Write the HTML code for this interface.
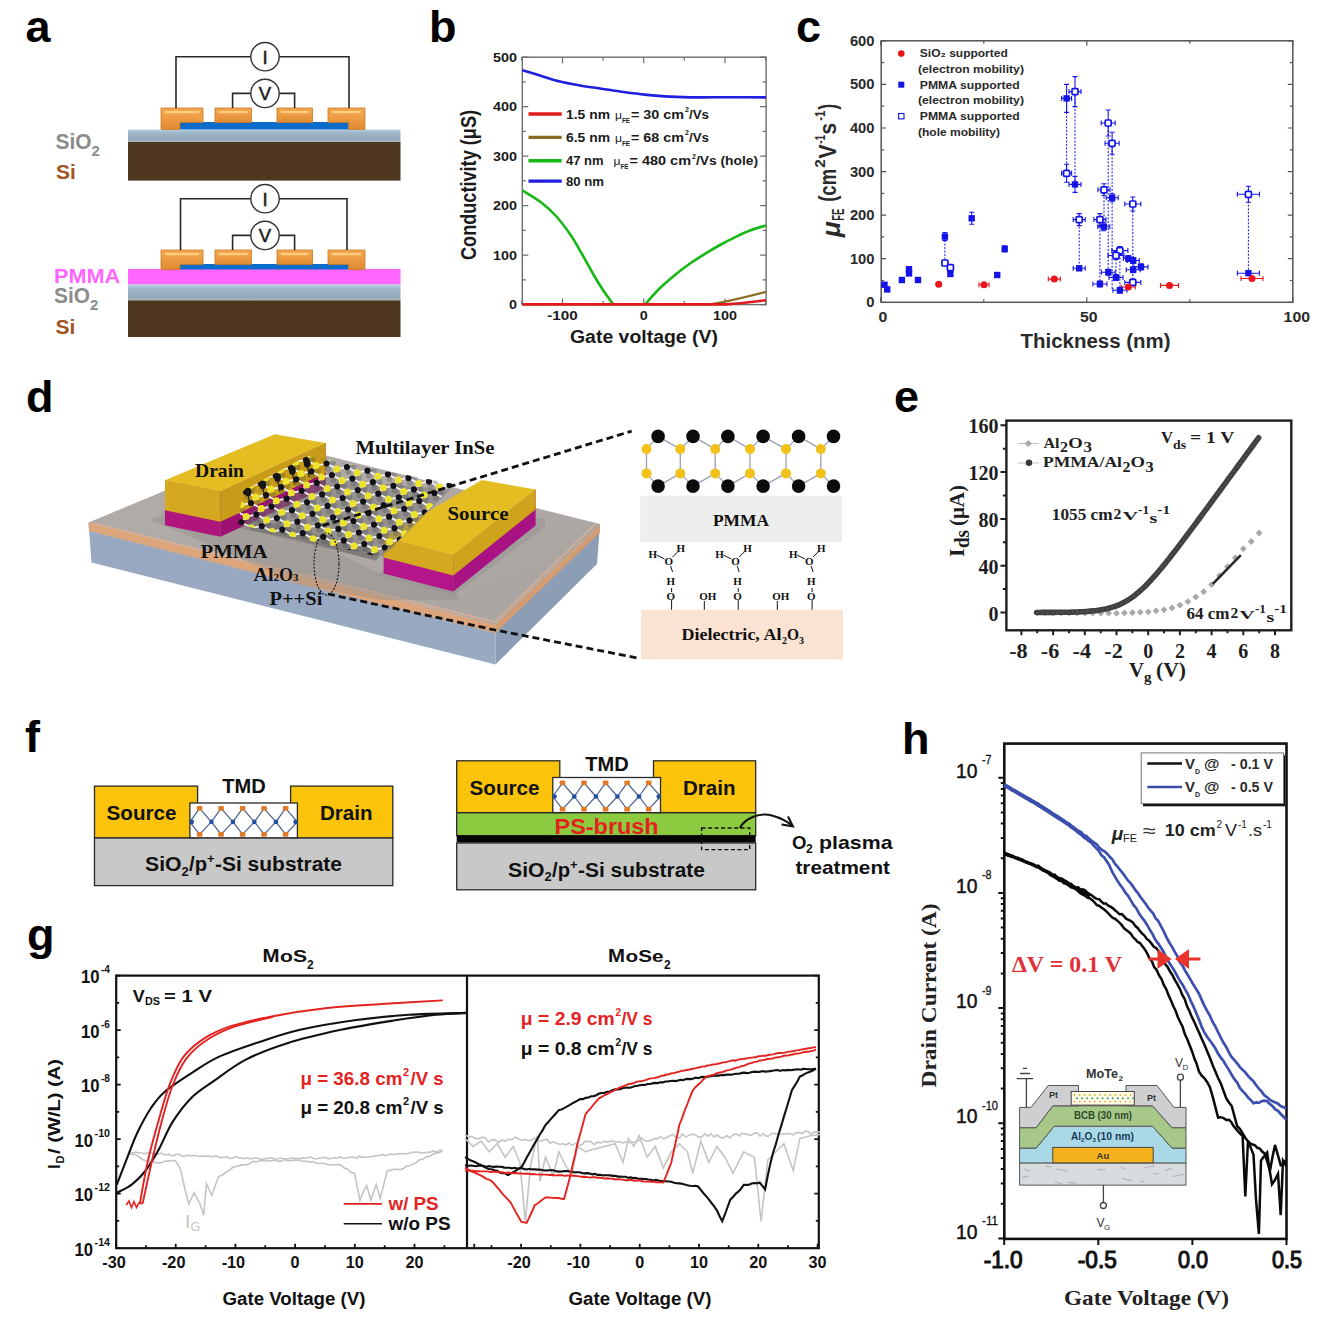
<!DOCTYPE html>
<html><head><meta charset="utf-8"><title>figure</title>
<style>html,body{margin:0;padding:0;background:#fff;overflow:hidden}svg{display:block}</style>
</head><body>
<svg width="1325" height="1321" viewBox="0 0 1325 1321">
<rect width="1325" height="1321" fill="#fff"/>
<text x="25.5" y="42.0" font-family='"Liberation Sans", sans-serif' font-size="45" font-weight="bold" fill="#000">a</text>
<text x="429.0" y="41.5" font-family='"Liberation Sans", sans-serif' font-size="45" font-weight="bold" fill="#000">b</text>
<text x="796.0" y="42.0" font-family='"Liberation Sans", sans-serif' font-size="45" font-weight="bold" fill="#000">c</text>
<text x="26.0" y="412.0" font-family='"Liberation Sans", sans-serif' font-size="45" font-weight="bold" fill="#000">d</text>
<text x="894.0" y="412.0" font-family='"Liberation Sans", sans-serif' font-size="45" font-weight="bold" fill="#000">e</text>
<text x="25.0" y="752.0" font-family='"Liberation Sans", sans-serif' font-size="45" font-weight="bold" fill="#000">f</text>
<text x="27.0" y="950.0" font-family='"Liberation Sans", sans-serif' font-size="45" font-weight="bold" fill="#000">g</text>
<text x="902.0" y="754.0" font-family='"Liberation Sans", sans-serif' font-size="45" font-weight="bold" fill="#000">h</text>
<defs><linearGradient id="elec" x1="0" y1="0" x2="0" y2="1"><stop offset="0" stop-color="#f2a850"/><stop offset="0.35" stop-color="#f0a048"/><stop offset="1" stop-color="#e08a30"/></linearGradient><linearGradient id="sio2" x1="0" y1="0" x2="0" y2="1"><stop offset="0" stop-color="#b4d4ee"/><stop offset="0.25" stop-color="#9fb6c8"/><stop offset="0.8" stop-color="#93a9ba"/><stop offset="1" stop-color="#aab6b8"/></linearGradient></defs>
<rect x="128" y="129.5" width="272.5" height="12.5" fill="url(#sio2)"/>
<rect x="128" y="142" width="272.5" height="38.6" fill="#4f361f"/>
<rect x="180" y="122.0" width="168.7" height="7.5" fill="#0b6ccc"/>
<path d="M161.0,108.0 L203.0,108.0 L203.0,122.5 L180.0,122.5 L180.0,129.5 L161.0,129.5 Z" fill="url(#elec)" stroke="#c97825" stroke-width="0.8"/>
<path d="M328.0,108.0 L365.0,108.0 L365.0,129.5 L348.7,129.5 L348.7,122.5 L328.0,122.5 Z" fill="url(#elec)" stroke="#c97825" stroke-width="0.8"/>
<rect x="215" y="108" width="36.5" height="14.5" fill="url(#elec)" stroke="#c97825" stroke-width="0.8"/>
<rect x="277" y="108" width="35.5" height="14.5" fill="url(#elec)" stroke="#c97825" stroke-width="0.8"/>
<rect x="165" y="111.0" width="34" height="2.2" fill="#ffd890" opacity="0.8"/>
<rect x="219" y="111.0" width="28.5" height="2.2" fill="#ffd890" opacity="0.8"/>
<rect x="281" y="111.0" width="27.5" height="2.2" fill="#ffd890" opacity="0.8"/>
<rect x="332" y="111.0" width="29" height="2.2" fill="#ffd890" opacity="0.8"/>
<path d="M176,108 V56.7 H349 V108" fill="none" stroke="#2a2a2a" stroke-width="1.6"/>
<path d="M232.6,108 V93.4 H294.6 V108" fill="none" stroke="#2a2a2a" stroke-width="1.6"/>
<circle cx="265" cy="56.7" r="14.2" fill="#fff" stroke="#333" stroke-width="1.4"/>
<text x="265.0" y="63.5" font-family='"Liberation Sans", sans-serif' font-size="18.5" font-weight="normal" fill="#1a1a1a" text-anchor="middle" stroke="#1a1a1a" stroke-width="0.5">I</text>
<circle cx="265" cy="93.4" r="14.2" fill="#fff" stroke="#333" stroke-width="1.4"/>
<text x="265.0" y="100.2" font-family='"Liberation Sans", sans-serif' font-size="18.5" font-weight="normal" fill="#1a1a1a" text-anchor="middle" stroke="#1a1a1a" stroke-width="0.5">V</text>
<rect x="128" y="268.9" width="272.5" height="15.8" fill="#ff66ff"/>
<rect x="128" y="284.7" width="272.5" height="15.7" fill="url(#sio2)"/>
<rect x="128" y="284.2" width="272.5" height="1.6" fill="#c9c3ea"/>
<rect x="128" y="300.4" width="272.5" height="36.6" fill="#4f361f"/>
<rect x="180" y="264.0" width="168.7" height="5.5" fill="#0b6ccc"/>
<path d="M161.0,250.0 L203.0,250.0 L203.0,264.5 L180.0,264.5 L180.0,269.5 L161.0,269.5 Z" fill="url(#elec)" stroke="#c97825" stroke-width="0.8"/>
<path d="M328.0,250.0 L365.0,250.0 L365.0,269.5 L348.7,269.5 L348.7,264.5 L328.0,264.5 Z" fill="url(#elec)" stroke="#c97825" stroke-width="0.8"/>
<rect x="215" y="250" width="36.5" height="14.5" fill="url(#elec)" stroke="#c97825" stroke-width="0.8"/>
<rect x="277" y="250" width="35.5" height="14.5" fill="url(#elec)" stroke="#c97825" stroke-width="0.8"/>
<rect x="165" y="253.0" width="34" height="2.2" fill="#ffd890" opacity="0.8"/>
<rect x="219" y="253.0" width="28.5" height="2.2" fill="#ffd890" opacity="0.8"/>
<rect x="281" y="253.0" width="27.5" height="2.2" fill="#ffd890" opacity="0.8"/>
<rect x="332" y="253.0" width="29" height="2.2" fill="#ffd890" opacity="0.8"/>
<path d="M180.5,250 V198.7 H347 V250" fill="none" stroke="#2a2a2a" stroke-width="1.6"/>
<path d="M232.6,250 V235.4 H294.6 V250" fill="none" stroke="#2a2a2a" stroke-width="1.6"/>
<circle cx="265" cy="198.7" r="14.2" fill="#fff" stroke="#333" stroke-width="1.4"/>
<text x="265.0" y="205.5" font-family='"Liberation Sans", sans-serif' font-size="18.5" font-weight="normal" fill="#1a1a1a" text-anchor="middle" stroke="#1a1a1a" stroke-width="0.5">I</text>
<circle cx="265" cy="235.4" r="14.2" fill="#fff" stroke="#333" stroke-width="1.4"/>
<text x="265.0" y="242.2" font-family='"Liberation Sans", sans-serif' font-size="18.5" font-weight="normal" fill="#1a1a1a" text-anchor="middle" stroke="#1a1a1a" stroke-width="0.5">V</text>
<text x="55.5" y="149.0" font-family='"Liberation Sans", sans-serif' font-size="21.5" font-weight="bold" fill="#8c8c8c" textLength="36.0" lengthAdjust="spacingAndGlyphs">SiO</text>
<text x="91.5" y="155.5" font-family='"Liberation Sans", sans-serif' font-size="15" font-weight="bold" fill="#8c8c8c">2</text>
<text x="56.0" y="178.5" font-family='"Liberation Sans", sans-serif' font-size="21" font-weight="bold" fill="#a4541e">Si</text>
<text x="54.0" y="283.0" font-family='"Liberation Sans", sans-serif' font-size="21" font-weight="bold" fill="#ff66ff" textLength="66.0" lengthAdjust="spacingAndGlyphs">PMMA</text>
<text x="54.0" y="302.5" font-family='"Liberation Sans", sans-serif' font-size="21.5" font-weight="bold" fill="#8c8c8c" textLength="36.0" lengthAdjust="spacingAndGlyphs">SiO</text>
<text x="90.0" y="309.5" font-family='"Liberation Sans", sans-serif' font-size="15" font-weight="bold" fill="#8c8c8c">2</text>
<text x="55.5" y="333.5" font-family='"Liberation Sans", sans-serif' font-size="21" font-weight="bold" fill="#a4541e">Si</text>
<rect x="522.3" y="57.2" width="243.8" height="247.4" fill="none" stroke="#6e6e6e" stroke-width="1.4"/>
<path d="M522.3,304.6 h6 M766.1,304.6 h-6 M522.3,279.9 h3.5 M766.1,279.9 h-3.5 M522.3,255.1 h6 M766.1,255.1 h-6 M522.3,230.4 h3.5 M766.1,230.4 h-3.5 M522.3,205.6 h6 M766.1,205.6 h-6 M522.3,180.9 h3.5 M766.1,180.9 h-3.5 M522.3,156.2 h6 M766.1,156.2 h-6 M522.3,131.4 h3.5 M766.1,131.4 h-3.5 M522.3,106.7 h6 M766.1,106.7 h-6 M522.3,81.9 h3.5 M766.1,81.9 h-3.5 M522.3,57.2 h6 M766.1,57.2 h-6 M521.8,304.6 v-3.5 M521.8,57.2 v3.5 M562.5,304.6 v-6 M562.5,57.2 v6 M603.1,304.6 v-3.5 M603.1,57.2 v3.5 M643.7,304.6 v-6 M643.7,57.2 v6 M684.3,304.6 v-3.5 M684.3,57.2 v3.5 M725.0,304.6 v-6 M725.0,57.2 v6 M765.6,304.6 v-3.5 M765.6,57.2 v3.5" stroke="#6e6e6e" stroke-width="1.2" fill="none"/>
<text x="517.0" y="309.2" font-family='"Liberation Sans", sans-serif' font-size="12.5" font-weight="bold" fill="#1a1a1a" text-anchor="end" textLength="8.0" lengthAdjust="spacingAndGlyphs">0</text>
<text x="517.0" y="259.7" font-family='"Liberation Sans", sans-serif' font-size="12.5" font-weight="bold" fill="#1a1a1a" text-anchor="end" textLength="24.0" lengthAdjust="spacingAndGlyphs">100</text>
<text x="517.0" y="210.2" font-family='"Liberation Sans", sans-serif' font-size="12.5" font-weight="bold" fill="#1a1a1a" text-anchor="end" textLength="24.0" lengthAdjust="spacingAndGlyphs">200</text>
<text x="517.0" y="160.8" font-family='"Liberation Sans", sans-serif' font-size="12.5" font-weight="bold" fill="#1a1a1a" text-anchor="end" textLength="24.0" lengthAdjust="spacingAndGlyphs">300</text>
<text x="517.0" y="111.3" font-family='"Liberation Sans", sans-serif' font-size="12.5" font-weight="bold" fill="#1a1a1a" text-anchor="end" textLength="24.0" lengthAdjust="spacingAndGlyphs">400</text>
<text x="517.0" y="61.8" font-family='"Liberation Sans", sans-serif' font-size="12.5" font-weight="bold" fill="#1a1a1a" text-anchor="end" textLength="24.0" lengthAdjust="spacingAndGlyphs">500</text>
<text x="562.5" y="320.0" font-family='"Liberation Sans", sans-serif' font-size="12.5" font-weight="bold" fill="#1a1a1a" text-anchor="middle" textLength="30.5" lengthAdjust="spacingAndGlyphs">-100</text>
<text x="643.7" y="320.0" font-family='"Liberation Sans", sans-serif' font-size="12.5" font-weight="bold" fill="#1a1a1a" text-anchor="middle" textLength="8.0" lengthAdjust="spacingAndGlyphs">0</text>
<text x="725.0" y="320.0" font-family='"Liberation Sans", sans-serif' font-size="12.5" font-weight="bold" fill="#1a1a1a" text-anchor="middle" textLength="24.0" lengthAdjust="spacingAndGlyphs">100</text>
<text x="644.0" y="342.5" font-family='"Liberation Sans", sans-serif' font-size="18" font-weight="bold" fill="#1a1a1a" text-anchor="middle" textLength="148.0" lengthAdjust="spacingAndGlyphs">Gate voltage (V)</text>
<text x="476.0" y="185.0" font-family='"Liberation Sans", sans-serif' font-size="22.5" font-weight="bold" fill="#1a1a1a" text-anchor="middle" textLength="150.0" lengthAdjust="spacingAndGlyphs" transform="rotate(-90 476.0 185.0)">Conductivity (μS)</text>
<path d="M522.5,70.2 C525.4,71.1 533.8,73.6 540.0,75.5 C546.2,77.4 553.3,79.8 560.0,81.5 C566.7,83.2 573.3,84.3 580.0,85.5 C586.7,86.7 593.3,87.5 600.0,88.5 C606.7,89.5 612.5,90.5 620.0,91.5 C627.5,92.5 636.7,93.8 645.0,94.6 C653.3,95.4 660.8,96.1 670.0,96.6 C679.2,97.1 690.0,97.3 700.0,97.4 C710.0,97.5 719.0,97.2 730.0,97.2 C741.0,97.2 760.0,97.4 766.0,97.4" fill="none" stroke="#1f1fe0" stroke-width="2.6"/>
<path d="M522.5,190.5 C525.5,192.4 535.0,197.8 540.6,202.0 C546.2,206.2 551.0,210.4 556.0,216.0 C561.0,221.6 566.5,229.0 570.8,235.3 C575.1,241.6 578.2,247.5 582.0,254.0 C585.8,260.5 589.9,268.5 593.4,274.5 C596.9,280.5 599.7,285.1 603.0,290.0 C606.3,294.9 611.3,301.7 613.0,304.0" fill="none" stroke="#16b816" stroke-width="2.6"/>
<path d="M645.3,304.0 C647.8,301.3 655.0,292.9 660.0,288.0 C665.0,283.1 670.5,278.6 675.5,274.5 C680.5,270.4 685.0,267.0 690.0,263.5 C695.0,260.0 700.7,256.5 705.7,253.4 C710.7,250.3 715.0,247.8 720.0,245.0 C725.0,242.2 730.8,239.2 735.8,236.8 C740.8,234.4 745.0,232.4 750.0,230.5 C755.0,228.6 763.3,226.3 766.0,225.5" fill="none" stroke="#16b816" stroke-width="2.6"/>
<path d="M522.5,304.2 H712 Q735,300 766,291.9" fill="none" stroke="#8a6a20" stroke-width="2.2"/>
<path d="M522.5,304.4 H726 Q745,303 766,300.2" fill="none" stroke="#e01b1b" stroke-width="2.6"/>
<line x1="528.5" y1="114" x2="561.7" y2="114" stroke="#e01b1b" stroke-width="3.4"/>
<line x1="528.5" y1="137.4" x2="561.7" y2="137.4" stroke="#8a6a20" stroke-width="3.4"/>
<line x1="528.5" y1="160.8" x2="561.7" y2="160.8" stroke="#16b816" stroke-width="3.4"/>
<line x1="528.5" y1="181.1" x2="561.7" y2="181.1" stroke="#1f1fe0" stroke-width="3.4"/>
<text x="566.0" y="118.8" font-family='"Liberation Sans", sans-serif' font-size="12" font-weight="bold" fill="#1a1a1a" textLength="44.0" lengthAdjust="spacingAndGlyphs">1.5 nm</text>
<text x="615.0" y="118.8" font-family='"Liberation Sans", sans-serif' font-size="11" font-weight="normal" fill="#1a1a1a" textLength="7.0" lengthAdjust="spacingAndGlyphs">μ</text>
<text x="622.0" y="122.5" font-family='"Liberation Sans", sans-serif' font-size="6.5" font-weight="bold" fill="#1a1a1a" textLength="8.0" lengthAdjust="spacingAndGlyphs">FE</text>
<text x="631.0" y="118.8" font-family='"Liberation Sans", sans-serif' font-size="12" font-weight="bold" fill="#1a1a1a" textLength="53.0" lengthAdjust="spacingAndGlyphs">= 30 cm</text>
<text x="685.0" y="112.0" font-family='"Liberation Sans", sans-serif' font-size="7" font-weight="bold" fill="#1a1a1a">2</text>
<text x="689.0" y="118.8" font-family='"Liberation Sans", sans-serif' font-size="12" font-weight="bold" fill="#1a1a1a" textLength="20.0" lengthAdjust="spacingAndGlyphs">/Vs</text>
<text x="566.0" y="141.8" font-family='"Liberation Sans", sans-serif' font-size="12" font-weight="bold" fill="#1a1a1a" textLength="44.0" lengthAdjust="spacingAndGlyphs">6.5 nm</text>
<text x="615.0" y="141.8" font-family='"Liberation Sans", sans-serif' font-size="11" font-weight="normal" fill="#1a1a1a" textLength="7.0" lengthAdjust="spacingAndGlyphs">μ</text>
<text x="622.0" y="145.5" font-family='"Liberation Sans", sans-serif' font-size="6.5" font-weight="bold" fill="#1a1a1a" textLength="8.0" lengthAdjust="spacingAndGlyphs">FE</text>
<text x="631.0" y="141.8" font-family='"Liberation Sans", sans-serif' font-size="12" font-weight="bold" fill="#1a1a1a" textLength="53.0" lengthAdjust="spacingAndGlyphs">= 68 cm</text>
<text x="685.0" y="135.0" font-family='"Liberation Sans", sans-serif' font-size="7" font-weight="bold" fill="#1a1a1a">2</text>
<text x="689.0" y="141.8" font-family='"Liberation Sans", sans-serif' font-size="12" font-weight="bold" fill="#1a1a1a" textLength="20.0" lengthAdjust="spacingAndGlyphs">/Vs</text>
<text x="566.0" y="165.2" font-family='"Liberation Sans", sans-serif' font-size="12" font-weight="bold" fill="#1a1a1a" textLength="37.5" lengthAdjust="spacingAndGlyphs">47 nm</text>
<text x="613.5" y="165.2" font-family='"Liberation Sans", sans-serif' font-size="11" font-weight="normal" fill="#1a1a1a" textLength="7.0" lengthAdjust="spacingAndGlyphs">μ</text>
<text x="620.5" y="169.0" font-family='"Liberation Sans", sans-serif' font-size="6.5" font-weight="bold" fill="#1a1a1a" textLength="8.0" lengthAdjust="spacingAndGlyphs">FE</text>
<text x="629.5" y="165.2" font-family='"Liberation Sans", sans-serif' font-size="12" font-weight="bold" fill="#1a1a1a" textLength="61.5" lengthAdjust="spacingAndGlyphs">= 480 cm</text>
<text x="692.0" y="158.5" font-family='"Liberation Sans", sans-serif' font-size="7" font-weight="bold" fill="#1a1a1a">2</text>
<text x="696.0" y="165.2" font-family='"Liberation Sans", sans-serif' font-size="12" font-weight="bold" fill="#1a1a1a" textLength="62.0" lengthAdjust="spacingAndGlyphs">/Vs (hole)</text>
<text x="566.0" y="185.5" font-family='"Liberation Sans", sans-serif' font-size="12" font-weight="bold" fill="#1a1a1a" textLength="38.0" lengthAdjust="spacingAndGlyphs">80 nm</text>
<rect x="881.2" y="40.8" width="411.6" height="261.5" fill="none" stroke="#555" stroke-width="1.5"/>
<path d="M881.2,302.3 h5 M1292.8,302.3 h-5 M881.2,280.5 h3 M1292.8,280.5 h-3 M881.2,258.7 h5 M1292.8,258.7 h-5 M881.2,236.9 h3 M1292.8,236.9 h-3 M881.2,215.1 h5 M1292.8,215.1 h-5 M881.2,193.4 h3 M1292.8,193.4 h-3 M881.2,171.6 h5 M1292.8,171.6 h-5 M881.2,149.8 h3 M1292.8,149.8 h-3 M881.2,128.0 h5 M1292.8,128.0 h-5 M881.2,106.2 h3 M1292.8,106.2 h-3 M881.2,84.4 h5 M1292.8,84.4 h-5 M881.2,62.6 h3 M1292.8,62.6 h-3 M881.2,40.8 h5 M1292.8,40.8 h-5 M880.8,302.3 v-5 M880.8,40.8 v5 M983.8,302.3 v-3 M983.8,40.8 v3 M1086.8,302.3 v-5 M1086.8,40.8 v5 M1189.8,302.3 v-3 M1189.8,40.8 v3 M1292.8,302.3 v-5 M1292.8,40.8 v5" stroke="#555" stroke-width="1.2" fill="none"/>
<text x="874.5" y="307.3" font-family='"Liberation Sans", sans-serif' font-size="14" font-weight="bold" fill="#2a2a2a" text-anchor="end" textLength="8.2" lengthAdjust="spacingAndGlyphs">0</text>
<text x="874.5" y="263.7" font-family='"Liberation Sans", sans-serif' font-size="14" font-weight="bold" fill="#2a2a2a" text-anchor="end" textLength="24.6" lengthAdjust="spacingAndGlyphs">100</text>
<text x="874.5" y="220.1" font-family='"Liberation Sans", sans-serif' font-size="14" font-weight="bold" fill="#2a2a2a" text-anchor="end" textLength="24.6" lengthAdjust="spacingAndGlyphs">200</text>
<text x="874.5" y="176.6" font-family='"Liberation Sans", sans-serif' font-size="14" font-weight="bold" fill="#2a2a2a" text-anchor="end" textLength="24.6" lengthAdjust="spacingAndGlyphs">300</text>
<text x="874.5" y="133.0" font-family='"Liberation Sans", sans-serif' font-size="14" font-weight="bold" fill="#2a2a2a" text-anchor="end" textLength="24.6" lengthAdjust="spacingAndGlyphs">400</text>
<text x="874.5" y="89.4" font-family='"Liberation Sans", sans-serif' font-size="14" font-weight="bold" fill="#2a2a2a" text-anchor="end" textLength="24.6" lengthAdjust="spacingAndGlyphs">500</text>
<text x="874.5" y="45.8" font-family='"Liberation Sans", sans-serif' font-size="14" font-weight="bold" fill="#2a2a2a" text-anchor="end" textLength="24.6" lengthAdjust="spacingAndGlyphs">600</text>
<text x="882.8" y="321.5" font-family='"Liberation Sans", sans-serif' font-size="14" font-weight="bold" fill="#2a2a2a" text-anchor="middle" textLength="8.8" lengthAdjust="spacingAndGlyphs">0</text>
<text x="1088.8" y="321.5" font-family='"Liberation Sans", sans-serif' font-size="14" font-weight="bold" fill="#2a2a2a" text-anchor="middle" textLength="17.6" lengthAdjust="spacingAndGlyphs">50</text>
<text x="1296.8" y="321.5" font-family='"Liberation Sans", sans-serif' font-size="14" font-weight="bold" fill="#2a2a2a" text-anchor="middle" textLength="26.4" lengthAdjust="spacingAndGlyphs">100</text>
<text x="1095.5" y="348.0" font-family='"Liberation Sans", sans-serif' font-size="20" font-weight="bold" fill="#2a2a2a" text-anchor="middle" textLength="150.0" lengthAdjust="spacingAndGlyphs">Thickness (nm)</text>
<g transform="translate(835.5 237.3) scale(1.15 1) rotate(-90)"><text x="0" y="3.5" font-family='"Liberation Sans", sans-serif' font-size="23" font-weight="bold" font-style="italic" fill="#2a2a2a" textLength="16" lengthAdjust="spacingAndGlyphs">μ</text><text x="16.5" y="7.5" font-family='"Liberation Sans", sans-serif' font-size="15" font-weight="bold" font-style="normal" fill="#2a2a2a" textLength="12" lengthAdjust="spacingAndGlyphs">FE</text><text x="35.5" y="0" font-family='"Liberation Sans", sans-serif' font-size="20" font-weight="bold" font-style="normal" fill="#2a2a2a" textLength="33" lengthAdjust="spacingAndGlyphs">(cm</text><text x="69.5" y="-9" font-family='"Liberation Sans", sans-serif' font-size="13" font-weight="bold" font-style="normal" fill="#2a2a2a" textLength="8.5" lengthAdjust="spacingAndGlyphs">2</text><text x="78.5" y="0" font-family='"Liberation Sans", sans-serif' font-size="20" font-weight="bold" font-style="normal" fill="#2a2a2a" textLength="14.5" lengthAdjust="spacingAndGlyphs">V</text><text x="93.5" y="-9" font-family='"Liberation Sans", sans-serif' font-size="12.5" font-weight="bold" font-style="normal" fill="#2a2a2a" textLength="9" lengthAdjust="spacingAndGlyphs">-1</text><text x="102.5" y="0" font-family='"Liberation Sans", sans-serif' font-size="20" font-weight="bold" font-style="normal" fill="#2a2a2a" textLength="12" lengthAdjust="spacingAndGlyphs">s</text><text x="116.5" y="-9" font-family='"Liberation Sans", sans-serif' font-size="12.5" font-weight="bold" font-style="normal" fill="#2a2a2a" textLength="10" lengthAdjust="spacingAndGlyphs">-1</text><text x="127.5" y="0" font-family='"Liberation Sans", sans-serif' font-size="20" font-weight="bold" font-style="normal" fill="#2a2a2a" textLength="6" lengthAdjust="spacingAndGlyphs">)</text></g>
<circle cx="901.3" cy="53.6" r="3.3" fill="#e8151b"/>
<rect x="898.3" y="81.7" width="6" height="6" fill="#1414e6"/>
<rect x="898.6" y="113.5" width="5.4" height="5.4" fill="none" stroke="#1414e6" stroke-width="1.1"/>
<text x="919.8" y="57.4" font-family='"Liberation Sans", sans-serif' font-size="11.5" font-weight="bold" fill="#2a2a2a" textLength="88.0" lengthAdjust="spacingAndGlyphs">SiO₂ supported</text>
<text x="918.0" y="72.9" font-family='"Liberation Sans", sans-serif' font-size="11.5" font-weight="bold" fill="#2a2a2a" textLength="106.0" lengthAdjust="spacingAndGlyphs">(electron mobility)</text>
<text x="919.8" y="88.9" font-family='"Liberation Sans", sans-serif' font-size="11.5" font-weight="bold" fill="#2a2a2a" textLength="100.0" lengthAdjust="spacingAndGlyphs">PMMA supported</text>
<text x="918.0" y="104.4" font-family='"Liberation Sans", sans-serif' font-size="11.5" font-weight="bold" fill="#2a2a2a" textLength="106.0" lengthAdjust="spacingAndGlyphs">(electron mobility)</text>
<text x="919.8" y="120.2" font-family='"Liberation Sans", sans-serif' font-size="11.5" font-weight="bold" fill="#2a2a2a" textLength="100.0" lengthAdjust="spacingAndGlyphs">PMMA supported</text>
<text x="918.0" y="135.5" font-family='"Liberation Sans", sans-serif' font-size="11.5" font-weight="bold" fill="#2a2a2a" textLength="82.0" lengthAdjust="spacingAndGlyphs">(hole mobility)</text>
<path d="M944.9,236.6 V263 M1066.6,98.4 V173.3 M1075,91.6 V184.4 M1108.2,123 V272.2 M1112.1,143.3 V290.3 M1079.2,219.6 V268.3 M1099.9,219.6 V284 M1104,189.8 V226.7 M1132.8,204 V282.4 M1116,255.5 V277.5 M1119.9,250.6 V290.3 M1248.4,194.3 V273.2" stroke="#1414e6" stroke-width="1" stroke-dasharray="2 1.5" fill="none"/>
<path d="M944.9,232.6 V240.6 M942.4,232.6 h5 M942.4,240.6 h5 M971.7,212.3 V224.3 M969.2,212.3 h5 M969.2,224.3 h5 M1004.7,245.9 V251.9 M1002.2,245.9 h5 M1002.2,251.9 h5 M1061.6,98.4 H1071.6 M1061.6,95.9 v5 M1071.6,95.9 v5 M1066.6,84.4 V112.4 M1064.1,84.4 h5 M1064.1,112.4 h5 M1069,184.4 H1081 M1069,181.9 v5 M1081,181.9 v5 M1075,176.4 V192.4 M1072.5,176.4 h5 M1072.5,192.4 h5 M1106.2,197.7 H1118.2 M1106.2,195.2 v5 M1118.2,195.2 v5 M1112.2,193.7 V201.7 M1109.7,193.7 h5 M1109.7,201.7 h5 M1073.2,268.3 H1085.2 M1073.2,265.8 v5 M1085.2,265.8 v5 M1097.8,226.7 H1109.8 M1097.8,224.2 v5 M1109.8,224.2 v5 M1103.8,222.7 V230.7 M1101.3,222.7 h5 M1101.3,230.7 h5 M1123.3,258.5 H1133.3 M1123.3,256.0 v5 M1133.3,256.0 v5 M1128.3,255.5 V261.5 M1125.8,255.5 h5 M1125.8,261.5 h5 M1127.2,260.5 H1139.2 M1127.2,258.0 v5 M1139.2,258.0 v5 M1133.2,257.5 V263.5 M1130.7,257.5 h5 M1130.7,263.5 h5 M1134,266.9 H1148 M1134,264.4 v5 M1148,264.4 v5 M1141,263.9 V269.9 M1138.5,263.9 h5 M1138.5,269.9 h5 M1126.2,269.7 H1140.2 M1126.2,267.2 v5 M1140.2,267.2 v5 M1133.2,266.7 V272.7 M1130.7,266.7 h5 M1130.7,272.7 h5 M1101.3,272.2 H1115.3 M1101.3,269.7 v5 M1115.3,269.7 v5 M1108.3,269.2 V275.2 M1105.8,269.2 h5 M1105.8,275.2 h5 M1109,277.5 H1123 M1109,275.0 v5 M1123,275.0 v5 M1116,274.5 V280.5 M1113.5,274.5 h5 M1113.5,280.5 h5 M1092.9,284 H1106.9 M1092.9,281.5 v5 M1106.9,281.5 v5 M1099.9,281 V287 M1097.4,281 h5 M1097.4,287 h5 M1112.9,290.3 H1126.9 M1112.9,287.8 v5 M1126.9,287.8 v5 M1119.9,287.3 V293.3 M1117.4,287.3 h5 M1117.4,293.3 h5 M1237.4,273.2 H1259.4 M1237.4,270.7 v5 M1259.4,270.7 v5 M1069,91.6 H1081 M1069,89.1 v5 M1081,89.1 v5 M1075,76.6 V106.6 M1072.5,76.6 h5 M1072.5,106.6 h5 M1061.6,173.3 H1071.6 M1061.6,170.8 v5 M1071.6,170.8 v5 M1066.6,164.3 V182.3 M1064.1,164.3 h5 M1064.1,182.3 h5 M1101.2,123 H1115.2 M1101.2,120.5 v5 M1115.2,120.5 v5 M1108.2,110 V136 M1105.7,110 h5 M1105.7,136 h5 M1105.1,143.3 H1119.1 M1105.1,140.8 v5 M1119.1,140.8 v5 M1112.1,132.3 V154.3 M1109.6,132.3 h5 M1109.6,154.3 h5 M1098,189.8 H1110 M1098,187.3 v5 M1110,187.3 v5 M1104,183.8 V195.8 M1101.5,183.8 h5 M1101.5,195.8 h5 M1124.8,204 H1140.8 M1124.8,201.5 v5 M1140.8,201.5 v5 M1132.8,197 V211 M1130.3,197 h5 M1130.3,211 h5 M1073.2,219.6 H1085.2 M1073.2,217.1 v5 M1085.2,217.1 v5 M1079.2,213.6 V225.6 M1076.7,213.6 h5 M1076.7,225.6 h5 M1093.9,219.6 H1105.9 M1093.9,217.1 v5 M1105.9,217.1 v5 M1099.9,213.6 V225.6 M1097.4,213.6 h5 M1097.4,225.6 h5 M1111.9,250.6 H1127.9 M1111.9,248.1 v5 M1127.9,248.1 v5 M1119.9,246.6 V254.6 M1117.4,246.6 h5 M1117.4,254.6 h5 M1108,255.5 H1124 M1108,253.0 v5 M1124,253.0 v5 M1116,251.5 V259.5 M1113.5,251.5 h5 M1113.5,259.5 h5 M1124.8,282.4 H1140.8 M1124.8,279.9 v5 M1140.8,279.9 v5 M1132.8,279.4 V285.4 M1130.3,279.4 h5 M1130.3,285.4 h5 M1237.4,194.3 H1259.4 M1237.4,191.8 v5 M1259.4,191.8 v5 M1248.4,186.3 V202.3 M1245.9,186.3 h5 M1245.9,202.3 h5 " stroke="#1414e6" stroke-width="1.1" fill="none"/>
<path d="M979,284.7 H989 M979,282.2 v5 M989,282.2 v5 M1048.3,279.1 H1060.3 M1048.3,276.6 v5 M1060.3,276.6 v5 M1121.3,287 H1135.3 M1121.3,284.5 v5 M1135.3,284.5 v5 M1160.5,285.4 H1178.5 M1160.5,282.9 v5 M1178.5,282.9 v5 M1241,278.5 H1263 M1241,276.0 v5 M1263,276.0 v5 " stroke="#e8151b" stroke-width="1.1" fill="none"/>
<rect x="881.3" y="281.5" width="6.4" height="6.4" fill="#1414e6"/>
<rect x="884.0" y="286.2" width="6.4" height="6.4" fill="#1414e6"/>
<rect x="898.7" y="276.8" width="6.4" height="6.4" fill="#1414e6"/>
<rect x="905.8" y="266.0" width="6.4" height="6.4" fill="#1414e6"/>
<rect x="905.8" y="270.2" width="6.4" height="6.4" fill="#1414e6"/>
<rect x="914.8" y="276.8" width="6.4" height="6.4" fill="#1414e6"/>
<rect x="941.7" y="233.4" width="6.4" height="6.4" fill="#1414e6"/>
<rect x="947.2" y="270.8" width="6.4" height="6.4" fill="#1414e6"/>
<rect x="968.5" y="215.1" width="6.4" height="6.4" fill="#1414e6"/>
<rect x="994.0" y="271.8" width="6.4" height="6.4" fill="#1414e6"/>
<rect x="1001.5" y="245.7" width="6.4" height="6.4" fill="#1414e6"/>
<rect x="1063.4" y="95.2" width="6.4" height="6.4" fill="#1414e6"/>
<rect x="1071.8" y="181.2" width="6.4" height="6.4" fill="#1414e6"/>
<rect x="1109.0" y="194.5" width="6.4" height="6.4" fill="#1414e6"/>
<rect x="1076.0" y="265.1" width="6.4" height="6.4" fill="#1414e6"/>
<rect x="1100.6" y="223.5" width="6.4" height="6.4" fill="#1414e6"/>
<rect x="1125.1" y="255.3" width="6.4" height="6.4" fill="#1414e6"/>
<rect x="1130.0" y="257.3" width="6.4" height="6.4" fill="#1414e6"/>
<rect x="1137.8" y="263.7" width="6.4" height="6.4" fill="#1414e6"/>
<rect x="1130.0" y="266.5" width="6.4" height="6.4" fill="#1414e6"/>
<rect x="1105.1" y="269.0" width="6.4" height="6.4" fill="#1414e6"/>
<rect x="1112.8" y="274.3" width="6.4" height="6.4" fill="#1414e6"/>
<rect x="1096.7" y="280.8" width="6.4" height="6.4" fill="#1414e6"/>
<rect x="1116.7" y="287.1" width="6.4" height="6.4" fill="#1414e6"/>
<rect x="1245.2" y="270.0" width="6.4" height="6.4" fill="#1414e6"/>
<rect x="941.9" y="260.0" width="6" height="6" rx="1" fill="#fff" stroke="#1414e6" stroke-width="1.7"/>
<rect x="947.4" y="264.7" width="6" height="6" rx="1" fill="#fff" stroke="#1414e6" stroke-width="1.7"/>
<rect x="1072.0" y="88.6" width="6" height="6" rx="1" fill="#fff" stroke="#1414e6" stroke-width="1.7"/>
<rect x="1063.6" y="170.3" width="6" height="6" rx="1" fill="#fff" stroke="#1414e6" stroke-width="1.7"/>
<rect x="1105.2" y="120.0" width="6" height="6" rx="1" fill="#fff" stroke="#1414e6" stroke-width="1.7"/>
<rect x="1109.1" y="140.3" width="6" height="6" rx="1" fill="#fff" stroke="#1414e6" stroke-width="1.7"/>
<rect x="1101.0" y="186.8" width="6" height="6" rx="1" fill="#fff" stroke="#1414e6" stroke-width="1.7"/>
<rect x="1129.8" y="201.0" width="6" height="6" rx="1" fill="#fff" stroke="#1414e6" stroke-width="1.7"/>
<rect x="1076.2" y="216.6" width="6" height="6" rx="1" fill="#fff" stroke="#1414e6" stroke-width="1.7"/>
<rect x="1096.9" y="216.6" width="6" height="6" rx="1" fill="#fff" stroke="#1414e6" stroke-width="1.7"/>
<rect x="1116.9" y="247.6" width="6" height="6" rx="1" fill="#fff" stroke="#1414e6" stroke-width="1.7"/>
<rect x="1113.0" y="252.5" width="6" height="6" rx="1" fill="#fff" stroke="#1414e6" stroke-width="1.7"/>
<rect x="1129.8" y="279.4" width="6" height="6" rx="1" fill="#fff" stroke="#1414e6" stroke-width="1.7"/>
<rect x="1245.4" y="191.3" width="6" height="6" rx="1" fill="#fff" stroke="#1414e6" stroke-width="1.7"/>
<circle cx="938.7" cy="284.2" r="3.5" fill="#e8151b"/>
<circle cx="984" cy="284.7" r="3.5" fill="#e8151b"/>
<circle cx="1054.3" cy="279.1" r="3.5" fill="#e8151b"/>
<circle cx="1128.3" cy="287" r="3.5" fill="#e8151b"/>
<circle cx="1169.5" cy="285.4" r="3.5" fill="#e8151b"/>
<circle cx="1252" cy="278.5" r="3.5" fill="#e8151b"/>
<defs><linearGradient id="dtop" x1="0" y1="0" x2="1" y2="1"><stop offset="0" stop-color="#b3ada9"/><stop offset="1" stop-color="#aba5a2"/></linearGradient></defs>
<path d="M88.5,522.5 L495.5,624.5 L495.5,664.5 L91.5,562.5 Z" fill="#98a9c1"/>
<path d="M495.5,624.5 L600.0,524.0 L597.0,564.0 L495.5,664.5 Z" fill="#8c9db6"/>
<path d="M88.5,522.5 L495.5,624.5 L495.5,633.0 L89.0,531.0 Z" fill="#dca57c"/>
<path d="M495.5,624.5 L600.0,524.0 L600.0,532.5 L495.5,633.0 Z" fill="#d49c72"/>
<path d="M88.5,522.5 L495.5,624.5 L600.0,524.0 L278.0,443.5 Z" fill="url(#dtop)"/>
<path d="M93.5,523.5 L495.5,622.0 L595.0,524.0" fill="none" stroke="#e2b394" stroke-width="1.6" opacity="0.8"/>
<path d="M165.0,513.0 L240.0,525.0 L320.0,545.0 L383.0,575.0 L455.0,590.0 L460.0,600.0 L380.0,600.0 L300.0,585.0 L210.0,545.0 L150.0,520.0 Z" fill="#8f8a88" opacity="0.35"/>
<path d="M160.0,512.0 L222.0,524.0 L332.0,478.0 L332.0,470.0 L270.0,462.0 Z" fill="#9a9696" opacity="0.6"/>
<path d="M165.0,480.2 L220.3,491.7 L220.3,536.7 L165.0,525.2 Z" fill="#b0157e"/>
<path d="M220.3,491.7 L325.7,443.0 L325.7,488.0 L220.3,536.7 Z" fill="#9e1070"/>
<path d="M165.0,480.2 L220.3,491.7 L220.3,521.7 L165.0,510.2 Z" fill="#d4a820"/>
<path d="M220.3,491.7 L325.7,443.0 L325.7,473.0 L220.3,521.7 Z" fill="#c89c18"/>
<path d="M165.0,480.2 L274.7,434.3 L325.7,443.0 L220.3,491.7 Z" fill="#e3bd22"/>
<path d="M376.0,575.0 L453.0,596.0 L545.0,527.0 L545.0,518.0 L470.0,520.0 Z" fill="#9a9696" opacity="0.6"/>
<path d="M383.6,537.4 L453.2,555.4 L453.2,591.4 L383.6,573.4 Z" fill="#b5158a"/>
<path d="M453.2,555.4 L535.6,489.4 L535.6,525.4 L453.2,591.4 Z" fill="#a81282"/>
<path d="M383.6,537.4 L453.2,555.4 L453.2,575.4 L383.6,557.4 Z" fill="#d4a820"/>
<path d="M453.2,555.4 L535.6,489.4 L535.6,509.4 L453.2,575.4 Z" fill="#cfa31c"/>
<path d="M383.6,537.4 L481.8,480.1 L535.6,489.4 L453.2,555.4 Z" fill="#e3bd22"/>
<defs><clipPath id="latclip"><path d="M238.0,524.0 L243.0,491.0 L307.0,456.0 L454.0,484.0 L392.0,547.0 L375.0,556.0 Z"/></clipPath></defs>
<path d="M240.0,528.0 L255.0,510.0 L325.0,478.0 L450.0,490.0 L390.0,550.0 L376.0,560.0 Z" fill="#7a7878" opacity="0.5"/>
<path d="M250.0,530.0 L300.0,540.0 L376.0,561.0 L380.0,552.0 L300.0,530.0 L250.0,518.0 Z" fill="#555" opacity="0.35"/>
<g clip-path="url(#latclip)">
<circle cx="199.6" cy="435.4" r="3" fill="#4a4a50" opacity="0.3"/><circle cx="209.9" cy="441.0" r="3" fill="#4a4a50" opacity="0.3"/><circle cx="220.1" cy="439.0" r="3" fill="#4a4a50" opacity="0.3"/><circle cx="230.4" cy="444.6" r="3" fill="#4a4a50" opacity="0.3"/><circle cx="240.6" cy="442.6" r="3" fill="#4a4a50" opacity="0.3"/><circle cx="250.9" cy="448.2" r="3" fill="#4a4a50" opacity="0.3"/><circle cx="261.1" cy="446.2" r="3" fill="#4a4a50" opacity="0.3"/><circle cx="271.4" cy="451.8" r="3" fill="#4a4a50" opacity="0.3"/><circle cx="281.6" cy="449.8" r="3" fill="#4a4a50" opacity="0.3"/><circle cx="291.9" cy="455.4" r="3" fill="#4a4a50" opacity="0.3"/><circle cx="302.1" cy="453.4" r="3" fill="#4a4a50" opacity="0.3"/><circle cx="312.4" cy="459.0" r="3" fill="#4a4a50" opacity="0.3"/><circle cx="322.6" cy="457.0" r="3" fill="#4a4a50" opacity="0.3"/><circle cx="332.9" cy="462.6" r="3" fill="#4a4a50" opacity="0.3"/><circle cx="343.1" cy="460.6" r="3" fill="#4a4a50" opacity="0.3"/><circle cx="353.4" cy="466.2" r="3" fill="#4a4a50" opacity="0.3"/><circle cx="363.6" cy="464.2" r="3" fill="#4a4a50" opacity="0.3"/><circle cx="373.9" cy="469.8" r="3" fill="#4a4a50" opacity="0.3"/><circle cx="384.1" cy="467.8" r="3" fill="#4a4a50" opacity="0.3"/><circle cx="394.4" cy="473.4" r="3" fill="#4a4a50" opacity="0.3"/><circle cx="404.6" cy="471.4" r="3" fill="#4a4a50" opacity="0.3"/><circle cx="414.9" cy="477.0" r="3" fill="#4a4a50" opacity="0.3"/><circle cx="425.1" cy="475.0" r="3" fill="#4a4a50" opacity="0.3"/><circle cx="435.4" cy="480.6" r="3" fill="#4a4a50" opacity="0.3"/><circle cx="445.6" cy="478.6" r="3" fill="#4a4a50" opacity="0.3"/><circle cx="455.9" cy="484.2" r="3" fill="#4a4a50" opacity="0.3"/><circle cx="466.1" cy="482.2" r="3" fill="#4a4a50" opacity="0.3"/><circle cx="476.4" cy="487.8" r="3" fill="#4a4a50" opacity="0.3"/><circle cx="486.6" cy="485.8" r="3" fill="#4a4a50" opacity="0.3"/><circle cx="496.9" cy="491.4" r="3" fill="#4a4a50" opacity="0.3"/><circle cx="205.0" cy="446.9" r="3" fill="#4a4a50" opacity="0.3"/><circle cx="215.3" cy="452.5" r="3" fill="#4a4a50" opacity="0.3"/><circle cx="225.5" cy="450.5" r="3" fill="#4a4a50" opacity="0.3"/><circle cx="235.8" cy="456.1" r="3" fill="#4a4a50" opacity="0.3"/><circle cx="246.0" cy="454.1" r="3" fill="#4a4a50" opacity="0.3"/><circle cx="256.3" cy="459.7" r="3" fill="#4a4a50" opacity="0.3"/><circle cx="266.5" cy="457.7" r="3" fill="#4a4a50" opacity="0.3"/><circle cx="276.8" cy="463.3" r="3" fill="#4a4a50" opacity="0.3"/><circle cx="287.0" cy="461.3" r="3" fill="#4a4a50" opacity="0.3"/><circle cx="297.3" cy="466.9" r="3" fill="#4a4a50" opacity="0.3"/><circle cx="307.5" cy="464.9" r="3" fill="#4a4a50" opacity="0.3"/><circle cx="317.8" cy="470.5" r="3" fill="#4a4a50" opacity="0.3"/><circle cx="328.0" cy="468.5" r="3" fill="#4a4a50" opacity="0.3"/><circle cx="338.3" cy="474.1" r="3" fill="#4a4a50" opacity="0.3"/><circle cx="348.5" cy="472.1" r="3" fill="#4a4a50" opacity="0.3"/><circle cx="358.8" cy="477.7" r="3" fill="#4a4a50" opacity="0.3"/><circle cx="369.0" cy="475.7" r="3" fill="#4a4a50" opacity="0.3"/><circle cx="379.3" cy="481.3" r="3" fill="#4a4a50" opacity="0.3"/><circle cx="389.5" cy="479.3" r="3" fill="#4a4a50" opacity="0.3"/><circle cx="399.8" cy="484.9" r="3" fill="#4a4a50" opacity="0.3"/><circle cx="410.0" cy="482.9" r="3" fill="#4a4a50" opacity="0.3"/><circle cx="420.3" cy="488.5" r="3" fill="#4a4a50" opacity="0.3"/><circle cx="430.5" cy="486.5" r="3" fill="#4a4a50" opacity="0.3"/><circle cx="440.8" cy="492.1" r="3" fill="#4a4a50" opacity="0.3"/><circle cx="451.0" cy="490.1" r="3" fill="#4a4a50" opacity="0.3"/><circle cx="461.3" cy="495.7" r="3" fill="#4a4a50" opacity="0.3"/><circle cx="471.5" cy="493.7" r="3" fill="#4a4a50" opacity="0.3"/><circle cx="481.8" cy="499.3" r="3" fill="#4a4a50" opacity="0.3"/><circle cx="492.0" cy="497.3" r="3" fill="#4a4a50" opacity="0.3"/><circle cx="502.3" cy="502.9" r="3" fill="#4a4a50" opacity="0.3"/><circle cx="210.4" cy="458.4" r="3" fill="#4a4a50" opacity="0.3"/><circle cx="220.7" cy="464.0" r="3" fill="#4a4a50" opacity="0.3"/><circle cx="230.9" cy="462.0" r="3" fill="#4a4a50" opacity="0.3"/><circle cx="241.2" cy="467.6" r="3" fill="#4a4a50" opacity="0.3"/><circle cx="251.4" cy="465.6" r="3" fill="#4a4a50" opacity="0.3"/><circle cx="261.7" cy="471.2" r="3" fill="#4a4a50" opacity="0.3"/><circle cx="271.9" cy="469.2" r="3" fill="#4a4a50" opacity="0.3"/><circle cx="282.2" cy="474.8" r="3" fill="#4a4a50" opacity="0.3"/><circle cx="292.4" cy="472.8" r="3" fill="#4a4a50" opacity="0.3"/><circle cx="302.7" cy="478.4" r="3" fill="#4a4a50" opacity="0.3"/><circle cx="312.9" cy="476.4" r="3" fill="#4a4a50" opacity="0.3"/><circle cx="323.2" cy="482.0" r="3" fill="#4a4a50" opacity="0.3"/><circle cx="333.4" cy="480.0" r="3" fill="#4a4a50" opacity="0.3"/><circle cx="343.7" cy="485.6" r="3" fill="#4a4a50" opacity="0.3"/><circle cx="353.9" cy="483.6" r="3" fill="#4a4a50" opacity="0.3"/><circle cx="364.2" cy="489.2" r="3" fill="#4a4a50" opacity="0.3"/><circle cx="374.4" cy="487.2" r="3" fill="#4a4a50" opacity="0.3"/><circle cx="384.7" cy="492.8" r="3" fill="#4a4a50" opacity="0.3"/><circle cx="394.9" cy="490.8" r="3" fill="#4a4a50" opacity="0.3"/><circle cx="405.2" cy="496.4" r="3" fill="#4a4a50" opacity="0.3"/><circle cx="415.4" cy="494.4" r="3" fill="#4a4a50" opacity="0.3"/><circle cx="425.7" cy="500.0" r="3" fill="#4a4a50" opacity="0.3"/><circle cx="435.9" cy="498.0" r="3" fill="#4a4a50" opacity="0.3"/><circle cx="446.2" cy="503.6" r="3" fill="#4a4a50" opacity="0.3"/><circle cx="456.4" cy="501.6" r="3" fill="#4a4a50" opacity="0.3"/><circle cx="466.7" cy="507.2" r="3" fill="#4a4a50" opacity="0.3"/><circle cx="476.9" cy="505.2" r="3" fill="#4a4a50" opacity="0.3"/><circle cx="487.2" cy="510.8" r="3" fill="#4a4a50" opacity="0.3"/><circle cx="497.4" cy="508.8" r="3" fill="#4a4a50" opacity="0.3"/><circle cx="507.7" cy="514.4" r="3" fill="#4a4a50" opacity="0.3"/><circle cx="215.8" cy="469.9" r="3" fill="#4a4a50" opacity="0.3"/><circle cx="226.1" cy="475.5" r="3" fill="#4a4a50" opacity="0.3"/><circle cx="236.3" cy="473.5" r="3" fill="#4a4a50" opacity="0.3"/><circle cx="246.6" cy="479.1" r="3" fill="#4a4a50" opacity="0.3"/><circle cx="256.8" cy="477.1" r="3" fill="#4a4a50" opacity="0.3"/><circle cx="267.1" cy="482.7" r="3" fill="#4a4a50" opacity="0.3"/><circle cx="277.3" cy="480.7" r="3" fill="#4a4a50" opacity="0.3"/><circle cx="287.6" cy="486.3" r="3" fill="#4a4a50" opacity="0.3"/><circle cx="297.8" cy="484.3" r="3" fill="#4a4a50" opacity="0.3"/><circle cx="308.1" cy="489.9" r="3" fill="#4a4a50" opacity="0.3"/><circle cx="318.3" cy="487.9" r="3" fill="#4a4a50" opacity="0.3"/><circle cx="328.6" cy="493.5" r="3" fill="#4a4a50" opacity="0.3"/><circle cx="338.8" cy="491.5" r="3" fill="#4a4a50" opacity="0.3"/><circle cx="349.1" cy="497.1" r="3" fill="#4a4a50" opacity="0.3"/><circle cx="359.3" cy="495.1" r="3" fill="#4a4a50" opacity="0.3"/><circle cx="369.6" cy="500.7" r="3" fill="#4a4a50" opacity="0.3"/><circle cx="379.8" cy="498.7" r="3" fill="#4a4a50" opacity="0.3"/><circle cx="390.1" cy="504.3" r="3" fill="#4a4a50" opacity="0.3"/><circle cx="400.3" cy="502.3" r="3" fill="#4a4a50" opacity="0.3"/><circle cx="410.6" cy="507.9" r="3" fill="#4a4a50" opacity="0.3"/><circle cx="420.8" cy="505.9" r="3" fill="#4a4a50" opacity="0.3"/><circle cx="431.1" cy="511.5" r="3" fill="#4a4a50" opacity="0.3"/><circle cx="441.3" cy="509.5" r="3" fill="#4a4a50" opacity="0.3"/><circle cx="451.6" cy="515.1" r="3" fill="#4a4a50" opacity="0.3"/><circle cx="461.8" cy="513.1" r="3" fill="#4a4a50" opacity="0.3"/><circle cx="472.1" cy="518.7" r="3" fill="#4a4a50" opacity="0.3"/><circle cx="482.3" cy="516.7" r="3" fill="#4a4a50" opacity="0.3"/><circle cx="492.6" cy="522.3" r="3" fill="#4a4a50" opacity="0.3"/><circle cx="502.8" cy="520.3" r="3" fill="#4a4a50" opacity="0.3"/><circle cx="513.1" cy="525.9" r="3" fill="#4a4a50" opacity="0.3"/><circle cx="221.2" cy="481.4" r="3" fill="#4a4a50" opacity="0.3"/><circle cx="231.5" cy="487.0" r="3" fill="#4a4a50" opacity="0.3"/><circle cx="241.7" cy="485.0" r="3" fill="#4a4a50" opacity="0.3"/><circle cx="252.0" cy="490.6" r="3" fill="#4a4a50" opacity="0.3"/><circle cx="262.2" cy="488.6" r="3" fill="#4a4a50" opacity="0.3"/><circle cx="272.5" cy="494.2" r="3" fill="#4a4a50" opacity="0.3"/><circle cx="282.7" cy="492.2" r="3" fill="#4a4a50" opacity="0.3"/><circle cx="293.0" cy="497.8" r="3" fill="#4a4a50" opacity="0.3"/><circle cx="303.2" cy="495.8" r="3" fill="#4a4a50" opacity="0.3"/><circle cx="313.5" cy="501.4" r="3" fill="#4a4a50" opacity="0.3"/><circle cx="323.7" cy="499.4" r="3" fill="#4a4a50" opacity="0.3"/><circle cx="334.0" cy="505.0" r="3" fill="#4a4a50" opacity="0.3"/><circle cx="344.2" cy="503.0" r="3" fill="#4a4a50" opacity="0.3"/><circle cx="354.5" cy="508.6" r="3" fill="#4a4a50" opacity="0.3"/><circle cx="364.7" cy="506.6" r="3" fill="#4a4a50" opacity="0.3"/><circle cx="375.0" cy="512.2" r="3" fill="#4a4a50" opacity="0.3"/><circle cx="385.2" cy="510.2" r="3" fill="#4a4a50" opacity="0.3"/><circle cx="395.5" cy="515.8" r="3" fill="#4a4a50" opacity="0.3"/><circle cx="405.7" cy="513.8" r="3" fill="#4a4a50" opacity="0.3"/><circle cx="416.0" cy="519.4" r="3" fill="#4a4a50" opacity="0.3"/><circle cx="426.2" cy="517.4" r="3" fill="#4a4a50" opacity="0.3"/><circle cx="436.5" cy="523.0" r="3" fill="#4a4a50" opacity="0.3"/><circle cx="446.7" cy="521.0" r="3" fill="#4a4a50" opacity="0.3"/><circle cx="457.0" cy="526.6" r="3" fill="#4a4a50" opacity="0.3"/><circle cx="467.2" cy="524.6" r="3" fill="#4a4a50" opacity="0.3"/><circle cx="477.5" cy="530.2" r="3" fill="#4a4a50" opacity="0.3"/><circle cx="487.7" cy="528.2" r="3" fill="#4a4a50" opacity="0.3"/><circle cx="498.0" cy="533.8" r="3" fill="#4a4a50" opacity="0.3"/><circle cx="508.2" cy="531.8" r="3" fill="#4a4a50" opacity="0.3"/><circle cx="518.5" cy="537.4" r="3" fill="#4a4a50" opacity="0.3"/><circle cx="226.6" cy="492.9" r="3" fill="#4a4a50" opacity="0.3"/><circle cx="236.9" cy="498.5" r="3" fill="#4a4a50" opacity="0.3"/><circle cx="247.1" cy="496.5" r="3" fill="#4a4a50" opacity="0.3"/><circle cx="257.4" cy="502.1" r="3" fill="#4a4a50" opacity="0.3"/><circle cx="267.6" cy="500.1" r="3" fill="#4a4a50" opacity="0.3"/><circle cx="277.9" cy="505.7" r="3" fill="#4a4a50" opacity="0.3"/><circle cx="288.1" cy="503.7" r="3" fill="#4a4a50" opacity="0.3"/><circle cx="298.4" cy="509.3" r="3" fill="#4a4a50" opacity="0.3"/><circle cx="308.6" cy="507.3" r="3" fill="#4a4a50" opacity="0.3"/><circle cx="318.9" cy="512.9" r="3" fill="#4a4a50" opacity="0.3"/><circle cx="329.1" cy="510.9" r="3" fill="#4a4a50" opacity="0.3"/><circle cx="339.4" cy="516.5" r="3" fill="#4a4a50" opacity="0.3"/><circle cx="349.6" cy="514.5" r="3" fill="#4a4a50" opacity="0.3"/><circle cx="359.9" cy="520.1" r="3" fill="#4a4a50" opacity="0.3"/><circle cx="370.1" cy="518.1" r="3" fill="#4a4a50" opacity="0.3"/><circle cx="380.4" cy="523.7" r="3" fill="#4a4a50" opacity="0.3"/><circle cx="390.6" cy="521.7" r="3" fill="#4a4a50" opacity="0.3"/><circle cx="400.9" cy="527.3" r="3" fill="#4a4a50" opacity="0.3"/><circle cx="411.1" cy="525.3" r="3" fill="#4a4a50" opacity="0.3"/><circle cx="421.4" cy="530.9" r="3" fill="#4a4a50" opacity="0.3"/><circle cx="431.6" cy="528.9" r="3" fill="#4a4a50" opacity="0.3"/><circle cx="441.9" cy="534.5" r="3" fill="#4a4a50" opacity="0.3"/><circle cx="452.1" cy="532.5" r="3" fill="#4a4a50" opacity="0.3"/><circle cx="462.4" cy="538.1" r="3" fill="#4a4a50" opacity="0.3"/><circle cx="472.6" cy="536.1" r="3" fill="#4a4a50" opacity="0.3"/><circle cx="482.9" cy="541.7" r="3" fill="#4a4a50" opacity="0.3"/><circle cx="493.1" cy="539.7" r="3" fill="#4a4a50" opacity="0.3"/><circle cx="503.4" cy="545.3" r="3" fill="#4a4a50" opacity="0.3"/><circle cx="513.6" cy="543.3" r="3" fill="#4a4a50" opacity="0.3"/><circle cx="523.9" cy="548.9" r="3" fill="#4a4a50" opacity="0.3"/><circle cx="232.0" cy="504.4" r="3" fill="#4a4a50" opacity="0.3"/><circle cx="242.3" cy="510.0" r="3" fill="#4a4a50" opacity="0.3"/><circle cx="252.5" cy="508.0" r="3" fill="#4a4a50" opacity="0.3"/><circle cx="262.8" cy="513.6" r="3" fill="#4a4a50" opacity="0.3"/><circle cx="273.0" cy="511.6" r="3" fill="#4a4a50" opacity="0.3"/><circle cx="283.3" cy="517.2" r="3" fill="#4a4a50" opacity="0.3"/><circle cx="293.5" cy="515.2" r="3" fill="#4a4a50" opacity="0.3"/><circle cx="303.8" cy="520.8" r="3" fill="#4a4a50" opacity="0.3"/><circle cx="314.0" cy="518.8" r="3" fill="#4a4a50" opacity="0.3"/><circle cx="324.3" cy="524.4" r="3" fill="#4a4a50" opacity="0.3"/><circle cx="334.5" cy="522.4" r="3" fill="#4a4a50" opacity="0.3"/><circle cx="344.8" cy="528.0" r="3" fill="#4a4a50" opacity="0.3"/><circle cx="355.0" cy="526.0" r="3" fill="#4a4a50" opacity="0.3"/><circle cx="365.3" cy="531.6" r="3" fill="#4a4a50" opacity="0.3"/><circle cx="375.5" cy="529.6" r="3" fill="#4a4a50" opacity="0.3"/><circle cx="385.8" cy="535.2" r="3" fill="#4a4a50" opacity="0.3"/><circle cx="396.0" cy="533.2" r="3" fill="#4a4a50" opacity="0.3"/><circle cx="406.3" cy="538.8" r="3" fill="#4a4a50" opacity="0.3"/><circle cx="416.5" cy="536.8" r="3" fill="#4a4a50" opacity="0.3"/><circle cx="426.8" cy="542.4" r="3" fill="#4a4a50" opacity="0.3"/><circle cx="437.0" cy="540.4" r="3" fill="#4a4a50" opacity="0.3"/><circle cx="447.3" cy="546.0" r="3" fill="#4a4a50" opacity="0.3"/><circle cx="457.5" cy="544.0" r="3" fill="#4a4a50" opacity="0.3"/><circle cx="467.8" cy="549.6" r="3" fill="#4a4a50" opacity="0.3"/><circle cx="478.0" cy="547.6" r="3" fill="#4a4a50" opacity="0.3"/><circle cx="488.3" cy="553.2" r="3" fill="#4a4a50" opacity="0.3"/><circle cx="498.5" cy="551.2" r="3" fill="#4a4a50" opacity="0.3"/><circle cx="508.8" cy="556.8" r="3" fill="#4a4a50" opacity="0.3"/><circle cx="519.0" cy="554.8" r="3" fill="#4a4a50" opacity="0.3"/><circle cx="529.3" cy="560.4" r="3" fill="#4a4a50" opacity="0.3"/><circle cx="237.4" cy="515.9" r="3" fill="#4a4a50" opacity="0.3"/><circle cx="247.7" cy="521.5" r="3" fill="#4a4a50" opacity="0.3"/><circle cx="257.9" cy="519.5" r="3" fill="#4a4a50" opacity="0.3"/><circle cx="268.2" cy="525.1" r="3" fill="#4a4a50" opacity="0.3"/><circle cx="278.4" cy="523.1" r="3" fill="#4a4a50" opacity="0.3"/><circle cx="288.7" cy="528.7" r="3" fill="#4a4a50" opacity="0.3"/><circle cx="298.9" cy="526.7" r="3" fill="#4a4a50" opacity="0.3"/><circle cx="309.2" cy="532.3" r="3" fill="#4a4a50" opacity="0.3"/><circle cx="319.4" cy="530.3" r="3" fill="#4a4a50" opacity="0.3"/><circle cx="329.7" cy="535.9" r="3" fill="#4a4a50" opacity="0.3"/><circle cx="339.9" cy="533.9" r="3" fill="#4a4a50" opacity="0.3"/><circle cx="350.2" cy="539.5" r="3" fill="#4a4a50" opacity="0.3"/><circle cx="360.4" cy="537.5" r="3" fill="#4a4a50" opacity="0.3"/><circle cx="370.7" cy="543.1" r="3" fill="#4a4a50" opacity="0.3"/><circle cx="380.9" cy="541.1" r="3" fill="#4a4a50" opacity="0.3"/><circle cx="391.2" cy="546.7" r="3" fill="#4a4a50" opacity="0.3"/><circle cx="401.4" cy="544.7" r="3" fill="#4a4a50" opacity="0.3"/><circle cx="411.7" cy="550.3" r="3" fill="#4a4a50" opacity="0.3"/><circle cx="421.9" cy="548.3" r="3" fill="#4a4a50" opacity="0.3"/><circle cx="432.2" cy="553.9" r="3" fill="#4a4a50" opacity="0.3"/><circle cx="442.4" cy="551.9" r="3" fill="#4a4a50" opacity="0.3"/><circle cx="452.7" cy="557.5" r="3" fill="#4a4a50" opacity="0.3"/><circle cx="462.9" cy="555.5" r="3" fill="#4a4a50" opacity="0.3"/><circle cx="473.2" cy="561.1" r="3" fill="#4a4a50" opacity="0.3"/><circle cx="483.4" cy="559.1" r="3" fill="#4a4a50" opacity="0.3"/><circle cx="493.7" cy="564.7" r="3" fill="#4a4a50" opacity="0.3"/><circle cx="503.9" cy="562.7" r="3" fill="#4a4a50" opacity="0.3"/><circle cx="514.2" cy="568.3" r="3" fill="#4a4a50" opacity="0.3"/><circle cx="524.4" cy="566.3" r="3" fill="#4a4a50" opacity="0.3"/><circle cx="534.7" cy="571.9" r="3" fill="#4a4a50" opacity="0.3"/><circle cx="242.8" cy="527.4" r="3" fill="#4a4a50" opacity="0.3"/><circle cx="253.1" cy="533.0" r="3" fill="#4a4a50" opacity="0.3"/><circle cx="263.3" cy="531.0" r="3" fill="#4a4a50" opacity="0.3"/><circle cx="273.6" cy="536.6" r="3" fill="#4a4a50" opacity="0.3"/><circle cx="283.8" cy="534.6" r="3" fill="#4a4a50" opacity="0.3"/><circle cx="294.1" cy="540.2" r="3" fill="#4a4a50" opacity="0.3"/><circle cx="304.3" cy="538.2" r="3" fill="#4a4a50" opacity="0.3"/><circle cx="314.6" cy="543.8" r="3" fill="#4a4a50" opacity="0.3"/><circle cx="324.8" cy="541.8" r="3" fill="#4a4a50" opacity="0.3"/><circle cx="335.1" cy="547.4" r="3" fill="#4a4a50" opacity="0.3"/><circle cx="345.3" cy="545.4" r="3" fill="#4a4a50" opacity="0.3"/><circle cx="355.6" cy="551.0" r="3" fill="#4a4a50" opacity="0.3"/><circle cx="365.8" cy="549.0" r="3" fill="#4a4a50" opacity="0.3"/><circle cx="376.1" cy="554.6" r="3" fill="#4a4a50" opacity="0.3"/><circle cx="386.3" cy="552.6" r="3" fill="#4a4a50" opacity="0.3"/><circle cx="396.6" cy="558.2" r="3" fill="#4a4a50" opacity="0.3"/><circle cx="406.8" cy="556.2" r="3" fill="#4a4a50" opacity="0.3"/><circle cx="417.1" cy="561.8" r="3" fill="#4a4a50" opacity="0.3"/><circle cx="427.3" cy="559.8" r="3" fill="#4a4a50" opacity="0.3"/><circle cx="437.6" cy="565.4" r="3" fill="#4a4a50" opacity="0.3"/><circle cx="447.8" cy="563.4" r="3" fill="#4a4a50" opacity="0.3"/><circle cx="458.1" cy="569.0" r="3" fill="#4a4a50" opacity="0.3"/><circle cx="468.3" cy="567.0" r="3" fill="#4a4a50" opacity="0.3"/><circle cx="478.6" cy="572.6" r="3" fill="#4a4a50" opacity="0.3"/><circle cx="488.8" cy="570.6" r="3" fill="#4a4a50" opacity="0.3"/><circle cx="499.1" cy="576.2" r="3" fill="#4a4a50" opacity="0.3"/><circle cx="509.3" cy="574.2" r="3" fill="#4a4a50" opacity="0.3"/><circle cx="519.6" cy="579.8" r="3" fill="#4a4a50" opacity="0.3"/><circle cx="529.8" cy="577.8" r="3" fill="#4a4a50" opacity="0.3"/><circle cx="540.1" cy="583.4" r="3" fill="#4a4a50" opacity="0.3"/><circle cx="248.2" cy="538.9" r="3" fill="#4a4a50" opacity="0.3"/><circle cx="258.5" cy="544.5" r="3" fill="#4a4a50" opacity="0.3"/><circle cx="268.7" cy="542.5" r="3" fill="#4a4a50" opacity="0.3"/><circle cx="279.0" cy="548.1" r="3" fill="#4a4a50" opacity="0.3"/><circle cx="289.2" cy="546.1" r="3" fill="#4a4a50" opacity="0.3"/><circle cx="299.5" cy="551.7" r="3" fill="#4a4a50" opacity="0.3"/><circle cx="309.7" cy="549.7" r="3" fill="#4a4a50" opacity="0.3"/><circle cx="320.0" cy="555.3" r="3" fill="#4a4a50" opacity="0.3"/><circle cx="330.2" cy="553.3" r="3" fill="#4a4a50" opacity="0.3"/><circle cx="340.5" cy="558.9" r="3" fill="#4a4a50" opacity="0.3"/><circle cx="350.7" cy="556.9" r="3" fill="#4a4a50" opacity="0.3"/><circle cx="361.0" cy="562.5" r="3" fill="#4a4a50" opacity="0.3"/><circle cx="371.2" cy="560.5" r="3" fill="#4a4a50" opacity="0.3"/><circle cx="381.5" cy="566.1" r="3" fill="#4a4a50" opacity="0.3"/><circle cx="391.7" cy="564.1" r="3" fill="#4a4a50" opacity="0.3"/><circle cx="402.0" cy="569.7" r="3" fill="#4a4a50" opacity="0.3"/><circle cx="412.2" cy="567.7" r="3" fill="#4a4a50" opacity="0.3"/><circle cx="422.5" cy="573.3" r="3" fill="#4a4a50" opacity="0.3"/><circle cx="432.7" cy="571.3" r="3" fill="#4a4a50" opacity="0.3"/><circle cx="443.0" cy="576.9" r="3" fill="#4a4a50" opacity="0.3"/><circle cx="453.2" cy="574.9" r="3" fill="#4a4a50" opacity="0.3"/><circle cx="463.5" cy="580.5" r="3" fill="#4a4a50" opacity="0.3"/><circle cx="473.7" cy="578.5" r="3" fill="#4a4a50" opacity="0.3"/><circle cx="484.0" cy="584.1" r="3" fill="#4a4a50" opacity="0.3"/><circle cx="494.2" cy="582.1" r="3" fill="#4a4a50" opacity="0.3"/><circle cx="504.5" cy="587.7" r="3" fill="#4a4a50" opacity="0.3"/><circle cx="514.7" cy="585.7" r="3" fill="#4a4a50" opacity="0.3"/><circle cx="525.0" cy="591.3" r="3" fill="#4a4a50" opacity="0.3"/><circle cx="535.2" cy="589.3" r="3" fill="#4a4a50" opacity="0.3"/><circle cx="545.5" cy="594.9" r="3" fill="#4a4a50" opacity="0.3"/><circle cx="253.6" cy="550.4" r="3" fill="#4a4a50" opacity="0.3"/><circle cx="263.9" cy="556.0" r="3" fill="#4a4a50" opacity="0.3"/><circle cx="274.1" cy="554.0" r="3" fill="#4a4a50" opacity="0.3"/><circle cx="284.4" cy="559.6" r="3" fill="#4a4a50" opacity="0.3"/><circle cx="294.6" cy="557.6" r="3" fill="#4a4a50" opacity="0.3"/><circle cx="304.9" cy="563.2" r="3" fill="#4a4a50" opacity="0.3"/><circle cx="315.1" cy="561.2" r="3" fill="#4a4a50" opacity="0.3"/><circle cx="325.4" cy="566.8" r="3" fill="#4a4a50" opacity="0.3"/><circle cx="335.6" cy="564.8" r="3" fill="#4a4a50" opacity="0.3"/><circle cx="345.9" cy="570.4" r="3" fill="#4a4a50" opacity="0.3"/><circle cx="356.1" cy="568.4" r="3" fill="#4a4a50" opacity="0.3"/><circle cx="366.4" cy="574.0" r="3" fill="#4a4a50" opacity="0.3"/><circle cx="376.6" cy="572.0" r="3" fill="#4a4a50" opacity="0.3"/><circle cx="386.9" cy="577.6" r="3" fill="#4a4a50" opacity="0.3"/><circle cx="397.1" cy="575.6" r="3" fill="#4a4a50" opacity="0.3"/><circle cx="407.4" cy="581.2" r="3" fill="#4a4a50" opacity="0.3"/><circle cx="417.6" cy="579.2" r="3" fill="#4a4a50" opacity="0.3"/><circle cx="427.9" cy="584.8" r="3" fill="#4a4a50" opacity="0.3"/><circle cx="438.1" cy="582.8" r="3" fill="#4a4a50" opacity="0.3"/><circle cx="448.4" cy="588.4" r="3" fill="#4a4a50" opacity="0.3"/><circle cx="458.6" cy="586.4" r="3" fill="#4a4a50" opacity="0.3"/><circle cx="468.9" cy="592.0" r="3" fill="#4a4a50" opacity="0.3"/><circle cx="479.1" cy="590.0" r="3" fill="#4a4a50" opacity="0.3"/><circle cx="489.4" cy="595.6" r="3" fill="#4a4a50" opacity="0.3"/><circle cx="499.6" cy="593.6" r="3" fill="#4a4a50" opacity="0.3"/><circle cx="509.9" cy="599.2" r="3" fill="#4a4a50" opacity="0.3"/><circle cx="520.1" cy="597.2" r="3" fill="#4a4a50" opacity="0.3"/><circle cx="530.4" cy="602.8" r="3" fill="#4a4a50" opacity="0.3"/><circle cx="540.6" cy="600.8" r="3" fill="#4a4a50" opacity="0.3"/><circle cx="550.9" cy="606.4" r="3" fill="#4a4a50" opacity="0.3"/>
<path d="M198.1,430.4 L208.4,436.0 L218.6,434.0 M208.4,436.0 L203.5,441.9 M218.6,434.0 L228.9,439.6 L239.1,437.6 M228.9,439.6 L224.0,445.5 M239.1,437.6 L249.4,443.2 L259.6,441.2 M249.4,443.2 L244.5,449.1 M259.6,441.2 L269.9,446.8 L280.1,444.8 M269.9,446.8 L265.0,452.7 M280.1,444.8 L290.4,450.4 L300.6,448.4 M290.4,450.4 L285.5,456.3 M300.6,448.4 L310.9,454.0 L321.1,452.0 M310.9,454.0 L306.0,459.9 M321.1,452.0 L331.4,457.6 L341.6,455.6 M331.4,457.6 L326.5,463.5 M341.6,455.6 L351.9,461.2 L362.1,459.2 M351.9,461.2 L347.0,467.1 M362.1,459.2 L372.4,464.8 L382.6,462.8 M372.4,464.8 L367.5,470.7 M382.6,462.8 L392.9,468.4 L403.1,466.4 M392.9,468.4 L388.0,474.3 M403.1,466.4 L413.4,472.0 L423.6,470.0 M413.4,472.0 L408.5,477.9 M423.6,470.0 L433.9,475.6 L444.1,473.6 M433.9,475.6 L429.0,481.5 M444.1,473.6 L454.4,479.2 L464.6,477.2 M454.4,479.2 L449.5,485.1 M464.6,477.2 L474.9,482.8 L485.1,480.8 M474.9,482.8 L470.0,488.7 M485.1,480.8 L495.4,486.4 L505.6,484.4 M495.4,486.4 L490.5,492.3 M203.5,441.9 L213.8,447.5 L224.0,445.5 M213.8,447.5 L208.9,453.4 M224.0,445.5 L234.3,451.1 L244.5,449.1 M234.3,451.1 L229.4,457.0 M244.5,449.1 L254.8,454.7 L265.0,452.7 M254.8,454.7 L249.9,460.6 M265.0,452.7 L275.3,458.3 L285.5,456.3 M275.3,458.3 L270.4,464.2 M285.5,456.3 L295.8,461.9 L306.0,459.9 M295.8,461.9 L290.9,467.8 M306.0,459.9 L316.3,465.5 L326.5,463.5 M316.3,465.5 L311.4,471.4 M326.5,463.5 L336.8,469.1 L347.0,467.1 M336.8,469.1 L331.9,475.0 M347.0,467.1 L357.3,472.7 L367.5,470.7 M357.3,472.7 L352.4,478.6 M367.5,470.7 L377.8,476.3 L388.0,474.3 M377.8,476.3 L372.9,482.2 M388.0,474.3 L398.3,479.9 L408.5,477.9 M398.3,479.9 L393.4,485.8 M408.5,477.9 L418.8,483.5 L429.0,481.5 M418.8,483.5 L413.9,489.4 M429.0,481.5 L439.3,487.1 L449.5,485.1 M439.3,487.1 L434.4,493.0 M449.5,485.1 L459.8,490.7 L470.0,488.7 M459.8,490.7 L454.9,496.6 M470.0,488.7 L480.3,494.3 L490.5,492.3 M480.3,494.3 L475.4,500.2 M490.5,492.3 L500.8,497.9 L511.0,495.9 M500.8,497.9 L495.9,503.8 M208.9,453.4 L219.2,459.0 L229.4,457.0 M219.2,459.0 L214.3,464.9 M229.4,457.0 L239.7,462.6 L249.9,460.6 M239.7,462.6 L234.8,468.5 M249.9,460.6 L260.2,466.2 L270.4,464.2 M260.2,466.2 L255.3,472.1 M270.4,464.2 L280.7,469.8 L290.9,467.8 M280.7,469.8 L275.8,475.7 M290.9,467.8 L301.2,473.4 L311.4,471.4 M301.2,473.4 L296.3,479.3 M311.4,471.4 L321.7,477.0 L331.9,475.0 M321.7,477.0 L316.8,482.9 M331.9,475.0 L342.2,480.6 L352.4,478.6 M342.2,480.6 L337.3,486.5 M352.4,478.6 L362.7,484.2 L372.9,482.2 M362.7,484.2 L357.8,490.1 M372.9,482.2 L383.2,487.8 L393.4,485.8 M383.2,487.8 L378.3,493.7 M393.4,485.8 L403.7,491.4 L413.9,489.4 M403.7,491.4 L398.8,497.3 M413.9,489.4 L424.2,495.0 L434.4,493.0 M424.2,495.0 L419.3,500.9 M434.4,493.0 L444.7,498.6 L454.9,496.6 M444.7,498.6 L439.8,504.5 M454.9,496.6 L465.2,502.2 L475.4,500.2 M465.2,502.2 L460.3,508.1 M475.4,500.2 L485.7,505.8 L495.9,503.8 M485.7,505.8 L480.8,511.7 M495.9,503.8 L506.2,509.4 L516.4,507.4 M506.2,509.4 L501.3,515.3 M214.3,464.9 L224.6,470.5 L234.8,468.5 M224.6,470.5 L219.7,476.4 M234.8,468.5 L245.1,474.1 L255.3,472.1 M245.1,474.1 L240.2,480.0 M255.3,472.1 L265.6,477.7 L275.8,475.7 M265.6,477.7 L260.7,483.6 M275.8,475.7 L286.1,481.3 L296.3,479.3 M286.1,481.3 L281.2,487.2 M296.3,479.3 L306.6,484.9 L316.8,482.9 M306.6,484.9 L301.7,490.8 M316.8,482.9 L327.1,488.5 L337.3,486.5 M327.1,488.5 L322.2,494.4 M337.3,486.5 L347.6,492.1 L357.8,490.1 M347.6,492.1 L342.7,498.0 M357.8,490.1 L368.1,495.7 L378.3,493.7 M368.1,495.7 L363.2,501.6 M378.3,493.7 L388.6,499.3 L398.8,497.3 M388.6,499.3 L383.7,505.2 M398.8,497.3 L409.1,502.9 L419.3,500.9 M409.1,502.9 L404.2,508.8 M419.3,500.9 L429.6,506.5 L439.8,504.5 M429.6,506.5 L424.7,512.4 M439.8,504.5 L450.1,510.1 L460.3,508.1 M450.1,510.1 L445.2,516.0 M460.3,508.1 L470.6,513.7 L480.8,511.7 M470.6,513.7 L465.7,519.6 M480.8,511.7 L491.1,517.3 L501.3,515.3 M491.1,517.3 L486.2,523.2 M501.3,515.3 L511.6,520.9 L521.8,518.9 M511.6,520.9 L506.7,526.8 M219.7,476.4 L230.0,482.0 L240.2,480.0 M230.0,482.0 L225.1,487.9 M240.2,480.0 L250.5,485.6 L260.7,483.6 M250.5,485.6 L245.6,491.5 M260.7,483.6 L271.0,489.2 L281.2,487.2 M271.0,489.2 L266.1,495.1 M281.2,487.2 L291.5,492.8 L301.7,490.8 M291.5,492.8 L286.6,498.7 M301.7,490.8 L312.0,496.4 L322.2,494.4 M312.0,496.4 L307.1,502.3 M322.2,494.4 L332.5,500.0 L342.7,498.0 M332.5,500.0 L327.6,505.9 M342.7,498.0 L353.0,503.6 L363.2,501.6 M353.0,503.6 L348.1,509.5 M363.2,501.6 L373.5,507.2 L383.7,505.2 M373.5,507.2 L368.6,513.1 M383.7,505.2 L394.0,510.8 L404.2,508.8 M394.0,510.8 L389.1,516.7 M404.2,508.8 L414.5,514.4 L424.7,512.4 M414.5,514.4 L409.6,520.3 M424.7,512.4 L435.0,518.0 L445.2,516.0 M435.0,518.0 L430.1,523.9 M445.2,516.0 L455.5,521.6 L465.7,519.6 M455.5,521.6 L450.6,527.5 M465.7,519.6 L476.0,525.2 L486.2,523.2 M476.0,525.2 L471.1,531.1 M486.2,523.2 L496.5,528.8 L506.7,526.8 M496.5,528.8 L491.6,534.7 M506.7,526.8 L517.0,532.4 L527.2,530.4 M517.0,532.4 L512.1,538.3 M225.1,487.9 L235.4,493.5 L245.6,491.5 M235.4,493.5 L230.5,499.4 M245.6,491.5 L255.9,497.1 L266.1,495.1 M255.9,497.1 L251.0,503.0 M266.1,495.1 L276.4,500.7 L286.6,498.7 M276.4,500.7 L271.5,506.6 M286.6,498.7 L296.9,504.3 L307.1,502.3 M296.9,504.3 L292.0,510.2 M307.1,502.3 L317.4,507.9 L327.6,505.9 M317.4,507.9 L312.5,513.8 M327.6,505.9 L337.9,511.5 L348.1,509.5 M337.9,511.5 L333.0,517.4 M348.1,509.5 L358.4,515.1 L368.6,513.1 M358.4,515.1 L353.5,521.0 M368.6,513.1 L378.9,518.7 L389.1,516.7 M378.9,518.7 L374.0,524.6 M389.1,516.7 L399.4,522.3 L409.6,520.3 M399.4,522.3 L394.5,528.2 M409.6,520.3 L419.9,525.9 L430.1,523.9 M419.9,525.9 L415.0,531.8 M430.1,523.9 L440.4,529.5 L450.6,527.5 M440.4,529.5 L435.5,535.4 M450.6,527.5 L460.9,533.1 L471.1,531.1 M460.9,533.1 L456.0,539.0 M471.1,531.1 L481.4,536.7 L491.6,534.7 M481.4,536.7 L476.5,542.6 M491.6,534.7 L501.9,540.3 L512.1,538.3 M501.9,540.3 L497.0,546.2 M512.1,538.3 L522.4,543.9 L532.6,541.9 M522.4,543.9 L517.5,549.8 M230.5,499.4 L240.8,505.0 L251.0,503.0 M240.8,505.0 L235.9,510.9 M251.0,503.0 L261.3,508.6 L271.5,506.6 M261.3,508.6 L256.4,514.5 M271.5,506.6 L281.8,512.2 L292.0,510.2 M281.8,512.2 L276.9,518.1 M292.0,510.2 L302.3,515.8 L312.5,513.8 M302.3,515.8 L297.4,521.7 M312.5,513.8 L322.8,519.4 L333.0,517.4 M322.8,519.4 L317.9,525.3 M333.0,517.4 L343.3,523.0 L353.5,521.0 M343.3,523.0 L338.4,528.9 M353.5,521.0 L363.8,526.6 L374.0,524.6 M363.8,526.6 L358.9,532.5 M374.0,524.6 L384.3,530.2 L394.5,528.2 M384.3,530.2 L379.4,536.1 M394.5,528.2 L404.8,533.8 L415.0,531.8 M404.8,533.8 L399.9,539.7 M415.0,531.8 L425.3,537.4 L435.5,535.4 M425.3,537.4 L420.4,543.3 M435.5,535.4 L445.8,541.0 L456.0,539.0 M445.8,541.0 L440.9,546.9 M456.0,539.0 L466.3,544.6 L476.5,542.6 M466.3,544.6 L461.4,550.5 M476.5,542.6 L486.8,548.2 L497.0,546.2 M486.8,548.2 L481.9,554.1 M497.0,546.2 L507.3,551.8 L517.5,549.8 M507.3,551.8 L502.4,557.7 M517.5,549.8 L527.8,555.4 L538.0,553.4 M527.8,555.4 L522.9,561.3 M235.9,510.9 L246.2,516.5 L256.4,514.5 M246.2,516.5 L241.3,522.4 M256.4,514.5 L266.7,520.1 L276.9,518.1 M266.7,520.1 L261.8,526.0 M276.9,518.1 L287.2,523.7 L297.4,521.7 M287.2,523.7 L282.3,529.6 M297.4,521.7 L307.7,527.3 L317.9,525.3 M307.7,527.3 L302.8,533.2 M317.9,525.3 L328.2,530.9 L338.4,528.9 M328.2,530.9 L323.3,536.8 M338.4,528.9 L348.7,534.5 L358.9,532.5 M348.7,534.5 L343.8,540.4 M358.9,532.5 L369.2,538.1 L379.4,536.1 M369.2,538.1 L364.3,544.0 M379.4,536.1 L389.7,541.7 L399.9,539.7 M389.7,541.7 L384.8,547.6 M399.9,539.7 L410.2,545.3 L420.4,543.3 M410.2,545.3 L405.3,551.2 M420.4,543.3 L430.7,548.9 L440.9,546.9 M430.7,548.9 L425.8,554.8 M440.9,546.9 L451.2,552.5 L461.4,550.5 M451.2,552.5 L446.3,558.4 M461.4,550.5 L471.7,556.1 L481.9,554.1 M471.7,556.1 L466.8,562.0 M481.9,554.1 L492.2,559.7 L502.4,557.7 M492.2,559.7 L487.3,565.6 M502.4,557.7 L512.7,563.3 L522.9,561.3 M512.7,563.3 L507.8,569.2 M522.9,561.3 L533.2,566.9 L543.4,564.9 M533.2,566.9 L528.3,572.8 M241.3,522.4 L251.6,528.0 L261.8,526.0 M251.6,528.0 L246.7,533.9 M261.8,526.0 L272.1,531.6 L282.3,529.6 M272.1,531.6 L267.2,537.5 M282.3,529.6 L292.6,535.2 L302.8,533.2 M292.6,535.2 L287.7,541.1 M302.8,533.2 L313.1,538.8 L323.3,536.8 M313.1,538.8 L308.2,544.7 M323.3,536.8 L333.6,542.4 L343.8,540.4 M333.6,542.4 L328.7,548.3 M343.8,540.4 L354.1,546.0 L364.3,544.0 M354.1,546.0 L349.2,551.9 M364.3,544.0 L374.6,549.6 L384.8,547.6 M374.6,549.6 L369.7,555.5 M384.8,547.6 L395.1,553.2 L405.3,551.2 M395.1,553.2 L390.2,559.1 M405.3,551.2 L415.6,556.8 L425.8,554.8 M415.6,556.8 L410.7,562.7 M425.8,554.8 L436.1,560.4 L446.3,558.4 M436.1,560.4 L431.2,566.3 M446.3,558.4 L456.6,564.0 L466.8,562.0 M456.6,564.0 L451.7,569.9 M466.8,562.0 L477.1,567.6 L487.3,565.6 M477.1,567.6 L472.2,573.5 M487.3,565.6 L497.6,571.2 L507.8,569.2 M497.6,571.2 L492.7,577.1 M507.8,569.2 L518.1,574.8 L528.3,572.8 M518.1,574.8 L513.2,580.7 M528.3,572.8 L538.6,578.4 L548.8,576.4 M538.6,578.4 L533.7,584.3 M246.7,533.9 L257.0,539.5 L267.2,537.5 M257.0,539.5 L252.1,545.4 M267.2,537.5 L277.5,543.1 L287.7,541.1 M277.5,543.1 L272.6,549.0 M287.7,541.1 L298.0,546.7 L308.2,544.7 M298.0,546.7 L293.1,552.6 M308.2,544.7 L318.5,550.3 L328.7,548.3 M318.5,550.3 L313.6,556.2 M328.7,548.3 L339.0,553.9 L349.2,551.9 M339.0,553.9 L334.1,559.8 M349.2,551.9 L359.5,557.5 L369.7,555.5 M359.5,557.5 L354.6,563.4 M369.7,555.5 L380.0,561.1 L390.2,559.1 M380.0,561.1 L375.1,567.0 M390.2,559.1 L400.5,564.7 L410.7,562.7 M400.5,564.7 L395.6,570.6 M410.7,562.7 L421.0,568.3 L431.2,566.3 M421.0,568.3 L416.1,574.2 M431.2,566.3 L441.5,571.9 L451.7,569.9 M441.5,571.9 L436.6,577.8 M451.7,569.9 L462.0,575.5 L472.2,573.5 M462.0,575.5 L457.1,581.4 M472.2,573.5 L482.5,579.1 L492.7,577.1 M482.5,579.1 L477.6,585.0 M492.7,577.1 L503.0,582.7 L513.2,580.7 M503.0,582.7 L498.1,588.6 M513.2,580.7 L523.5,586.3 L533.7,584.3 M523.5,586.3 L518.6,592.2 M533.7,584.3 L544.0,589.9 L554.2,587.9 M544.0,589.9 L539.1,595.8 M252.1,545.4 L262.4,551.0 L272.6,549.0 M262.4,551.0 L257.5,556.9 M272.6,549.0 L282.9,554.6 L293.1,552.6 M282.9,554.6 L278.0,560.5 M293.1,552.6 L303.4,558.2 L313.6,556.2 M303.4,558.2 L298.5,564.1 M313.6,556.2 L323.9,561.8 L334.1,559.8 M323.9,561.8 L319.0,567.7 M334.1,559.8 L344.4,565.4 L354.6,563.4 M344.4,565.4 L339.5,571.3 M354.6,563.4 L364.9,569.0 L375.1,567.0 M364.9,569.0 L360.0,574.9 M375.1,567.0 L385.4,572.6 L395.6,570.6 M385.4,572.6 L380.5,578.5 M395.6,570.6 L405.9,576.2 L416.1,574.2 M405.9,576.2 L401.0,582.1 M416.1,574.2 L426.4,579.8 L436.6,577.8 M426.4,579.8 L421.5,585.7 M436.6,577.8 L446.9,583.4 L457.1,581.4 M446.9,583.4 L442.0,589.3 M457.1,581.4 L467.4,587.0 L477.6,585.0 M467.4,587.0 L462.5,592.9 M477.6,585.0 L487.9,590.6 L498.1,588.6 M487.9,590.6 L483.0,596.5 M498.1,588.6 L508.4,594.2 L518.6,592.2 M508.4,594.2 L503.5,600.1 M518.6,592.2 L528.9,597.8 L539.1,595.8 M528.9,597.8 L524.0,603.7 M539.1,595.8 L549.4,601.4 L559.6,599.4 M549.4,601.4 L544.5,607.3 " stroke="#f4f4fa" stroke-width="1.7" fill="none"/>
<circle cx="198.1" cy="430.4" r="3.1" fill="#121218"/>
<circle cx="218.6" cy="434.0" r="3.1" fill="#121218"/>
<circle cx="208.4" cy="436.0" r="3.5" fill="#ece42a"/>
<circle cx="239.1" cy="437.6" r="3.1" fill="#121218"/>
<circle cx="228.9" cy="439.6" r="3.5" fill="#ece42a"/>
<circle cx="259.6" cy="441.2" r="3.1" fill="#121218"/>
<circle cx="203.5" cy="441.9" r="3.1" fill="#121218"/>
<circle cx="249.4" cy="443.2" r="3.5" fill="#ece42a"/>
<circle cx="280.1" cy="444.8" r="3.1" fill="#121218"/>
<circle cx="224.0" cy="445.5" r="3.1" fill="#121218"/>
<circle cx="269.9" cy="446.8" r="3.5" fill="#ece42a"/>
<circle cx="213.8" cy="447.5" r="3.5" fill="#ece42a"/>
<circle cx="300.6" cy="448.4" r="3.1" fill="#121218"/>
<circle cx="244.5" cy="449.1" r="3.1" fill="#121218"/>
<circle cx="290.4" cy="450.4" r="3.5" fill="#ece42a"/>
<circle cx="234.3" cy="451.1" r="3.5" fill="#ece42a"/>
<circle cx="321.1" cy="452.0" r="3.1" fill="#121218"/>
<circle cx="265.0" cy="452.7" r="3.1" fill="#121218"/>
<circle cx="208.9" cy="453.4" r="3.1" fill="#121218"/>
<circle cx="310.9" cy="454.0" r="3.5" fill="#ece42a"/>
<circle cx="254.8" cy="454.7" r="3.5" fill="#ece42a"/>
<circle cx="341.6" cy="455.6" r="3.1" fill="#121218"/>
<circle cx="285.5" cy="456.3" r="3.1" fill="#121218"/>
<circle cx="229.4" cy="457.0" r="3.1" fill="#121218"/>
<circle cx="331.4" cy="457.6" r="3.5" fill="#ece42a"/>
<circle cx="275.3" cy="458.3" r="3.5" fill="#ece42a"/>
<circle cx="219.2" cy="459.0" r="3.5" fill="#ece42a"/>
<circle cx="362.1" cy="459.2" r="3.1" fill="#121218"/>
<circle cx="306.0" cy="459.9" r="3.1" fill="#121218"/>
<circle cx="249.9" cy="460.6" r="3.1" fill="#121218"/>
<circle cx="351.9" cy="461.2" r="3.5" fill="#ece42a"/>
<circle cx="295.8" cy="461.9" r="3.5" fill="#ece42a"/>
<circle cx="239.7" cy="462.6" r="3.5" fill="#ece42a"/>
<circle cx="382.6" cy="462.8" r="3.1" fill="#121218"/>
<circle cx="326.5" cy="463.5" r="3.1" fill="#121218"/>
<circle cx="270.4" cy="464.2" r="3.1" fill="#121218"/>
<circle cx="372.4" cy="464.8" r="3.5" fill="#ece42a"/>
<circle cx="214.3" cy="464.9" r="3.1" fill="#121218"/>
<circle cx="316.3" cy="465.5" r="3.5" fill="#ece42a"/>
<circle cx="260.2" cy="466.2" r="3.5" fill="#ece42a"/>
<circle cx="403.1" cy="466.4" r="3.1" fill="#121218"/>
<circle cx="347.0" cy="467.1" r="3.1" fill="#121218"/>
<circle cx="290.9" cy="467.8" r="3.1" fill="#121218"/>
<circle cx="392.9" cy="468.4" r="3.5" fill="#ece42a"/>
<circle cx="234.8" cy="468.5" r="3.1" fill="#121218"/>
<circle cx="336.8" cy="469.1" r="3.5" fill="#ece42a"/>
<circle cx="280.7" cy="469.8" r="3.5" fill="#ece42a"/>
<circle cx="423.6" cy="470.0" r="3.1" fill="#121218"/>
<circle cx="224.6" cy="470.5" r="3.5" fill="#ece42a"/>
<circle cx="367.5" cy="470.7" r="3.1" fill="#121218"/>
<circle cx="311.4" cy="471.4" r="3.1" fill="#121218"/>
<circle cx="413.4" cy="472.0" r="3.5" fill="#ece42a"/>
<circle cx="255.3" cy="472.1" r="3.1" fill="#121218"/>
<circle cx="357.3" cy="472.7" r="3.5" fill="#ece42a"/>
<circle cx="301.2" cy="473.4" r="3.5" fill="#ece42a"/>
<circle cx="444.1" cy="473.6" r="3.1" fill="#121218"/>
<circle cx="245.1" cy="474.1" r="3.5" fill="#ece42a"/>
<circle cx="388.0" cy="474.3" r="3.1" fill="#121218"/>
<circle cx="331.9" cy="475.0" r="3.1" fill="#121218"/>
<circle cx="433.9" cy="475.6" r="3.5" fill="#ece42a"/>
<circle cx="275.8" cy="475.7" r="3.1" fill="#121218"/>
<circle cx="377.8" cy="476.3" r="3.5" fill="#ece42a"/>
<circle cx="219.7" cy="476.4" r="3.1" fill="#121218"/>
<circle cx="321.7" cy="477.0" r="3.5" fill="#ece42a"/>
<circle cx="464.6" cy="477.2" r="3.1" fill="#121218"/>
<circle cx="265.6" cy="477.7" r="3.5" fill="#ece42a"/>
<circle cx="408.5" cy="477.9" r="3.1" fill="#121218"/>
<circle cx="352.4" cy="478.6" r="3.1" fill="#121218"/>
<circle cx="454.4" cy="479.2" r="3.5" fill="#ece42a"/>
<circle cx="296.3" cy="479.3" r="3.1" fill="#121218"/>
<circle cx="398.3" cy="479.9" r="3.5" fill="#ece42a"/>
<circle cx="240.2" cy="480.0" r="3.1" fill="#121218"/>
<circle cx="342.2" cy="480.6" r="3.5" fill="#ece42a"/>
<circle cx="485.1" cy="480.8" r="3.1" fill="#121218"/>
<circle cx="286.1" cy="481.3" r="3.5" fill="#ece42a"/>
<circle cx="429.0" cy="481.5" r="3.1" fill="#121218"/>
<circle cx="230.0" cy="482.0" r="3.5" fill="#ece42a"/>
<circle cx="372.9" cy="482.2" r="3.1" fill="#121218"/>
<circle cx="474.9" cy="482.8" r="3.5" fill="#ece42a"/>
<circle cx="316.8" cy="482.9" r="3.1" fill="#121218"/>
<circle cx="418.8" cy="483.5" r="3.5" fill="#ece42a"/>
<circle cx="260.7" cy="483.6" r="3.1" fill="#121218"/>
<circle cx="362.7" cy="484.2" r="3.5" fill="#ece42a"/>
<circle cx="306.6" cy="484.9" r="3.5" fill="#ece42a"/>
<circle cx="449.5" cy="485.1" r="3.1" fill="#121218"/>
<circle cx="250.5" cy="485.6" r="3.5" fill="#ece42a"/>
<circle cx="393.4" cy="485.8" r="3.1" fill="#121218"/>
<circle cx="495.4" cy="486.4" r="3.5" fill="#ece42a"/>
<circle cx="337.3" cy="486.5" r="3.1" fill="#121218"/>
<circle cx="439.3" cy="487.1" r="3.5" fill="#ece42a"/>
<circle cx="281.2" cy="487.2" r="3.1" fill="#121218"/>
<circle cx="383.2" cy="487.8" r="3.5" fill="#ece42a"/>
<circle cx="225.1" cy="487.9" r="3.1" fill="#121218"/>
<circle cx="327.1" cy="488.5" r="3.5" fill="#ece42a"/>
<circle cx="470.0" cy="488.7" r="3.1" fill="#121218"/>
<circle cx="271.0" cy="489.2" r="3.5" fill="#ece42a"/>
<circle cx="413.9" cy="489.4" r="3.1" fill="#121218"/>
<circle cx="357.8" cy="490.1" r="3.1" fill="#121218"/>
<circle cx="459.8" cy="490.7" r="3.5" fill="#ece42a"/>
<circle cx="301.7" cy="490.8" r="3.1" fill="#121218"/>
<circle cx="403.7" cy="491.4" r="3.5" fill="#ece42a"/>
<circle cx="245.6" cy="491.5" r="3.1" fill="#121218"/>
<circle cx="347.6" cy="492.1" r="3.5" fill="#ece42a"/>
<circle cx="490.5" cy="492.3" r="3.1" fill="#121218"/>
<circle cx="291.5" cy="492.8" r="3.5" fill="#ece42a"/>
<circle cx="434.4" cy="493.0" r="3.1" fill="#121218"/>
<circle cx="235.4" cy="493.5" r="3.5" fill="#ece42a"/>
<circle cx="378.3" cy="493.7" r="3.1" fill="#121218"/>
<circle cx="480.3" cy="494.3" r="3.5" fill="#ece42a"/>
<circle cx="322.2" cy="494.4" r="3.1" fill="#121218"/>
<circle cx="424.2" cy="495.0" r="3.5" fill="#ece42a"/>
<circle cx="266.1" cy="495.1" r="3.1" fill="#121218"/>
<circle cx="368.1" cy="495.7" r="3.5" fill="#ece42a"/>
<circle cx="312.0" cy="496.4" r="3.5" fill="#ece42a"/>
<circle cx="454.9" cy="496.6" r="3.1" fill="#121218"/>
<circle cx="255.9" cy="497.1" r="3.5" fill="#ece42a"/>
<circle cx="398.8" cy="497.3" r="3.1" fill="#121218"/>
<circle cx="500.8" cy="497.9" r="3.5" fill="#ece42a"/>
<circle cx="342.7" cy="498.0" r="3.1" fill="#121218"/>
<circle cx="444.7" cy="498.6" r="3.5" fill="#ece42a"/>
<circle cx="286.6" cy="498.7" r="3.1" fill="#121218"/>
<circle cx="388.6" cy="499.3" r="3.5" fill="#ece42a"/>
<circle cx="230.5" cy="499.4" r="3.1" fill="#121218"/>
<circle cx="332.5" cy="500.0" r="3.5" fill="#ece42a"/>
<circle cx="475.4" cy="500.2" r="3.1" fill="#121218"/>
<circle cx="276.4" cy="500.7" r="3.5" fill="#ece42a"/>
<circle cx="419.3" cy="500.9" r="3.1" fill="#121218"/>
<circle cx="363.2" cy="501.6" r="3.1" fill="#121218"/>
<circle cx="465.2" cy="502.2" r="3.5" fill="#ece42a"/>
<circle cx="307.1" cy="502.3" r="3.1" fill="#121218"/>
<circle cx="409.1" cy="502.9" r="3.5" fill="#ece42a"/>
<circle cx="251.0" cy="503.0" r="3.1" fill="#121218"/>
<circle cx="353.0" cy="503.6" r="3.5" fill="#ece42a"/>
<circle cx="495.9" cy="503.8" r="3.1" fill="#121218"/>
<circle cx="296.9" cy="504.3" r="3.5" fill="#ece42a"/>
<circle cx="439.8" cy="504.5" r="3.1" fill="#121218"/>
<circle cx="240.8" cy="505.0" r="3.5" fill="#ece42a"/>
<circle cx="383.7" cy="505.2" r="3.1" fill="#121218"/>
<circle cx="485.7" cy="505.8" r="3.5" fill="#ece42a"/>
<circle cx="327.6" cy="505.9" r="3.1" fill="#121218"/>
<circle cx="429.6" cy="506.5" r="3.5" fill="#ece42a"/>
<circle cx="271.5" cy="506.6" r="3.1" fill="#121218"/>
<circle cx="373.5" cy="507.2" r="3.5" fill="#ece42a"/>
<circle cx="317.4" cy="507.9" r="3.5" fill="#ece42a"/>
<circle cx="460.3" cy="508.1" r="3.1" fill="#121218"/>
<circle cx="261.3" cy="508.6" r="3.5" fill="#ece42a"/>
<circle cx="404.2" cy="508.8" r="3.1" fill="#121218"/>
<circle cx="506.2" cy="509.4" r="3.5" fill="#ece42a"/>
<circle cx="348.1" cy="509.5" r="3.1" fill="#121218"/>
<circle cx="450.1" cy="510.1" r="3.5" fill="#ece42a"/>
<circle cx="292.0" cy="510.2" r="3.1" fill="#121218"/>
<circle cx="394.0" cy="510.8" r="3.5" fill="#ece42a"/>
<circle cx="235.9" cy="510.9" r="3.1" fill="#121218"/>
<circle cx="337.9" cy="511.5" r="3.5" fill="#ece42a"/>
<circle cx="480.8" cy="511.7" r="3.1" fill="#121218"/>
<circle cx="281.8" cy="512.2" r="3.5" fill="#ece42a"/>
<circle cx="424.7" cy="512.4" r="3.1" fill="#121218"/>
<circle cx="368.6" cy="513.1" r="3.1" fill="#121218"/>
<circle cx="470.6" cy="513.7" r="3.5" fill="#ece42a"/>
<circle cx="312.5" cy="513.8" r="3.1" fill="#121218"/>
<circle cx="414.5" cy="514.4" r="3.5" fill="#ece42a"/>
<circle cx="256.4" cy="514.5" r="3.1" fill="#121218"/>
<circle cx="358.4" cy="515.1" r="3.5" fill="#ece42a"/>
<circle cx="501.3" cy="515.3" r="3.1" fill="#121218"/>
<circle cx="302.3" cy="515.8" r="3.5" fill="#ece42a"/>
<circle cx="445.2" cy="516.0" r="3.1" fill="#121218"/>
<circle cx="246.2" cy="516.5" r="3.5" fill="#ece42a"/>
<circle cx="389.1" cy="516.7" r="3.1" fill="#121218"/>
<circle cx="491.1" cy="517.3" r="3.5" fill="#ece42a"/>
<circle cx="333.0" cy="517.4" r="3.1" fill="#121218"/>
<circle cx="435.0" cy="518.0" r="3.5" fill="#ece42a"/>
<circle cx="276.9" cy="518.1" r="3.1" fill="#121218"/>
<circle cx="378.9" cy="518.7" r="3.5" fill="#ece42a"/>
<circle cx="322.8" cy="519.4" r="3.5" fill="#ece42a"/>
<circle cx="465.7" cy="519.6" r="3.1" fill="#121218"/>
<circle cx="266.7" cy="520.1" r="3.5" fill="#ece42a"/>
<circle cx="409.6" cy="520.3" r="3.1" fill="#121218"/>
<circle cx="511.6" cy="520.9" r="3.5" fill="#ece42a"/>
<circle cx="353.5" cy="521.0" r="3.1" fill="#121218"/>
<circle cx="455.5" cy="521.6" r="3.5" fill="#ece42a"/>
<circle cx="297.4" cy="521.7" r="3.1" fill="#121218"/>
<circle cx="399.4" cy="522.3" r="3.5" fill="#ece42a"/>
<circle cx="241.3" cy="522.4" r="3.1" fill="#121218"/>
<circle cx="343.3" cy="523.0" r="3.5" fill="#ece42a"/>
<circle cx="486.2" cy="523.2" r="3.1" fill="#121218"/>
<circle cx="287.2" cy="523.7" r="3.5" fill="#ece42a"/>
<circle cx="430.1" cy="523.9" r="3.1" fill="#121218"/>
<circle cx="374.0" cy="524.6" r="3.1" fill="#121218"/>
<circle cx="476.0" cy="525.2" r="3.5" fill="#ece42a"/>
<circle cx="317.9" cy="525.3" r="3.1" fill="#121218"/>
<circle cx="419.9" cy="525.9" r="3.5" fill="#ece42a"/>
<circle cx="261.8" cy="526.0" r="3.1" fill="#121218"/>
<circle cx="363.8" cy="526.6" r="3.5" fill="#ece42a"/>
<circle cx="506.7" cy="526.8" r="3.1" fill="#121218"/>
<circle cx="307.7" cy="527.3" r="3.5" fill="#ece42a"/>
<circle cx="450.6" cy="527.5" r="3.1" fill="#121218"/>
<circle cx="251.6" cy="528.0" r="3.5" fill="#ece42a"/>
<circle cx="394.5" cy="528.2" r="3.1" fill="#121218"/>
<circle cx="496.5" cy="528.8" r="3.5" fill="#ece42a"/>
<circle cx="338.4" cy="528.9" r="3.1" fill="#121218"/>
<circle cx="440.4" cy="529.5" r="3.5" fill="#ece42a"/>
<circle cx="282.3" cy="529.6" r="3.1" fill="#121218"/>
<circle cx="384.3" cy="530.2" r="3.5" fill="#ece42a"/>
<circle cx="328.2" cy="530.9" r="3.5" fill="#ece42a"/>
<circle cx="471.1" cy="531.1" r="3.1" fill="#121218"/>
<circle cx="272.1" cy="531.6" r="3.5" fill="#ece42a"/>
<circle cx="415.0" cy="531.8" r="3.1" fill="#121218"/>
<circle cx="517.0" cy="532.4" r="3.5" fill="#ece42a"/>
<circle cx="358.9" cy="532.5" r="3.1" fill="#121218"/>
<circle cx="460.9" cy="533.1" r="3.5" fill="#ece42a"/>
<circle cx="302.8" cy="533.2" r="3.1" fill="#121218"/>
<circle cx="404.8" cy="533.8" r="3.5" fill="#ece42a"/>
<circle cx="246.7" cy="533.9" r="3.1" fill="#121218"/>
<circle cx="348.7" cy="534.5" r="3.5" fill="#ece42a"/>
<circle cx="491.6" cy="534.7" r="3.1" fill="#121218"/>
<circle cx="292.6" cy="535.2" r="3.5" fill="#ece42a"/>
<circle cx="435.5" cy="535.4" r="3.1" fill="#121218"/>
<circle cx="379.4" cy="536.1" r="3.1" fill="#121218"/>
<circle cx="481.4" cy="536.7" r="3.5" fill="#ece42a"/>
<circle cx="323.3" cy="536.8" r="3.1" fill="#121218"/>
<circle cx="425.3" cy="537.4" r="3.5" fill="#ece42a"/>
<circle cx="267.2" cy="537.5" r="3.1" fill="#121218"/>
<circle cx="369.2" cy="538.1" r="3.5" fill="#ece42a"/>
<circle cx="512.1" cy="538.3" r="3.1" fill="#121218"/>
<circle cx="313.1" cy="538.8" r="3.5" fill="#ece42a"/>
<circle cx="456.0" cy="539.0" r="3.1" fill="#121218"/>
<circle cx="257.0" cy="539.5" r="3.5" fill="#ece42a"/>
<circle cx="399.9" cy="539.7" r="3.1" fill="#121218"/>
<circle cx="501.9" cy="540.3" r="3.5" fill="#ece42a"/>
<circle cx="343.8" cy="540.4" r="3.1" fill="#121218"/>
<circle cx="445.8" cy="541.0" r="3.5" fill="#ece42a"/>
<circle cx="287.7" cy="541.1" r="3.1" fill="#121218"/>
<circle cx="389.7" cy="541.7" r="3.5" fill="#ece42a"/>
<circle cx="333.6" cy="542.4" r="3.5" fill="#ece42a"/>
<circle cx="476.5" cy="542.6" r="3.1" fill="#121218"/>
<circle cx="277.5" cy="543.1" r="3.5" fill="#ece42a"/>
<circle cx="420.4" cy="543.3" r="3.1" fill="#121218"/>
<circle cx="522.4" cy="543.9" r="3.5" fill="#ece42a"/>
<circle cx="364.3" cy="544.0" r="3.1" fill="#121218"/>
<circle cx="466.3" cy="544.6" r="3.5" fill="#ece42a"/>
<circle cx="308.2" cy="544.7" r="3.1" fill="#121218"/>
<circle cx="410.2" cy="545.3" r="3.5" fill="#ece42a"/>
<circle cx="252.1" cy="545.4" r="3.1" fill="#121218"/>
<circle cx="354.1" cy="546.0" r="3.5" fill="#ece42a"/>
<circle cx="497.0" cy="546.2" r="3.1" fill="#121218"/>
<circle cx="298.0" cy="546.7" r="3.5" fill="#ece42a"/>
<circle cx="440.9" cy="546.9" r="3.1" fill="#121218"/>
<circle cx="384.8" cy="547.6" r="3.1" fill="#121218"/>
<circle cx="486.8" cy="548.2" r="3.5" fill="#ece42a"/>
<circle cx="328.7" cy="548.3" r="3.1" fill="#121218"/>
<circle cx="430.7" cy="548.9" r="3.5" fill="#ece42a"/>
<circle cx="272.6" cy="549.0" r="3.1" fill="#121218"/>
<circle cx="374.6" cy="549.6" r="3.5" fill="#ece42a"/>
<circle cx="517.5" cy="549.8" r="3.1" fill="#121218"/>
<circle cx="318.5" cy="550.3" r="3.5" fill="#ece42a"/>
<circle cx="461.4" cy="550.5" r="3.1" fill="#121218"/>
<circle cx="262.4" cy="551.0" r="3.5" fill="#ece42a"/>
<circle cx="405.3" cy="551.2" r="3.1" fill="#121218"/>
<circle cx="507.3" cy="551.8" r="3.5" fill="#ece42a"/>
<circle cx="349.2" cy="551.9" r="3.1" fill="#121218"/>
<circle cx="451.2" cy="552.5" r="3.5" fill="#ece42a"/>
<circle cx="293.1" cy="552.6" r="3.1" fill="#121218"/>
<circle cx="395.1" cy="553.2" r="3.5" fill="#ece42a"/>
<circle cx="339.0" cy="553.9" r="3.5" fill="#ece42a"/>
<circle cx="481.9" cy="554.1" r="3.1" fill="#121218"/>
<circle cx="282.9" cy="554.6" r="3.5" fill="#ece42a"/>
<circle cx="425.8" cy="554.8" r="3.1" fill="#121218"/>
<circle cx="527.8" cy="555.4" r="3.5" fill="#ece42a"/>
<circle cx="369.7" cy="555.5" r="3.1" fill="#121218"/>
<circle cx="471.7" cy="556.1" r="3.5" fill="#ece42a"/>
<circle cx="313.6" cy="556.2" r="3.1" fill="#121218"/>
<circle cx="415.6" cy="556.8" r="3.5" fill="#ece42a"/>
<circle cx="359.5" cy="557.5" r="3.5" fill="#ece42a"/>
<circle cx="502.4" cy="557.7" r="3.1" fill="#121218"/>
<circle cx="303.4" cy="558.2" r="3.5" fill="#ece42a"/>
<circle cx="446.3" cy="558.4" r="3.1" fill="#121218"/>
<circle cx="390.2" cy="559.1" r="3.1" fill="#121218"/>
<circle cx="492.2" cy="559.7" r="3.5" fill="#ece42a"/>
<circle cx="334.1" cy="559.8" r="3.1" fill="#121218"/>
<circle cx="436.1" cy="560.4" r="3.5" fill="#ece42a"/>
<circle cx="380.0" cy="561.1" r="3.5" fill="#ece42a"/>
<circle cx="522.9" cy="561.3" r="3.1" fill="#121218"/>
<circle cx="323.9" cy="561.8" r="3.5" fill="#ece42a"/>
<circle cx="466.8" cy="562.0" r="3.1" fill="#121218"/>
<circle cx="410.7" cy="562.7" r="3.1" fill="#121218"/>
<circle cx="512.7" cy="563.3" r="3.5" fill="#ece42a"/>
<circle cx="354.6" cy="563.4" r="3.1" fill="#121218"/>
<circle cx="456.6" cy="564.0" r="3.5" fill="#ece42a"/>
<circle cx="400.5" cy="564.7" r="3.5" fill="#ece42a"/>
<circle cx="344.4" cy="565.4" r="3.5" fill="#ece42a"/>
<circle cx="487.3" cy="565.6" r="3.1" fill="#121218"/>
<circle cx="431.2" cy="566.3" r="3.1" fill="#121218"/>
<circle cx="533.2" cy="566.9" r="3.5" fill="#ece42a"/>
<circle cx="375.1" cy="567.0" r="3.1" fill="#121218"/>
<circle cx="477.1" cy="567.6" r="3.5" fill="#ece42a"/>
<circle cx="421.0" cy="568.3" r="3.5" fill="#ece42a"/>
<circle cx="364.9" cy="569.0" r="3.5" fill="#ece42a"/>
<circle cx="507.8" cy="569.2" r="3.1" fill="#121218"/>
<circle cx="451.7" cy="569.9" r="3.1" fill="#121218"/>
<circle cx="395.6" cy="570.6" r="3.1" fill="#121218"/>
<circle cx="497.6" cy="571.2" r="3.5" fill="#ece42a"/>
<circle cx="441.5" cy="571.9" r="3.5" fill="#ece42a"/>
<circle cx="385.4" cy="572.6" r="3.5" fill="#ece42a"/>
<circle cx="528.3" cy="572.8" r="3.1" fill="#121218"/>
<circle cx="472.2" cy="573.5" r="3.1" fill="#121218"/>
<circle cx="416.1" cy="574.2" r="3.1" fill="#121218"/>
<circle cx="518.1" cy="574.8" r="3.5" fill="#ece42a"/>
<circle cx="462.0" cy="575.5" r="3.5" fill="#ece42a"/>
<circle cx="405.9" cy="576.2" r="3.5" fill="#ece42a"/>
<circle cx="492.7" cy="577.1" r="3.1" fill="#121218"/>
<circle cx="436.6" cy="577.8" r="3.1" fill="#121218"/>
<circle cx="538.6" cy="578.4" r="3.5" fill="#ece42a"/>
<circle cx="482.5" cy="579.1" r="3.5" fill="#ece42a"/>
<circle cx="426.4" cy="579.8" r="3.5" fill="#ece42a"/>
<circle cx="513.2" cy="580.7" r="3.1" fill="#121218"/>
<circle cx="457.1" cy="581.4" r="3.1" fill="#121218"/>
<circle cx="503.0" cy="582.7" r="3.5" fill="#ece42a"/>
<circle cx="446.9" cy="583.4" r="3.5" fill="#ece42a"/>
<circle cx="533.7" cy="584.3" r="3.1" fill="#121218"/>
<circle cx="477.6" cy="585.0" r="3.1" fill="#121218"/>
<circle cx="523.5" cy="586.3" r="3.5" fill="#ece42a"/>
<circle cx="467.4" cy="587.0" r="3.5" fill="#ece42a"/>
<circle cx="498.1" cy="588.6" r="3.1" fill="#121218"/>
<circle cx="544.0" cy="589.9" r="3.5" fill="#ece42a"/>
<circle cx="487.9" cy="590.6" r="3.5" fill="#ece42a"/>
<circle cx="518.6" cy="592.2" r="3.1" fill="#121218"/>
<circle cx="508.4" cy="594.2" r="3.5" fill="#ece42a"/>
<circle cx="539.1" cy="595.8" r="3.1" fill="#121218"/>
<circle cx="528.9" cy="597.8" r="3.5" fill="#ece42a"/>
<circle cx="549.4" cy="601.4" r="3.5" fill="#ece42a"/>
</g>
<line x1="248.0" y1="494.0" x2="250.0" y2="506.0" stroke="#222" stroke-width="1.2"/>
<ellipse cx="248.0" cy="492.0" rx="3.4" ry="4.2" fill="#151515"/>
<line x1="262.8" y1="486.8" x2="264.8" y2="498.8" stroke="#222" stroke-width="1.2"/>
<ellipse cx="262.8" cy="484.8" rx="3.4" ry="4.2" fill="#151515"/>
<line x1="277.6" y1="479.6" x2="279.6" y2="491.6" stroke="#222" stroke-width="1.2"/>
<ellipse cx="277.6" cy="477.6" rx="3.4" ry="4.2" fill="#151515"/>
<line x1="292.4" y1="472.4" x2="294.4" y2="484.4" stroke="#222" stroke-width="1.2"/>
<ellipse cx="292.4" cy="470.4" rx="3.4" ry="4.2" fill="#151515"/>
<line x1="307.2" y1="465.2" x2="309.2" y2="477.2" stroke="#222" stroke-width="1.2"/>
<ellipse cx="307.2" cy="463.2" rx="3.4" ry="4.2" fill="#151515"/>
<path d="M322.5,525.7 L451.7,486 L631.7,431.1" stroke="#111" stroke-width="2.8" stroke-dasharray="7 4" fill="none"/>
<path d="M328,594 L495,630 L639,658.3" stroke="#111" stroke-width="2.8" stroke-dasharray="7 4" fill="none"/>
<ellipse cx="326.5" cy="564" rx="12.5" ry="31" fill="none" stroke="#111" stroke-width="1.1" stroke-dasharray="2 1.5"/>
<text x="195.0" y="477.0" font-family='"Liberation Serif", serif' font-size="19" font-weight="bold" fill="#111" textLength="49.0" lengthAdjust="spacingAndGlyphs">Drain</text>
<text x="447.4" y="520.0" font-family='"Liberation Serif", serif' font-size="19" font-weight="bold" fill="#111" textLength="61.0" lengthAdjust="spacingAndGlyphs">Source</text>
<text x="355.5" y="454.0" font-family='"Liberation Serif", serif' font-size="19" font-weight="bold" fill="#111" textLength="139.0" lengthAdjust="spacingAndGlyphs">Multilayer InSe</text>
<text x="200.5" y="557.5" font-family='"Liberation Serif", serif' font-size="19" font-weight="bold" fill="#111" textLength="67.0" lengthAdjust="spacingAndGlyphs">PMMA</text>
<text x="253.6" y="581.3" font-family='"Liberation Serif", serif' font-size="18" font-weight="bold" fill="#111" textLength="20.0" lengthAdjust="spacingAndGlyphs">Al</text>
<text x="273.5" y="581.3" font-family='"Liberation Serif", serif' font-size="11" font-weight="bold" fill="#111">2</text>
<text x="279.0" y="581.3" font-family='"Liberation Serif", serif' font-size="18" font-weight="bold" fill="#111" textLength="14.0" lengthAdjust="spacingAndGlyphs">O</text>
<text x="293.0" y="581.3" font-family='"Liberation Serif", serif' font-size="11" font-weight="bold" fill="#111">3</text>
<text x="269.4" y="605.0" font-family='"Liberation Serif", serif' font-size="18" font-weight="bold" fill="#111" textLength="53.0" lengthAdjust="spacingAndGlyphs">P++Si</text>
<rect x="640.2" y="495.6" width="201.8" height="46.5" fill="#edefee"/>
<rect x="641.2" y="609.7" width="201.8" height="49.7" fill="#fbe3d3"/>
<text x="741.0" y="525.8" font-family='"Liberation Serif", serif' font-size="16.5" font-weight="bold" fill="#111" text-anchor="middle" textLength="56.0" lengthAdjust="spacingAndGlyphs">PMMA</text>
<text x="681.4" y="640.4" font-family='"Liberation Serif", serif' font-size="16" font-weight="bold" fill="#111" textLength="100.0" lengthAdjust="spacingAndGlyphs">Dielectric, Al</text>
<text x="782.0" y="643.5" font-family='"Liberation Serif", serif' font-size="10" font-weight="bold" fill="#111">2</text>
<text x="787.0" y="640.4" font-family='"Liberation Serif", serif' font-size="16" font-weight="bold" fill="#111" textLength="12.0" lengthAdjust="spacingAndGlyphs">O</text>
<text x="799.0" y="643.5" font-family='"Liberation Serif", serif' font-size="10" font-weight="bold" fill="#111">3</text>
<path d="M646.5,449.1 V473.4 M646.5,449.1 L658.1,436.4 M646.5,473.4 L658.1,486.1 M658.1,436.4 L680.3,449.1 M658.1,486.1 L680.3,473.4 M680.3,449.1 V473.4 M680.3,449.1 L693,436.4 M680.3,473.4 L693,486.1 M693,436.4 L715.2,449.1 M693,486.1 L715.2,473.4 M715.2,449.1 V473.4 M715.2,449.1 L727.9,436.4 M715.2,473.4 L727.9,486.1 M727.9,436.4 L750,449.1 M727.9,486.1 L750,473.4 M750,449.1 V473.4 M750,449.1 L763.1,436.4 M750,473.4 L763.1,486.1 M763.1,436.4 L786,449.1 M763.1,486.1 L786,473.4 M786,449.1 V473.4 M786,449.1 L798.6,436.4 M786,473.4 L798.6,486.1 M798.6,436.4 L820.8,449.1 M798.6,486.1 L820.8,473.4 M820.8,449.1 V473.4 M820.8,449.1 L833.5,436.4 M820.8,473.4 L833.5,486.1 " stroke="#9aa0b0" stroke-width="1.3" fill="none"/>
<circle cx="658.1" cy="436.4" r="6.8" fill="#0b0b0b"/>
<circle cx="658.1" cy="486.1" r="6.8" fill="#0b0b0b"/>
<circle cx="646.5" cy="449.1" r="5" fill="#f2c21a"/>
<circle cx="646.5" cy="473.4" r="5" fill="#f2c21a"/>
<circle cx="693" cy="436.4" r="6.8" fill="#0b0b0b"/>
<circle cx="693" cy="486.1" r="6.8" fill="#0b0b0b"/>
<circle cx="680.3" cy="449.1" r="5" fill="#f2c21a"/>
<circle cx="680.3" cy="473.4" r="5" fill="#f2c21a"/>
<circle cx="727.9" cy="436.4" r="6.8" fill="#0b0b0b"/>
<circle cx="727.9" cy="486.1" r="6.8" fill="#0b0b0b"/>
<circle cx="715.2" cy="449.1" r="5" fill="#f2c21a"/>
<circle cx="715.2" cy="473.4" r="5" fill="#f2c21a"/>
<circle cx="763.1" cy="436.4" r="6.8" fill="#0b0b0b"/>
<circle cx="763.1" cy="486.1" r="6.8" fill="#0b0b0b"/>
<circle cx="750" cy="449.1" r="5" fill="#f2c21a"/>
<circle cx="750" cy="473.4" r="5" fill="#f2c21a"/>
<circle cx="798.6" cy="436.4" r="6.8" fill="#0b0b0b"/>
<circle cx="798.6" cy="486.1" r="6.8" fill="#0b0b0b"/>
<circle cx="786" cy="449.1" r="5" fill="#f2c21a"/>
<circle cx="786" cy="473.4" r="5" fill="#f2c21a"/>
<circle cx="833.5" cy="436.4" r="6.8" fill="#0b0b0b"/>
<circle cx="833.5" cy="486.1" r="6.8" fill="#0b0b0b"/>
<circle cx="820.8" cy="449.1" r="5" fill="#f2c21a"/>
<circle cx="820.8" cy="473.4" r="5" fill="#f2c21a"/>
<text x="648.6" y="557.5" font-family='"Liberation Serif", serif' font-size="11" font-weight="bold" fill="#111">H</text>
<text x="676.6" y="552.0" font-family='"Liberation Serif", serif' font-size="11" font-weight="bold" fill="#111">H</text>
<text x="664.6" y="565.0" font-family='"Liberation Serif", serif' font-size="11" font-weight="bold" fill="#111">O</text>
<path d="M656.6052409129333,555 L664.6052409129333,559 M672.6052409129333,557 L677.6052409129333,552 M670.6052409129333,566 L672.6052409129333,572" stroke="#111" stroke-width="1" fill="none"/>
<text x="666.6" y="585.0" font-family='"Liberation Serif", serif' font-size="11" font-weight="bold" fill="#111">H</text>
<text x="666.6" y="600.0" font-family='"Liberation Serif", serif' font-size="11" font-weight="bold" fill="#111">O</text>
<path d="M671.6052409129333,588 V592 M671.6052409129333,600 V609.7" stroke="#111" stroke-width="1" fill="none"/>
<text x="715.2" y="557.5" font-family='"Liberation Serif", serif' font-size="11" font-weight="bold" fill="#111">H</text>
<text x="743.2" y="552.0" font-family='"Liberation Serif", serif' font-size="11" font-weight="bold" fill="#111">H</text>
<text x="731.2" y="565.0" font-family='"Liberation Serif", serif' font-size="11" font-weight="bold" fill="#111">O</text>
<path d="M723.2052409129333,555 L731.2052409129333,559 M739.2052409129333,557 L744.2052409129333,552 M737.2052409129333,566 L739.2052409129333,572" stroke="#111" stroke-width="1" fill="none"/>
<text x="733.2" y="585.0" font-family='"Liberation Serif", serif' font-size="11" font-weight="bold" fill="#111">H</text>
<text x="733.2" y="600.0" font-family='"Liberation Serif", serif' font-size="11" font-weight="bold" fill="#111">O</text>
<path d="M738.2052409129333,588 V592 M738.2052409129333,600 V609.7" stroke="#111" stroke-width="1" fill="none"/>
<text x="789.1" y="557.5" font-family='"Liberation Serif", serif' font-size="11" font-weight="bold" fill="#111">H</text>
<text x="817.1" y="552.0" font-family='"Liberation Serif", serif' font-size="11" font-weight="bold" fill="#111">H</text>
<text x="805.1" y="565.0" font-family='"Liberation Serif", serif' font-size="11" font-weight="bold" fill="#111">O</text>
<path d="M797.1052409129333,555 L805.1052409129333,559 M813.1052409129333,557 L818.1052409129333,552 M811.1052409129333,566 L813.1052409129333,572" stroke="#111" stroke-width="1" fill="none"/>
<text x="807.1" y="585.0" font-family='"Liberation Serif", serif' font-size="11" font-weight="bold" fill="#111">H</text>
<text x="807.1" y="600.0" font-family='"Liberation Serif", serif' font-size="11" font-weight="bold" fill="#111">O</text>
<path d="M812.1052409129333,588 V592 M812.1052409129333,600 V609.7" stroke="#111" stroke-width="1" fill="none"/>
<text x="699.3" y="600.0" font-family='"Liberation Serif", serif' font-size="11" font-weight="bold" fill="#111">OH</text>
<path d="M704.323753169907,601 V609.7" stroke="#111" stroke-width="1" fill="none"/>
<text x="772.3" y="600.0" font-family='"Liberation Serif", serif' font-size="11" font-weight="bold" fill="#111">OH</text>
<path d="M777.323753169907,601 V609.7" stroke="#111" stroke-width="1" fill="none"/>
<rect x="1006.4" y="420.6" width="284.9" height="209.7" fill="none" stroke="#1e1e1e" stroke-width="2.4"/>
<path d="M1006.4,612.5 h-6 M1006.4,589.1 h-3.5 M1006.4,565.7 h-6 M1006.4,542.3 h-3.5 M1006.4,518.9 h-6 M1006.4,495.5 h-3.5 M1006.4,472.1 h-6 M1006.4,448.7 h-3.5 M1006.4,425.3 h-6 M1021.4,630.3 v5 M1037.2,630.3 v3 M1053.1,630.3 v5 M1069.0,630.3 v3 M1084.8,630.3 v5 M1100.7,630.3 v3 M1116.5,630.3 v5 M1132.4,630.3 v3 M1148.2,630.3 v5 M1164.0,630.3 v3 M1179.9,630.3 v5 M1195.8,630.3 v3 M1211.6,630.3 v5 M1227.5,630.3 v3 M1243.3,630.3 v5 M1259.2,630.3 v3 M1275.0,630.3 v5 " stroke="#1e1e1e" stroke-width="2" fill="none"/>
<text x="998.5" y="620.5" font-family='"Liberation Serif", serif' font-size="20" font-weight="bold" fill="#1e1e1e" text-anchor="end" textLength="10.0" lengthAdjust="spacingAndGlyphs">0</text>
<text x="998.5" y="573.7" font-family='"Liberation Serif", serif' font-size="20" font-weight="bold" fill="#1e1e1e" text-anchor="end" textLength="20.0" lengthAdjust="spacingAndGlyphs">40</text>
<text x="998.5" y="526.9" font-family='"Liberation Serif", serif' font-size="20" font-weight="bold" fill="#1e1e1e" text-anchor="end" textLength="20.0" lengthAdjust="spacingAndGlyphs">80</text>
<text x="998.5" y="480.1" font-family='"Liberation Serif", serif' font-size="20" font-weight="bold" fill="#1e1e1e" text-anchor="end" textLength="30.0" lengthAdjust="spacingAndGlyphs">120</text>
<text x="998.5" y="433.3" font-family='"Liberation Serif", serif' font-size="20" font-weight="bold" fill="#1e1e1e" text-anchor="end" textLength="30.0" lengthAdjust="spacingAndGlyphs">160</text>
<text x="1018.4" y="657.8" font-family='"Liberation Serif", serif' font-size="20" font-weight="bold" fill="#1e1e1e" text-anchor="middle" textLength="18.5" lengthAdjust="spacingAndGlyphs">-8</text>
<text x="1050.1" y="657.8" font-family='"Liberation Serif", serif' font-size="20" font-weight="bold" fill="#1e1e1e" text-anchor="middle" textLength="18.5" lengthAdjust="spacingAndGlyphs">-6</text>
<text x="1081.8" y="657.8" font-family='"Liberation Serif", serif' font-size="20" font-weight="bold" fill="#1e1e1e" text-anchor="middle" textLength="18.5" lengthAdjust="spacingAndGlyphs">-4</text>
<text x="1113.5" y="657.8" font-family='"Liberation Serif", serif' font-size="20" font-weight="bold" fill="#1e1e1e" text-anchor="middle" textLength="18.5" lengthAdjust="spacingAndGlyphs">-2</text>
<text x="1148.2" y="657.8" font-family='"Liberation Serif", serif' font-size="20" font-weight="bold" fill="#1e1e1e" text-anchor="middle" textLength="10.0" lengthAdjust="spacingAndGlyphs">0</text>
<text x="1179.9" y="657.8" font-family='"Liberation Serif", serif' font-size="20" font-weight="bold" fill="#1e1e1e" text-anchor="middle" textLength="10.0" lengthAdjust="spacingAndGlyphs">2</text>
<text x="1211.6" y="657.8" font-family='"Liberation Serif", serif' font-size="20" font-weight="bold" fill="#1e1e1e" text-anchor="middle" textLength="10.0" lengthAdjust="spacingAndGlyphs">4</text>
<text x="1243.3" y="657.8" font-family='"Liberation Serif", serif' font-size="20" font-weight="bold" fill="#1e1e1e" text-anchor="middle" textLength="10.0" lengthAdjust="spacingAndGlyphs">6</text>
<text x="1275.0" y="657.8" font-family='"Liberation Serif", serif' font-size="20" font-weight="bold" fill="#1e1e1e" text-anchor="middle" textLength="10.0" lengthAdjust="spacingAndGlyphs">8</text>
<text x="1129.0" y="676.6" font-family='"Liberation Serif", serif' font-size="21" font-weight="bold" fill="#1e1e1e" textLength="15.0" lengthAdjust="spacingAndGlyphs">V</text>
<text x="1144.0" y="682.0" font-family='"Liberation Serif", serif' font-size="15" font-weight="bold" fill="#1e1e1e">g</text>
<text x="1156.0" y="676.6" font-family='"Liberation Serif", serif' font-size="21" font-weight="bold" fill="#1e1e1e" textLength="30.0" lengthAdjust="spacingAndGlyphs">(V)</text>
<g transform="translate(964.2 557) rotate(-90)"><text x="0" y="0" font-family='"Liberation Serif", serif' font-size="22" font-weight="bold" fill="#1e1e1e">I</text><text x="9" y="5" font-family='"Liberation Serif", serif' font-size="20" font-weight="bold" fill="#1e1e1e" textLength="18" lengthAdjust="spacingAndGlyphs">ds</text><text x="31" y="0" font-family='"Liberation Serif", serif' font-size="21" font-weight="bold" fill="#1e1e1e" textLength="41" lengthAdjust="spacingAndGlyphs">(μA)</text></g>
<path d="M1037.2,609.4 L1040.7,612.8 L1037.2,616.2 L1033.8,612.8 Z M1045.2,609.5 L1048.6,612.9 L1045.2,616.3 L1041.8,612.9 Z M1053.1,609.5 L1056.5,612.9 L1053.1,616.3 L1049.7,612.9 Z M1061.0,609.6 L1064.4,613.0 L1061.0,616.4 L1057.6,613.0 Z M1069.0,609.6 L1072.4,613.0 L1069.0,616.4 L1065.5,613.0 Z M1076.9,609.6 L1080.3,613.0 L1076.9,616.4 L1073.5,613.0 Z M1084.8,609.7 L1088.2,613.1 L1084.8,616.5 L1081.4,613.1 Z M1092.7,609.7 L1096.1,613.1 L1092.7,616.5 L1089.3,613.1 Z M1100.7,609.8 L1104.1,613.2 L1100.7,616.6 L1097.2,613.2 Z M1108.6,609.8 L1112.0,613.2 L1108.6,616.6 L1105.2,613.2 Z M1116.5,609.9 L1119.9,613.3 L1116.5,616.7 L1113.1,613.3 Z M1124.4,609.5 L1127.8,612.9 L1124.4,616.3 L1121.0,612.9 Z M1132.4,609.2 L1135.8,612.6 L1132.4,616.0 L1129.0,612.6 Z M1140.3,608.8 L1143.7,612.2 L1140.3,615.6 L1136.9,612.2 Z M1148.2,608.4 L1151.6,611.8 L1148.2,615.2 L1144.8,611.8 Z M1156.1,607.4 L1159.5,610.8 L1156.1,614.2 L1152.7,610.8 Z M1164.0,606.4 L1167.5,609.8 L1164.0,613.2 L1160.6,609.8 Z M1172.0,604.5 L1175.4,607.9 L1172.0,611.3 L1168.6,607.9 Z M1179.9,601.7 L1183.3,605.1 L1179.9,608.5 L1176.5,605.1 Z M1187.8,598.2 L1191.2,601.6 L1187.8,605.0 L1184.4,601.6 Z M1195.8,593.5 L1199.2,596.9 L1195.8,600.3 L1192.3,596.9 Z M1203.7,588.3 L1207.1,591.7 L1203.7,595.1 L1200.3,591.7 Z M1211.6,581.2 L1215.0,584.6 L1211.6,588.0 L1208.2,584.6 Z M1219.5,572.3 L1222.9,575.7 L1219.5,579.1 L1216.1,575.7 Z M1227.5,563.3 L1230.9,566.7 L1227.5,570.1 L1224.0,566.7 Z M1235.4,554.4 L1238.8,557.8 L1235.4,561.2 L1232.0,557.8 Z M1243.3,545.4 L1246.7,548.8 L1243.3,552.2 L1239.9,548.8 Z M1251.2,538.1 L1254.6,541.5 L1251.2,544.9 L1247.8,541.5 Z M1259.2,529.6 L1262.6,533.0 L1259.2,536.4 L1255.8,533.0 Z " fill="#a8a8a8"/>
<path d="M1212.8,583.8 L1240.8,555.1" stroke="#2a2a2a" stroke-width="2.6"/>
<path d="M1036.6,612.5 L1039.6,612.5 L1042.6,612.4 L1045.6,612.4 L1048.6,612.4 L1051.6,612.4 L1054.6,612.4 L1057.6,612.3 L1060.6,612.3 L1063.6,612.3 L1066.6,612.2 L1069.6,612.2 L1072.6,612.1 L1075.6,612.0 L1078.6,611.9 L1081.6,611.7 L1084.6,611.6 L1087.6,611.4 L1090.6,611.1 L1093.6,610.8 L1096.6,610.5 L1099.6,610.1 L1102.6,609.6 L1105.6,609.0 L1108.6,608.3 L1111.6,607.4 L1114.6,606.5 L1117.6,605.4 L1120.6,604.1 L1123.6,602.6 L1126.6,600.9 L1129.6,599.0 L1132.6,597.0 L1135.6,594.7 L1138.6,592.2 L1141.6,589.5 L1144.6,586.7 L1147.6,583.7 L1150.6,580.5 L1153.6,577.2 L1156.6,573.8 L1159.6,570.2 L1162.6,566.6 L1165.6,562.9 L1168.6,559.2 L1171.6,555.3 L1174.6,551.5 L1177.6,547.6 L1180.6,543.6 L1183.6,539.6 L1186.6,535.7 L1189.6,531.6 L1192.6,527.6 L1195.6,523.6 L1198.6,519.5 L1201.6,515.5 L1204.6,511.4 L1207.6,507.3 L1210.6,503.3 L1213.6,499.2 L1216.6,495.1 L1219.6,491.0 L1222.6,486.9 L1225.6,482.8 L1228.6,478.7 L1231.6,474.6 L1234.6,470.6 L1237.6,466.5 L1240.6,462.4 L1243.6,458.3 L1246.6,454.2 L1249.6,450.1 L1252.6,446.0 L1255.6,441.9 L1258.6,437.8" fill="none" stroke="#404040" stroke-width="5.6" stroke-linecap="round" stroke-linejoin="round"/>
<path d="M1036.6,612.5 L1039.6,612.5 L1042.6,612.4 L1045.6,612.4 L1048.6,612.4 L1051.6,612.4 L1054.6,612.4 L1057.6,612.3 L1060.6,612.3 L1063.6,612.3 L1066.6,612.2 L1069.6,612.2 L1072.6,612.1 L1075.6,612.0 L1078.6,611.9 L1081.6,611.7 L1084.6,611.6 L1087.6,611.4 L1090.6,611.1 L1093.6,610.8 L1096.6,610.5 L1099.6,610.1 L1102.6,609.6 L1105.6,609.0 L1108.6,608.3 L1111.6,607.4 L1114.6,606.5 L1117.6,605.4 L1120.6,604.1 L1123.6,602.6 L1126.6,600.9 L1129.6,599.0 L1132.6,597.0 L1135.6,594.7 L1138.6,592.2 L1141.6,589.5 L1144.6,586.7 L1147.6,583.7 L1150.6,580.5 L1153.6,577.2 L1156.6,573.8 L1159.6,570.2 L1162.6,566.6 L1165.6,562.9 L1168.6,559.2 L1171.6,555.3 L1174.6,551.5 L1177.6,547.6 L1180.6,543.6 L1183.6,539.6 L1186.6,535.7 L1189.6,531.6 L1192.6,527.6 L1195.6,523.6 L1198.6,519.5 L1201.6,515.5 L1204.6,511.4 L1207.6,507.3 L1210.6,503.3 L1213.6,499.2 L1216.6,495.1 L1219.6,491.0 L1222.6,486.9 L1225.6,482.8 L1228.6,478.7 L1231.6,474.6 L1234.6,470.6 L1237.6,466.5 L1240.6,462.4 L1243.6,458.3 L1246.6,454.2 L1249.6,450.1 L1252.6,446.0 L1255.6,441.9 L1258.6,437.8" fill="none" stroke="#6a6a6a" stroke-width="1.2" stroke-dasharray="2 3" opacity="0.6"/>
<line x1="1017.7" y1="443.5" x2="1038.9" y2="443.5" stroke="#c0c0c0" stroke-width="1"/>
<path d="M1028.3,440 L1031.8,443.5 L1028.3,447 L1024.8,443.5 Z" fill="#a8a8a8"/>
<line x1="1017.7" y1="463" x2="1038.9" y2="463" stroke="#c0c0c0" stroke-width="1"/>
<circle cx="1029" cy="462.8" r="3.2" fill="#383838"/>
<text x="1043.4" y="447.5" font-family='"Liberation Serif", serif' font-size="15.5" font-weight="bold" fill="#1e1e1e" textLength="16.0" lengthAdjust="spacingAndGlyphs">Al</text>
<text x="1060.0" y="451.5" font-family='"Liberation Serif", serif' font-size="14" font-weight="bold" fill="#1e1e1e" textLength="8.0" lengthAdjust="spacingAndGlyphs">2</text>
<text x="1068.3" y="447.5" font-family='"Liberation Serif", serif' font-size="15.5" font-weight="bold" fill="#1e1e1e" textLength="14.5" lengthAdjust="spacingAndGlyphs">O</text>
<text x="1083.4" y="451.5" font-family='"Liberation Serif", serif' font-size="14" font-weight="bold" fill="#1e1e1e" textLength="8.5" lengthAdjust="spacingAndGlyphs">3</text>
<text x="1043.0" y="467.4" font-family='"Liberation Serif", serif' font-size="15.5" font-weight="bold" fill="#1e1e1e" textLength="79.0" lengthAdjust="spacingAndGlyphs">PMMA/Al</text>
<text x="1122.5" y="471.5" font-family='"Liberation Serif", serif' font-size="14" font-weight="bold" fill="#1e1e1e" textLength="8.0" lengthAdjust="spacingAndGlyphs">2</text>
<text x="1130.5" y="467.4" font-family='"Liberation Serif", serif' font-size="15.5" font-weight="bold" fill="#1e1e1e" textLength="14.5" lengthAdjust="spacingAndGlyphs">O</text>
<text x="1145.2" y="471.5" font-family='"Liberation Serif", serif' font-size="14" font-weight="bold" fill="#1e1e1e" textLength="8.5" lengthAdjust="spacingAndGlyphs">3</text>
<text x="1161.0" y="443.2" font-family='"Liberation Serif", serif' font-size="16" font-weight="bold" fill="#1e1e1e" textLength="12.0" lengthAdjust="spacingAndGlyphs">V</text>
<text x="1173.0" y="448.5" font-family='"Liberation Serif", serif' font-size="12" font-weight="bold" fill="#1e1e1e" textLength="13.0" lengthAdjust="spacingAndGlyphs">ds</text>
<text x="1190.0" y="443.2" font-family='"Liberation Serif", serif' font-size="16" font-weight="bold" fill="#1e1e1e" textLength="44.5" lengthAdjust="spacingAndGlyphs">= 1 V</text>
<text x="1051.8" y="520.4" font-family='"Liberation Serif", serif' font-size="16.5" font-weight="bold" fill="#1e1e1e" textLength="60.8" lengthAdjust="spacingAndGlyphs">1055 cm</text>
<text x="1113.6" y="518.9" font-family='"Liberation Serif", serif' font-size="15.5" font-weight="bold" fill="#1e1e1e" textLength="7.8" lengthAdjust="spacingAndGlyphs">2</text>
<text x="1122.4" y="520.4" font-family='"Liberation Serif", serif' font-size="13.5" font-weight="bold" fill="#1e1e1e" textLength="15.6" lengthAdjust="spacingAndGlyphs">V</text>
<text x="1138.0" y="514.4" font-family='"Liberation Serif", serif' font-size="12.5" font-weight="bold" fill="#1e1e1e" textLength="11.0" lengthAdjust="spacingAndGlyphs">-1</text>
<text x="1149.6" y="523.4" font-family='"Liberation Serif", serif' font-size="14" font-weight="bold" fill="#1e1e1e" textLength="7.7" lengthAdjust="spacingAndGlyphs">s</text>
<text x="1157.3" y="514.4" font-family='"Liberation Serif", serif' font-size="12.5" font-weight="bold" fill="#1e1e1e" textLength="12.8" lengthAdjust="spacingAndGlyphs">-1</text>
<text x="1186.5" y="619.0" font-family='"Liberation Serif", serif' font-size="16.5" font-weight="bold" fill="#1e1e1e" textLength="43.0" lengthAdjust="spacingAndGlyphs">64 cm</text>
<text x="1230.5" y="617.5" font-family='"Liberation Serif", serif' font-size="15.5" font-weight="bold" fill="#1e1e1e" textLength="7.8" lengthAdjust="spacingAndGlyphs">2</text>
<text x="1239.3" y="619.0" font-family='"Liberation Serif", serif' font-size="13.5" font-weight="bold" fill="#1e1e1e" textLength="15.6" lengthAdjust="spacingAndGlyphs">V</text>
<text x="1254.9" y="613.0" font-family='"Liberation Serif", serif' font-size="12.5" font-weight="bold" fill="#1e1e1e" textLength="11.0" lengthAdjust="spacingAndGlyphs">-1</text>
<text x="1266.5" y="622.0" font-family='"Liberation Serif", serif' font-size="14" font-weight="bold" fill="#1e1e1e" textLength="7.7" lengthAdjust="spacingAndGlyphs">s</text>
<text x="1274.2" y="613.0" font-family='"Liberation Serif", serif' font-size="12.5" font-weight="bold" fill="#1e1e1e" textLength="12.8" lengthAdjust="spacingAndGlyphs">-1</text>
<rect x="94.5" y="837.8" width="298.3" height="47.8" fill="#c8c8c8" stroke="#2a2a2a" stroke-width="1.3"/>
<rect x="94.5" y="786.1" width="103.1" height="51.7" fill="#fbc30a" stroke="#2a2a2a" stroke-width="1.3"/>
<rect x="290.6" y="786.1" width="102.2" height="51.7" fill="#fbc30a" stroke="#2a2a2a" stroke-width="1.3"/>
<rect x="189.9" y="803" width="107.5" height="34.8" fill="#fff" stroke="#2a2a2a" stroke-width="1.3"/>
<path d="M199.6,808.3 L189.9,821.9 M199.6,834.4 L189.9,821.9 M199.6,808.3 L211.4,821.9 M199.6,834.4 L211.4,821.9 M221.1,808.3 L211.4,821.9 M221.1,834.4 L211.4,821.9 M221.1,808.3 L232.9,821.9 M221.1,834.4 L232.9,821.9 M242.6,808.3 L232.9,821.9 M242.6,834.4 L232.9,821.9 M242.6,808.3 L254.4,821.9 M242.6,834.4 L254.4,821.9 M264.1,808.3 L254.4,821.9 M264.1,834.4 L254.4,821.9 M264.1,808.3 L275.9,821.9 M264.1,834.4 L275.9,821.9 M285.6,808.3 L275.9,821.9 M285.6,834.4 L275.9,821.9 M285.6,808.3 L297.4,821.9 M285.6,834.4 L297.4,821.9 " stroke="#4a6090" stroke-width="1.2" fill="none"/>
<rect x="196.8" y="805.9" width="5.6" height="4.8" rx="1.2" fill="#e07b2a"/>
<rect x="196.8" y="832.0" width="5.6" height="4.8" rx="1.2" fill="#e07b2a"/>
<rect x="218.3" y="805.9" width="5.6" height="4.8" rx="1.2" fill="#e07b2a"/>
<rect x="218.3" y="832.0" width="5.6" height="4.8" rx="1.2" fill="#e07b2a"/>
<rect x="239.8" y="805.9" width="5.6" height="4.8" rx="1.2" fill="#e07b2a"/>
<rect x="239.8" y="832.0" width="5.6" height="4.8" rx="1.2" fill="#e07b2a"/>
<rect x="261.3" y="805.9" width="5.6" height="4.8" rx="1.2" fill="#e07b2a"/>
<rect x="261.3" y="832.0" width="5.6" height="4.8" rx="1.2" fill="#e07b2a"/>
<rect x="282.8" y="805.9" width="5.6" height="4.8" rx="1.2" fill="#e07b2a"/>
<rect x="282.8" y="832.0" width="5.6" height="4.8" rx="1.2" fill="#e07b2a"/>
<circle cx="191.7" cy="821.9" r="2.3" fill="#1e4fa0"/>
<circle cx="211.4" cy="821.9" r="2.3" fill="#1e4fa0"/>
<circle cx="232.9" cy="821.9" r="2.3" fill="#1e4fa0"/>
<circle cx="254.4" cy="821.9" r="2.3" fill="#1e4fa0"/>
<circle cx="275.9" cy="821.9" r="2.3" fill="#1e4fa0"/>
<circle cx="295.6" cy="821.9" r="2.3" fill="#1e4fa0"/>
<text x="244.0" y="792.6" font-family='"Liberation Sans", sans-serif' font-size="20" font-weight="bold" fill="#111" text-anchor="middle" textLength="43.5" lengthAdjust="spacingAndGlyphs">TMD</text>
<text x="106.6" y="820.4" font-family='"Liberation Sans", sans-serif' font-size="21" font-weight="bold" fill="#111" textLength="70.0" lengthAdjust="spacingAndGlyphs">Source</text>
<text x="320.0" y="820.4" font-family='"Liberation Sans", sans-serif' font-size="21" font-weight="bold" fill="#111" textLength="52.5" lengthAdjust="spacingAndGlyphs">Drain</text>
<text x="145.0" y="871.0" font-family='"Liberation Sans", sans-serif' font-size="20" font-weight="bold" fill="#111" textLength="36.5" lengthAdjust="spacingAndGlyphs">SiO</text>
<text x="181.5" y="875.5" font-family='"Liberation Sans", sans-serif' font-size="13" font-weight="bold" fill="#111">2</text>
<text x="189.0" y="871.0" font-family='"Liberation Sans", sans-serif' font-size="20" font-weight="bold" fill="#111" textLength="18.0" lengthAdjust="spacingAndGlyphs">/p</text>
<text x="207.0" y="863.0" font-family='"Liberation Sans", sans-serif' font-size="13" font-weight="bold" fill="#111">+</text>
<text x="215.0" y="871.0" font-family='"Liberation Sans", sans-serif' font-size="20" font-weight="bold" fill="#111" textLength="127.0" lengthAdjust="spacingAndGlyphs">-Si substrate</text>
<rect x="456.7" y="843" width="299" height="46.8" fill="#c8c8c8" stroke="#2a2a2a" stroke-width="1.3"/>
<rect x="456.7" y="812.6" width="299" height="23" fill="#8ccb3f" stroke="#2a2a2a" stroke-width="1.3"/>
<rect x="456.7" y="835.5" width="299" height="7" fill="#050505"/>
<rect x="456.7" y="760.8" width="103.1" height="51.8" fill="#fbc30a" stroke="#2a2a2a" stroke-width="1.3"/>
<rect x="653.5" y="760.8" width="102.2" height="51.8" fill="#fbc30a" stroke="#2a2a2a" stroke-width="1.3"/>
<rect x="552.8" y="777.5" width="107.7" height="35.1" fill="#fff" stroke="#2a2a2a" stroke-width="1.3"/>
<path d="M562.5,782.8 L552.8,796.5 M562.5,809.2 L552.8,796.5 M562.5,782.8 L574.3,796.5 M562.5,809.2 L574.3,796.5 M584.0,782.8 L574.3,796.5 M584.0,809.2 L574.3,796.5 M584.0,782.8 L595.9,796.5 M584.0,809.2 L595.9,796.5 M605.6,782.8 L595.9,796.5 M605.6,809.2 L595.9,796.5 M605.6,782.8 L617.4,796.5 M605.6,809.2 L617.4,796.5 M627.1,782.8 L617.4,796.5 M627.1,809.2 L617.4,796.5 M627.1,782.8 L639.0,796.5 M627.1,809.2 L639.0,796.5 M648.7,782.8 L639.0,796.5 M648.7,809.2 L639.0,796.5 M648.7,782.8 L660.5,796.5 M648.7,809.2 L660.5,796.5 " stroke="#4a6090" stroke-width="1.2" fill="none"/>
<rect x="559.7" y="780.4" width="5.6" height="4.8" rx="1.2" fill="#e07b2a"/>
<rect x="559.7" y="806.8" width="5.6" height="4.8" rx="1.2" fill="#e07b2a"/>
<rect x="581.2" y="780.4" width="5.6" height="4.8" rx="1.2" fill="#e07b2a"/>
<rect x="581.2" y="806.8" width="5.6" height="4.8" rx="1.2" fill="#e07b2a"/>
<rect x="602.8" y="780.4" width="5.6" height="4.8" rx="1.2" fill="#e07b2a"/>
<rect x="602.8" y="806.8" width="5.6" height="4.8" rx="1.2" fill="#e07b2a"/>
<rect x="624.3" y="780.4" width="5.6" height="4.8" rx="1.2" fill="#e07b2a"/>
<rect x="624.3" y="806.8" width="5.6" height="4.8" rx="1.2" fill="#e07b2a"/>
<rect x="645.9" y="780.4" width="5.6" height="4.8" rx="1.2" fill="#e07b2a"/>
<rect x="645.9" y="806.8" width="5.6" height="4.8" rx="1.2" fill="#e07b2a"/>
<circle cx="554.6" cy="796.5" r="2.3" fill="#1e4fa0"/>
<circle cx="574.3" cy="796.5" r="2.3" fill="#1e4fa0"/>
<circle cx="595.9" cy="796.5" r="2.3" fill="#1e4fa0"/>
<circle cx="617.4" cy="796.5" r="2.3" fill="#1e4fa0"/>
<circle cx="639.0" cy="796.5" r="2.3" fill="#1e4fa0"/>
<circle cx="658.7" cy="796.5" r="2.3" fill="#1e4fa0"/>
<text x="607.0" y="771.3" font-family='"Liberation Sans", sans-serif' font-size="20" font-weight="bold" fill="#111" text-anchor="middle" textLength="43.5" lengthAdjust="spacingAndGlyphs">TMD</text>
<text x="469.5" y="794.6" font-family='"Liberation Sans", sans-serif' font-size="21" font-weight="bold" fill="#111" textLength="70.0" lengthAdjust="spacingAndGlyphs">Source</text>
<text x="683.0" y="794.6" font-family='"Liberation Sans", sans-serif' font-size="21" font-weight="bold" fill="#111" textLength="52.5" lengthAdjust="spacingAndGlyphs">Drain</text>
<text x="554.6" y="833.5" font-family='"Liberation Sans", sans-serif' font-size="22" font-weight="bold" fill="#e3231f" textLength="104.0" lengthAdjust="spacingAndGlyphs">PS-brush</text>
<text x="508.0" y="876.5" font-family='"Liberation Sans", sans-serif' font-size="20" font-weight="bold" fill="#111" textLength="36.5" lengthAdjust="spacingAndGlyphs">SiO</text>
<text x="544.5" y="881.0" font-family='"Liberation Sans", sans-serif' font-size="13" font-weight="bold" fill="#111">2</text>
<text x="552.0" y="876.5" font-family='"Liberation Sans", sans-serif' font-size="20" font-weight="bold" fill="#111" textLength="18.0" lengthAdjust="spacingAndGlyphs">/p</text>
<text x="570.0" y="868.5" font-family='"Liberation Sans", sans-serif' font-size="13" font-weight="bold" fill="#111">+</text>
<text x="578.0" y="876.5" font-family='"Liberation Sans", sans-serif' font-size="20" font-weight="bold" fill="#111" textLength="127.0" lengthAdjust="spacingAndGlyphs">-Si substrate</text>
<rect x="701.6" y="828" width="48.1" height="21.6" fill="none" stroke="#111" stroke-width="1.4" stroke-dasharray="4 2.5"/>
<path d="M739.8,828 C745,818 760,812 772,815.5 C781,818 788,822 792.5,826" fill="none" stroke="#111" stroke-width="2.1"/>
<path d="M788,816.5 L792.9,826.3 L781.5,824.5" fill="none" stroke="#111" stroke-width="2.1"/>
<text x="792.0" y="848.8" font-family='"Liberation Sans", sans-serif' font-size="18.5" font-weight="bold" fill="#111" textLength="14.5" lengthAdjust="spacingAndGlyphs">O</text>
<text x="806.0" y="853.0" font-family='"Liberation Sans", sans-serif' font-size="12" font-weight="bold" fill="#111">2</text>
<text x="819.0" y="848.8" font-family='"Liberation Sans", sans-serif' font-size="18.5" font-weight="bold" fill="#111" textLength="73.5" lengthAdjust="spacingAndGlyphs">plasma</text>
<text x="795.4" y="874.2" font-family='"Liberation Sans", sans-serif' font-size="18.5" font-weight="bold" fill="#111" textLength="94.6" lengthAdjust="spacingAndGlyphs">treatment</text>
<rect x="116.2" y="975.6" width="702.6" height="272.6" fill="none" stroke="#111" stroke-width="2.2"/>
<line x1="467" y1="975.6" x2="467" y2="1248.2" stroke="#111" stroke-width="2.2"/>
<path d="M116.2,975.6 h4.5 M818.8,975.6 h-4.5 M116.2,1002.9 h3 M818.8,1002.9 h-3 M116.2,1030.1 h4.5 M818.8,1030.1 h-4.5 M116.2,1057.4 h3 M818.8,1057.4 h-3 M116.2,1084.6 h4.5 M818.8,1084.6 h-4.5 M116.2,1111.9 h3 M818.8,1111.9 h-3 M116.2,1139.2 h4.5 M818.8,1139.2 h-4.5 M116.2,1166.4 h3 M818.8,1166.4 h-3 M116.2,1193.7 h4.5 M818.8,1193.7 h-4.5 M116.2,1220.9 h3 M818.8,1220.9 h-3 M116.2,1248.2 h4.5 M818.8,1248.2 h-4.5 M116.0,1248.2 v-4.5 M145.9,1248.2 v-3 M491.5,1248.2 v-3 M175.7,1248.2 v-4.5 M521.1,1248.2 v-4.5 M205.6,1248.2 v-3 M550.8,1248.2 v-3 M235.4,1248.2 v-4.5 M580.4,1248.2 v-4.5 M265.2,1248.2 v-3 M610.1,1248.2 v-3 M295.1,1248.2 v-4.5 M639.7,1248.2 v-4.5 M325.0,1248.2 v-3 M669.4,1248.2 v-3 M354.8,1248.2 v-4.5 M699.0,1248.2 v-4.5 M384.7,1248.2 v-3 M728.7,1248.2 v-3 M414.5,1248.2 v-4.5 M758.3,1248.2 v-4.5 M444.4,1248.2 v-3 M788.0,1248.2 v-3 M474.2,1248.2 v-4.5 M817.6,1248.2 v-4.5 " stroke="#111" stroke-width="1.8" fill="none"/>
<text x="99.5" y="983.1" font-family='"Liberation Sans", sans-serif' font-size="17.5" font-weight="bold" fill="#111" text-anchor="end" textLength="18.5" lengthAdjust="spacingAndGlyphs">10</text>
<text x="101.0" y="973.1" font-family='"Liberation Sans", sans-serif' font-size="10.5" font-weight="bold" fill="#111" textLength="9.0" lengthAdjust="spacingAndGlyphs">-4</text>
<text x="99.5" y="1037.6" font-family='"Liberation Sans", sans-serif' font-size="17.5" font-weight="bold" fill="#111" text-anchor="end" textLength="18.5" lengthAdjust="spacingAndGlyphs">10</text>
<text x="101.0" y="1027.6" font-family='"Liberation Sans", sans-serif' font-size="10.5" font-weight="bold" fill="#111" textLength="9.0" lengthAdjust="spacingAndGlyphs">-6</text>
<text x="99.5" y="1092.1" font-family='"Liberation Sans", sans-serif' font-size="17.5" font-weight="bold" fill="#111" text-anchor="end" textLength="18.5" lengthAdjust="spacingAndGlyphs">10</text>
<text x="101.0" y="1082.1" font-family='"Liberation Sans", sans-serif' font-size="10.5" font-weight="bold" fill="#111" textLength="9.0" lengthAdjust="spacingAndGlyphs">-8</text>
<text x="93.1" y="1146.7" font-family='"Liberation Sans", sans-serif' font-size="17.5" font-weight="bold" fill="#111" text-anchor="end" textLength="18.5" lengthAdjust="spacingAndGlyphs">10</text>
<text x="94.6" y="1136.7" font-family='"Liberation Sans", sans-serif' font-size="10.5" font-weight="bold" fill="#111" textLength="15.4" lengthAdjust="spacingAndGlyphs">-10</text>
<text x="93.1" y="1201.2" font-family='"Liberation Sans", sans-serif' font-size="17.5" font-weight="bold" fill="#111" text-anchor="end" textLength="18.5" lengthAdjust="spacingAndGlyphs">10</text>
<text x="94.6" y="1191.2" font-family='"Liberation Sans", sans-serif' font-size="10.5" font-weight="bold" fill="#111" textLength="15.4" lengthAdjust="spacingAndGlyphs">-12</text>
<text x="93.1" y="1255.7" font-family='"Liberation Sans", sans-serif' font-size="17.5" font-weight="bold" fill="#111" text-anchor="end" textLength="18.5" lengthAdjust="spacingAndGlyphs">10</text>
<text x="94.6" y="1245.7" font-family='"Liberation Sans", sans-serif' font-size="10.5" font-weight="bold" fill="#111" textLength="15.4" lengthAdjust="spacingAndGlyphs">-14</text>
<text x="114.0" y="1268.0" font-family='"Liberation Sans", sans-serif' font-size="17" font-weight="bold" fill="#111" text-anchor="middle" textLength="23.5" lengthAdjust="spacingAndGlyphs">-30</text>
<text x="173.7" y="1268.0" font-family='"Liberation Sans", sans-serif' font-size="17" font-weight="bold" fill="#111" text-anchor="middle" textLength="23.5" lengthAdjust="spacingAndGlyphs">-20</text>
<text x="233.4" y="1268.0" font-family='"Liberation Sans", sans-serif' font-size="17" font-weight="bold" fill="#111" text-anchor="middle" textLength="23.5" lengthAdjust="spacingAndGlyphs">-10</text>
<text x="295.1" y="1268.0" font-family='"Liberation Sans", sans-serif' font-size="17" font-weight="bold" fill="#111" text-anchor="middle" textLength="9.0" lengthAdjust="spacingAndGlyphs">0</text>
<text x="354.8" y="1268.0" font-family='"Liberation Sans", sans-serif' font-size="17" font-weight="bold" fill="#111" text-anchor="middle" textLength="18.0" lengthAdjust="spacingAndGlyphs">10</text>
<text x="414.5" y="1268.0" font-family='"Liberation Sans", sans-serif' font-size="17" font-weight="bold" fill="#111" text-anchor="middle" textLength="18.0" lengthAdjust="spacingAndGlyphs">20</text>
<text x="519.1" y="1268.3" font-family='"Liberation Sans", sans-serif' font-size="17" font-weight="bold" fill="#111" text-anchor="middle" textLength="23.5" lengthAdjust="spacingAndGlyphs">-20</text>
<text x="578.4" y="1268.3" font-family='"Liberation Sans", sans-serif' font-size="17" font-weight="bold" fill="#111" text-anchor="middle" textLength="23.5" lengthAdjust="spacingAndGlyphs">-10</text>
<text x="639.7" y="1268.3" font-family='"Liberation Sans", sans-serif' font-size="17" font-weight="bold" fill="#111" text-anchor="middle" textLength="9.0" lengthAdjust="spacingAndGlyphs">0</text>
<text x="699.0" y="1268.3" font-family='"Liberation Sans", sans-serif' font-size="17" font-weight="bold" fill="#111" text-anchor="middle" textLength="18.0" lengthAdjust="spacingAndGlyphs">10</text>
<text x="758.3" y="1268.3" font-family='"Liberation Sans", sans-serif' font-size="17" font-weight="bold" fill="#111" text-anchor="middle" textLength="18.0" lengthAdjust="spacingAndGlyphs">20</text>
<text x="817.6" y="1268.3" font-family='"Liberation Sans", sans-serif' font-size="17" font-weight="bold" fill="#111" text-anchor="middle" textLength="18.0" lengthAdjust="spacingAndGlyphs">30</text>
<text x="294.0" y="1305.0" font-family='"Liberation Sans", sans-serif' font-size="17.5" font-weight="bold" fill="#111" text-anchor="middle" textLength="143.0" lengthAdjust="spacingAndGlyphs">Gate Voltage (V)</text>
<text x="640.0" y="1305.0" font-family='"Liberation Sans", sans-serif' font-size="17.5" font-weight="bold" fill="#111" text-anchor="middle" textLength="143.0" lengthAdjust="spacingAndGlyphs">Gate Voltage (V)</text>
<text x="262.5" y="962.4" font-family='"Liberation Sans", sans-serif' font-size="19" font-weight="bold" fill="#111" textLength="17.0" lengthAdjust="spacingAndGlyphs">M</text>
<text x="280.0" y="962.4" font-family='"Liberation Sans", sans-serif' font-size="17" font-weight="bold" fill="#111" textLength="27.0" lengthAdjust="spacingAndGlyphs">oS</text>
<text x="307.0" y="968.5" font-family='"Liberation Sans", sans-serif' font-size="12" font-weight="bold" fill="#111">2</text>
<text x="608.0" y="962.4" font-family='"Liberation Sans", sans-serif' font-size="19" font-weight="bold" fill="#111" textLength="17.0" lengthAdjust="spacingAndGlyphs">M</text>
<text x="625.5" y="962.4" font-family='"Liberation Sans", sans-serif' font-size="17" font-weight="bold" fill="#111" textLength="38.0" lengthAdjust="spacingAndGlyphs">oSe</text>
<text x="664.0" y="968.5" font-family='"Liberation Sans", sans-serif' font-size="12" font-weight="bold" fill="#111">2</text>
<g transform="translate(60 1169) rotate(-90)"><text x="0" y="0" font-family='"Liberation Sans", sans-serif' font-size="17" font-weight="bold" fill="#111">I</text><text x="5.5" y="4" font-family='"Liberation Sans", sans-serif' font-size="11" font-weight="bold" fill="#111">D</text><text x="15" y="0" font-family='"Liberation Sans", sans-serif' font-size="17" font-weight="bold" fill="#111" textLength="95" lengthAdjust="spacingAndGlyphs">/ (W/L) (A)</text></g>
<text x="132.8" y="1001.6" font-family='"Liberation Sans", sans-serif' font-size="17" font-weight="bold" fill="#111" textLength="12.0" lengthAdjust="spacingAndGlyphs">V</text>
<text x="145.0" y="1004.6" font-family='"Liberation Sans", sans-serif' font-size="10.5" font-weight="bold" fill="#111" textLength="15.0" lengthAdjust="spacingAndGlyphs">DS</text>
<text x="164.0" y="1001.6" font-family='"Liberation Sans", sans-serif' font-size="17" font-weight="bold" fill="#111" textLength="48.0" lengthAdjust="spacingAndGlyphs">= 1 V</text>
<text x="300.4" y="1085.3" font-family='"Liberation Sans", sans-serif' font-size="19" font-weight="bold" fill="#e3231f" textLength="102.0" lengthAdjust="spacingAndGlyphs">μ = 36.8 cm</text>
<text x="403.0" y="1076.0" font-family='"Liberation Sans", sans-serif' font-size="11" font-weight="bold" fill="#e3231f">2</text>
<text x="410.5" y="1085.3" font-family='"Liberation Sans", sans-serif' font-size="19" font-weight="bold" fill="#e3231f" textLength="33.0" lengthAdjust="spacingAndGlyphs">/V s</text>
<text x="300.4" y="1114.1" font-family='"Liberation Sans", sans-serif' font-size="19" font-weight="bold" fill="#111" textLength="102.0" lengthAdjust="spacingAndGlyphs">μ = 20.8 cm</text>
<text x="403.0" y="1105.0" font-family='"Liberation Sans", sans-serif' font-size="11" font-weight="bold" fill="#111">2</text>
<text x="410.5" y="1114.1" font-family='"Liberation Sans", sans-serif' font-size="19" font-weight="bold" fill="#111" textLength="33.0" lengthAdjust="spacingAndGlyphs">/V s</text>
<text x="520.8" y="1024.6" font-family='"Liberation Sans", sans-serif' font-size="17.5" font-weight="bold" fill="#e3231f" textLength="94.0" lengthAdjust="spacingAndGlyphs">μ = 2.9 cm</text>
<text x="615.5" y="1016.0" font-family='"Liberation Sans", sans-serif' font-size="10" font-weight="bold" fill="#e3231f">2</text>
<text x="621.5" y="1024.6" font-family='"Liberation Sans", sans-serif' font-size="17.5" font-weight="bold" fill="#e3231f" textLength="31.0" lengthAdjust="spacingAndGlyphs">/V s</text>
<text x="520.8" y="1054.7" font-family='"Liberation Sans", sans-serif' font-size="17.5" font-weight="bold" fill="#111" textLength="94.0" lengthAdjust="spacingAndGlyphs">μ = 0.8 cm</text>
<text x="615.5" y="1046.0" font-family='"Liberation Sans", sans-serif' font-size="10" font-weight="bold" fill="#111">2</text>
<text x="621.5" y="1054.7" font-family='"Liberation Sans", sans-serif' font-size="17.5" font-weight="bold" fill="#111" textLength="31.0" lengthAdjust="spacingAndGlyphs">/V s</text>
<line x1="343.7" y1="1203.9" x2="382" y2="1203.9" stroke="#e3231f" stroke-width="1.6"/>
<line x1="343.7" y1="1223.8" x2="382" y2="1223.8" stroke="#111" stroke-width="1.6"/>
<text x="388.6" y="1209.5" font-family='"Liberation Sans", sans-serif' font-size="17.5" font-weight="bold" fill="#e3231f" textLength="50.0" lengthAdjust="spacingAndGlyphs">w/ PS</text>
<text x="388.6" y="1229.5" font-family='"Liberation Sans", sans-serif' font-size="17.5" font-weight="bold" fill="#111" textLength="62.0" lengthAdjust="spacingAndGlyphs">w/o PS</text>
<text x="185.0" y="1228.0" font-family='"Liberation Sans", sans-serif' font-size="19" font-weight="normal" fill="#c2c2c2">I</text>
<text x="190.5" y="1231.0" font-family='"Liberation Sans", sans-serif' font-size="12.5" font-weight="normal" fill="#c2c2c2">G</text>
<path d="M127.7,1151.3 L130.3,1152.9 L132.8,1152.9 L135.4,1152.0 L137.9,1152.6 L140.5,1152.7 L143.0,1153.3 L145.6,1153.7 L148.1,1152.5 L150.7,1152.5 L153.2,1154.3 L155.8,1153.7 L158.3,1154.5 L160.9,1153.1 L163.4,1154.2 L166.0,1154.9 L168.5,1154.1 L171.1,1155.7 L173.6,1155.8 L176.2,1154.2 L178.7,1154.3 L181.3,1155.5 L183.8,1156.5 L186.4,1155.5 L188.9,1155.4 L191.5,1155.9 L194.0,1155.2 L196.6,1155.7 L199.1,1156.2 L201.7,1156.4 L204.2,1156.0 L206.8,1156.1 L209.3,1156.1 L211.9,1156.7 L214.4,1156.4 L217.0,1156.0 L219.5,1157.7 L222.1,1157.2 L224.6,1157.5 L227.2,1156.7 L229.7,1158.4 L232.2,1158.2 L234.8,1156.8 L237.3,1157.3 L239.9,1158.1 L242.4,1158.2 L245.0,1158.7 L247.5,1157.8 L250.1,1158.7 L252.6,1158.5 L255.2,1157.8 L257.7,1158.5 L260.3,1159.1 L262.8,1159.2 L265.4,1158.6 L267.9,1158.8 L270.5,1157.8 L273.0,1158.3 L275.5,1159.4 L278.1,1158.5 L280.6,1158.0 L283.2,1158.7 L285.7,1159.0 L288.3,1158.9 L290.8,1158.2 L293.4,1158.3 L295.9,1158.4 L298.5,1158.9 L301.0,1158.4 L303.6,1158.1 L306.1,1158.2 L308.7,1157.2 L311.2,1157.2 L313.8,1158.5 L316.3,1159.0 L318.8,1158.2 L321.4,1157.8 L323.9,1157.3 L326.5,1157.9 L329.0,1158.8 L331.6,1158.3 L334.1,1157.8 L336.7,1158.4 L339.2,1157.1 L341.8,1157.6 L344.3,1158.5 L346.9,1157.7 L349.4,1157.4 L352.0,1157.0 L354.5,1157.5 L357.0,1158.1 L359.5,1156.0 L362.1,1157.4 L364.6,1157.3 L367.1,1157.2 L369.6,1156.7 L372.2,1156.7 L374.7,1155.9 L377.2,1155.8 L379.7,1155.3 L382.3,1154.4 L384.8,1155.8 L387.3,1155.1 L389.8,1154.1 L392.3,1154.5 L394.9,1154.3 L397.4,1153.9 L399.9,1153.6 L402.4,1153.8 L405.0,1153.8 L407.5,1153.6 L410.0,1153.1 L412.5,1152.1 L415.0,1152.3 L417.6,1152.0 L420.1,1152.6 L422.6,1153.0 L425.1,1152.6 L427.7,1152.4 L430.2,1152.3 L432.7,1151.0 L435.2,1152.0 L437.8,1151.4 L440.3,1150.1 L442.8,1150.7" stroke="#c4c4c4" stroke-width="1.6" fill="none"/>
<path d="M127.7,1152.9 L131.2,1154.5 L134.7,1154.4 L138.3,1156.1 L141.8,1159.2 L145.3,1160.7 L148.7,1161.2 L152.1,1161.2 L155.5,1162.4 L158.9,1163.1 L162.2,1162.5 L165.4,1161.1 L168.7,1161.1 L171.9,1160.5 L175.2,1160.6 L180.6,1169.3 L184.7,1188.2 L188.8,1203.7 L194.2,1192.7 L199.6,1203.1 L203.7,1215.0 L206.4,1183.7 L211.9,1195.4 L215.3,1185.6 L218.7,1176.3 L222.1,1175.2 L225.5,1172.5 L228.9,1170.5 L232.3,1167.8 L235.3,1166.4 L238.3,1166.2 L241.3,1164.9 L244.3,1164.7 L247.4,1164.8 L250.4,1163.2 L253.4,1161.4 L256.4,1161.9 L259.4,1160.8 L262.5,1160.7 L265.7,1161.0 L268.8,1160.7 L272.0,1160.8 L275.1,1159.9 L278.2,1161.2 L281.4,1161.1 L284.5,1159.5 L287.6,1160.7 L290.8,1160.6 L293.9,1160.1 L297.1,1160.3 L300.2,1160.2 L303.3,1161.5 L306.5,1161.0 L309.6,1162.1 L312.7,1161.6 L315.9,1163.0 L319.0,1163.5 L322.1,1163.0 L325.2,1163.7 L328.4,1164.8 L331.5,1164.8 L334.6,1164.7 L337.8,1164.6 L340.9,1165.2 L344.3,1168.0 L347.7,1169.0 L351.1,1172.5 L354.5,1173.2 L359.9,1200.4 L363.3,1191.7 L366.7,1185.5 L370.8,1200.0 L376.2,1184.6 L380.3,1198.2 L383.7,1184.9 L387.1,1171.2 L390.4,1170.1 L393.6,1169.3 L396.9,1169.4 L400.1,1169.7 L403.4,1168.5 L406.7,1165.8 L409.9,1165.7 L413.2,1163.9 L416.4,1162.6 L419.7,1159.6 L423.0,1159.3 L426.3,1156.6 L429.6,1156.4 L432.9,1154.3 L436.2,1152.9 L439.5,1152.8 L442.8,1150.7" stroke="#c4c4c4" stroke-width="1.6" fill="none"/>
<path d="M116.8,1184.6 C118.4,1180.5 122.9,1168.8 126.3,1160.2 C129.7,1151.6 133.1,1141.6 137.2,1133.0 C141.3,1124.4 146.2,1115.3 150.7,1108.5 C155.2,1101.7 157.5,1098.1 164.3,1092.2 C171.1,1086.3 182.4,1079.1 191.5,1073.2 C200.6,1067.3 207.4,1062.1 218.7,1056.9 C230.0,1051.7 245.8,1046.5 259.4,1042.0 C273.0,1037.5 284.3,1033.4 300.2,1029.8 C316.1,1026.2 336.4,1022.8 354.5,1020.3 C372.6,1017.8 390.1,1016.0 408.8,1014.8 C427.6,1013.6 457.3,1013.2 467.0,1012.9" stroke="#111" stroke-width="2.1" fill="none"/>
<path d="M116.8,1192.8 C119.3,1191.4 126.9,1188.2 131.7,1184.6 C136.4,1181.0 140.8,1176.9 145.3,1171.0 C149.8,1165.1 154.4,1157.5 158.9,1149.3 C163.4,1141.1 167.1,1130.7 172.5,1122.1 C177.9,1113.5 184.7,1104.5 191.5,1097.7 C198.3,1090.9 204.1,1087.8 213.2,1081.4 C222.2,1075.1 233.6,1065.9 245.8,1059.6 C258.0,1053.3 270.8,1048.4 286.6,1043.4 C302.5,1038.4 322.8,1033.7 340.9,1029.8 C359.0,1025.9 379.3,1022.8 395.2,1020.3 C411.1,1017.8 424.0,1016.0 436.0,1014.8 C448.0,1013.6 461.8,1013.2 467.0,1012.9" stroke="#111" stroke-width="2.1" fill="none"/>
<path d="M139.9,1203.6 C141.2,1196.4 144.8,1174.2 148.0,1160.2 C151.2,1146.2 155.3,1132.1 158.9,1119.4 C162.5,1106.7 165.7,1094.5 169.8,1084.1 C173.9,1073.7 177.5,1064.6 183.4,1056.9 C189.3,1049.2 196.9,1043.1 205.1,1037.9 C213.2,1032.7 221.0,1029.3 232.3,1025.7 C243.6,1022.1 257.2,1019.2 273.0,1016.2 C288.8,1013.2 309.2,1010.0 327.3,1008.0 C345.4,1006.0 362.4,1005.3 381.7,1004.0 C400.9,1002.7 432.6,1001.0 442.8,1000.4" stroke="#e3231f" stroke-width="1.9" fill="none"/>
<path d="M142.6,1203.6 C144.1,1196.8 148.3,1176.8 151.5,1163.0 C154.7,1149.2 158.3,1133.9 161.8,1121.0 C165.3,1108.1 168.5,1095.9 172.6,1085.5 C176.7,1075.1 180.6,1066.1 186.5,1058.4 C192.4,1050.7 199.9,1044.6 208.0,1039.3 C216.1,1034.0 224.2,1030.2 235.0,1026.4 C245.8,1022.7 266.7,1018.4 273.0,1016.8" stroke="#e3231f" stroke-width="1.9" fill="none"/>
<path d="M126.3,1205 L129,1201 L131.5,1207.5 L134,1201.5 L136.5,1207.5 L139,1203 L142.6,1203.6" stroke="#e3231f" stroke-width="1.6" fill="none"/>
<path d="M465.0,1134.6 L468.3,1136.6 L471.7,1136.5 L475.0,1138.2 L478.4,1139.0 L481.7,1137.2 L485.1,1137.6 L488.4,1141.9 L491.8,1140.0 L495.1,1139.6 L498.5,1142.6 L501.8,1140.0 L505.2,1141.2 L508.5,1139.3 L511.9,1139.7 L515.2,1137.2 L518.6,1139.0 L521.7,1140.4 L524.9,1139.2 L528.0,1140.4 L531.2,1140.4 L534.4,1138.1 L537.5,1141.5 L540.7,1141.0 L543.8,1140.1 L547.0,1139.2 L550.1,1143.2 L553.3,1141.8 L556.4,1143.2 L559.6,1144.2 L562.7,1143.8 L565.9,1145.0 L569.0,1143.0 L572.2,1145.1 L575.3,1143.4 L578.5,1145.4 L581.6,1145.0 L584.8,1141.4 L587.9,1141.4 L591.1,1141.6 L594.2,1144.7 L597.4,1142.2 L600.6,1142.9 L603.7,1141.3 L606.9,1142.1 L610.0,1141.4 L613.2,1141.1 L616.3,1142.0 L619.5,1141.8 L622.6,1143.0 L625.8,1141.9 L628.9,1142.7 L632.1,1142.0 L635.2,1142.3 L638.4,1140.6 L641.5,1138.0 L644.7,1140.8 L647.8,1140.9 L651.0,1140.4 L654.1,1138.6 L657.3,1138.9 L660.4,1136.4 L663.6,1138.8 L666.8,1137.3 L669.9,1135.7 L673.1,1134.5 L676.2,1137.6 L679.4,1137.9 L682.5,1133.9 L685.7,1137.1 L688.8,1135.4 L692.0,1134.2 L695.1,1134.8 L698.3,1136.9 L701.4,1137.4 L704.6,1133.7 L707.7,1136.2 L710.9,1133.7 L714.0,1136.7 L717.2,1135.0 L720.3,1137.4 L723.5,1137.9 L726.6,1135.8 L729.8,1137.9 L733.0,1134.9 L736.0,1133.7 L739.0,1135.9 L742.0,1133.3 L745.0,1133.9 L748.0,1134.6 L751.0,1135.4 L754.0,1133.3 L757.0,1132.6 L760.0,1136.1 L763.0,1133.5 L766.0,1136.2 L769.0,1135.8 L772.0,1133.4 L775.0,1133.6 L778.0,1133.8 L781.0,1134.2 L784.0,1133.8 L787.0,1133.5 L790.0,1133.6 L793.0,1134.9 L796.0,1132.9 L799.0,1132.4 L802.0,1133.5 L805.0,1131.3 L808.0,1131.4 L811.0,1134.2 L814.0,1132.1 L817.0,1132.1 L820.0,1131.7" stroke="#c4c4c4" stroke-width="1.6" fill="none"/>
<path d="M465.0,1138.4 L473.0,1146.5 L481.1,1141.1 L489.1,1151.8 L497.2,1143.8 L505.2,1157.2 L513.2,1146.5 L519.9,1162.5 L525.3,1221.5 L530.6,1165.2 L537.3,1135.7 L540.0,1181.3 L545.4,1157.2 L553.4,1175.9 L558.8,1151.8 L566.8,1167.9 L572.2,1173.3 L577.5,1146.5 L585.6,1151.8 L593.6,1149.1 L604.3,1146.5 L615.1,1143.8 L623.1,1162.5 L628.5,1138.4 L633.8,1146.5 L639.2,1135.7 L647.2,1157.2 L655.2,1146.5 L663.3,1167.9 L671.3,1151.8 L679.4,1143.8 L687.4,1151.8 L692.8,1173.3 L700.8,1141.1 L708.8,1162.5 L716.9,1146.5 L724.9,1157.2 L733.0,1173.3 L743.7,1151.8 L754.4,1157.2 L761.1,1221.5 L767.8,1159.9 L775.8,1151.8 L783.9,1143.8 L793.2,1170.6 L799.9,1138.4 L810.7,1135.7 L820.0,1134.4" stroke="#c4c4c4" stroke-width="1.6" fill="none"/>
<path d="M465.0,1157.1 L467.7,1158.6 L470.4,1160.3 L473.0,1161.2 L475.7,1162.5 L478.4,1164.0 L481.1,1164.9 L483.8,1166.6 L486.4,1168.0 L489.1,1169.0 L491.8,1169.2 L494.5,1170.2 L497.2,1170.8 L499.8,1172.4 L502.5,1173.1 L505.2,1173.3 L507.9,1175.1 L510.6,1173.7 L513.2,1172.1 L515.9,1170.7 L518.6,1168.9 L521.3,1167.4 L523.9,1163.1 L526.6,1157.8 L529.3,1153.1 L532.0,1148.3 L534.7,1143.3 L537.3,1139.1 L540.0,1134.3 L542.7,1130.1 L545.4,1125.0 L548.1,1122.2 L550.7,1119.1 L553.4,1116.3 L556.1,1113.2 L558.8,1110.1 L561.5,1109.4 L564.1,1108.1 L566.8,1106.6 L569.5,1105.1 L572.2,1103.4 L574.9,1102.0 L577.5,1100.7 L580.2,1099.1 L582.9,1099.1 L585.6,1097.9 L588.3,1097.6 L590.9,1096.3 L593.6,1096.1 L596.3,1095.2 L599.0,1093.6 L601.7,1093.0 L604.3,1092.9 L607.0,1091.7 L609.7,1091.5 L612.4,1090.1 L614.9,1089.3 L617.4,1089.5 L619.9,1089.2 L622.4,1088.3 L624.9,1087.7 L627.4,1087.5 L630.0,1087.7 L632.5,1087.1 L635.0,1086.0 L637.5,1085.8 L640.0,1085.2 L642.5,1084.7 L645.0,1085.0 L647.5,1084.0 L650.1,1084.0 L652.6,1083.4 L655.1,1082.9 L657.7,1083.1 L660.2,1082.2 L662.8,1082.4 L665.3,1081.5 L667.9,1081.5 L670.4,1081.0 L673.0,1080.7 L675.5,1081.1 L678.1,1080.6 L680.6,1079.8 L683.2,1080.1 L685.7,1079.1 L688.3,1078.9 L690.8,1079.1 L693.4,1078.5 L695.9,1077.7 L698.5,1078.2 L701.1,1077.1 L703.6,1076.9 L706.2,1077.1 L708.7,1076.4 L711.3,1076.1 L713.8,1075.6 L716.4,1075.4 L718.9,1075.6 L721.5,1075.0 L724.0,1075.1 L726.6,1074.6 L729.1,1074.5 L731.7,1074.7 L734.2,1074.0 L736.8,1073.8 L739.3,1073.8 L741.9,1072.9 L744.4,1072.6 L747.0,1073.1 L749.5,1072.8 L752.1,1072.0 L754.6,1071.6 L757.2,1071.9 L759.7,1071.9 L762.3,1071.0 L764.9,1071.6 L767.4,1071.5 L770.0,1071.1 L772.5,1070.7 L775.1,1070.3 L777.7,1070.1 L780.2,1070.9 L782.8,1070.1 L785.3,1070.4 L787.9,1069.9 L790.4,1070.3 L793.0,1069.9 L795.6,1069.5 L798.1,1069.3 L800.7,1069.7 L803.2,1068.9 L805.8,1069.0 L808.3,1069.2 L810.9,1069.4 L813.5,1069.0 L816.0,1068.8" stroke="#111" stroke-width="2.1" fill="none"/>
<path d="M816.0,1068.7 L813.3,1070.3 L810.7,1071.6 L808.0,1072.4 L805.3,1073.6 L802.6,1075.3 L799.9,1076.6 L797.3,1081.6 L794.6,1085.9 L791.9,1090.3 L789.2,1099.2 L786.5,1108.2 L783.9,1116.6 L781.2,1125.9 L778.5,1134.5 L775.8,1144.2 L773.1,1152.7 L770.5,1162.9 L767.8,1175.5 L765.1,1189.5 L762.4,1185.8 L759.7,1182.5 L757.1,1183.4 L754.4,1183.0 L751.7,1183.5 L749.0,1184.8 L746.4,1184.9 L743.7,1184.9 L741.0,1188.8 L738.3,1191.7 L735.6,1193.8 L733.0,1197.0 L730.3,1199.7 L727.6,1207.0 L724.9,1214.5 L722.2,1221.2 L719.6,1216.3 L716.9,1210.3 L714.2,1206.4 L711.5,1203.0 L708.8,1199.4 L706.2,1196.2 L703.5,1193.2 L700.8,1189.8 L698.1,1186.5 L695.4,1185.7 L692.8,1186.0 L690.1,1185.8 L687.4,1185.3 L684.7,1184.6 L682.0,1183.8 L679.4,1183.4 L676.7,1183.3 L674.0,1182.8 L671.3,1181.8 L668.6,1181.5 L666.0,1181.2 L663.4,1181.1 L660.9,1181.1 L658.4,1180.5 L655.8,1179.8 L653.3,1180.4 L650.8,1179.7 L648.2,1179.5 L645.7,1179.0 L643.2,1178.9 L640.6,1178.7 L638.1,1178.8 L635.5,1177.9 L633.0,1178.1 L630.5,1177.4 L627.9,1177.7 L625.4,1176.8 L622.9,1176.8 L620.3,1176.6 L617.8,1176.6 L615.3,1175.8 L612.7,1175.9 L610.2,1175.4 L607.7,1175.2 L605.1,1175.2 L602.6,1175.4 L600.1,1174.7 L597.5,1174.9 L595.0,1173.9 L592.5,1174.4 L589.9,1173.6 L587.4,1173.1 L584.9,1173.4 L582.3,1173.3 L579.8,1172.2 L577.3,1172.2 L574.7,1172.4 L572.2,1171.8 L569.7,1171.5 L567.2,1171.1 L564.6,1171.0 L562.1,1171.4 L559.6,1171.6 L557.1,1171.4 L554.6,1170.7 L552.1,1170.1 L549.6,1170.2 L547.1,1170.5 L544.5,1170.4 L542.0,1170.0 L539.5,1169.5 L537.0,1169.6 L534.5,1169.4 L532.0,1169.4 L529.5,1168.8 L527.0,1169.4 L524.5,1169.1 L521.9,1168.2 L519.4,1168.2 L516.9,1168.6 L514.4,1167.8 L511.9,1168.3 L509.4,1167.7 L506.9,1167.8 L504.4,1167.6 L501.8,1166.9 L499.3,1166.8 L496.8,1166.6 L494.3,1166.9 L491.8,1166.8 L489.1,1166.1 L486.4,1166.7 L483.8,1166.1 L481.1,1165.8 L478.4,1165.8 L475.7,1166.2 L473.0,1165.7 L470.4,1165.6 L467.7,1165.8 L465.0,1165.2" stroke="#111" stroke-width="2.1" fill="none"/>
<path d="M465.0,1167.7 L467.7,1169.4 L470.4,1170.7 L473.0,1172.2 L475.7,1173.0 L478.4,1174.4 L481.1,1175.7 L483.8,1177.1 L486.4,1178.8 L489.1,1179.7 L491.8,1181.3 L494.5,1184.1 L497.2,1187.3 L499.8,1190.4 L502.5,1193.8 L505.2,1196.7 L507.9,1199.3 L510.6,1202.6 L513.2,1207.1 L515.9,1212.4 L518.6,1217.0 L521.3,1221.7 L523.9,1222.4 L526.6,1223.0 L529.3,1217.4 L532.0,1211.5 L534.7,1205.2 L537.3,1203.7 L540.0,1201.4 L542.7,1199.6 L545.4,1197.4 L548.1,1197.5 L550.7,1197.6 L553.4,1197.9 L556.1,1198.0 L558.8,1198.0 L561.5,1198.8 L564.1,1199.0 L566.8,1189.1 L569.5,1178.8 L572.2,1167.0 L574.9,1155.6 L577.5,1143.5 L580.2,1134.1 L582.9,1124.1 L585.6,1114.0 L588.3,1110.9 L590.9,1107.9 L593.6,1104.5 L596.3,1101.4 L599.0,1098.3 L601.7,1096.8 L604.3,1095.3 L607.0,1094.2 L609.7,1092.7 L612.4,1091.3 L615.1,1089.9 L617.7,1088.7 L620.4,1087.2 L623.1,1086.3 L625.8,1085.2 L628.3,1084.1 L630.9,1083.7 L633.4,1083.3 L636.0,1081.9 L638.5,1081.4 L641.1,1081.3 L643.6,1080.6 L646.2,1079.8 L648.7,1078.8 L651.3,1078.4 L653.8,1078.1 L656.4,1077.5 L658.9,1076.8 L661.5,1075.7 L664.1,1075.5 L666.6,1074.5 L669.2,1074.2 L671.7,1073.1 L674.3,1073.1 L676.8,1072.2 L679.4,1071.6 L681.9,1070.7 L684.5,1070.5 L687.0,1070.0 L689.6,1069.5 L692.1,1068.8 L694.7,1068.6 L697.2,1067.7 L699.8,1067.2 L702.3,1066.6 L704.9,1066.5 L707.4,1065.5 L710.0,1065.1 L712.5,1064.5 L715.1,1064.4 L717.6,1063.8 L720.2,1063.3 L722.7,1062.4 L725.3,1062.2 L727.8,1061.6 L730.4,1060.9 L733.0,1060.3 L735.5,1060.7 L738.0,1059.6 L740.5,1059.3 L743.0,1058.9 L745.5,1058.8 L748.1,1057.9 L750.6,1057.9 L753.1,1057.4 L755.6,1057.3 L758.1,1056.3 L760.6,1056.1 L763.2,1055.8 L765.7,1055.8 L768.2,1055.0 L770.7,1054.6 L773.2,1054.4 L775.7,1053.7 L778.3,1053.0 L780.8,1053.0 L783.3,1052.9 L785.8,1052.4 L788.3,1051.6 L790.8,1051.5 L793.4,1051.3 L795.9,1050.4 L798.4,1050.2 L800.9,1049.6 L803.4,1049.1 L805.9,1048.8 L808.5,1048.3 L811.0,1048.0 L813.5,1047.4 L816.0,1047.3" stroke="#e3231f" stroke-width="1.9" fill="none"/>
<path d="M816.0,1049.7 L813.5,1050.6 L810.9,1051.1 L808.3,1051.8 L805.8,1051.8 L803.2,1052.2 L800.7,1053.1 L798.1,1053.5 L795.6,1053.7 L793.0,1054.5 L790.4,1054.8 L787.9,1055.6 L785.3,1055.5 L782.8,1056.1 L780.2,1057.1 L777.7,1057.2 L775.1,1057.6 L772.5,1058.5 L770.0,1058.9 L767.4,1059.0 L764.9,1059.8 L762.3,1060.4 L759.7,1060.5 L757.2,1061.6 L754.6,1061.9 L752.1,1062.9 L749.5,1063.4 L747.0,1064.3 L744.4,1065.7 L741.9,1066.0 L739.3,1067.2 L736.8,1067.6 L734.2,1068.5 L731.7,1069.4 L729.1,1070.1 L726.6,1070.4 L724.0,1071.5 L721.5,1072.3 L718.9,1072.7 L716.4,1073.4 L713.8,1074.8 L711.3,1075.3 L708.7,1075.8 L706.2,1076.8 L703.5,1079.2 L700.8,1082.4 L698.1,1084.8 L695.4,1087.2 L692.8,1090.4 L690.1,1096.8 L687.4,1104.0 L684.7,1110.7 L682.0,1118.3 L679.4,1124.7 L676.7,1137.6 L674.0,1149.7 L671.3,1162.5 L668.6,1169.4 L666.0,1176.0 L663.3,1182.6 L660.8,1182.4 L658.2,1182.2 L655.7,1182.2 L653.2,1181.6 L650.6,1181.7 L648.1,1181.3 L645.6,1181.6 L643.0,1181.5 L640.5,1180.6 L638.0,1180.5 L635.4,1180.8 L632.9,1180.5 L630.4,1179.8 L627.9,1180.2 L625.3,1180.2 L622.8,1179.6 L620.3,1179.4 L617.7,1179.3 L615.2,1179.5 L612.7,1178.7 L610.1,1178.6 L607.6,1178.3 L605.1,1178.5 L602.5,1178.1 L600.0,1177.8 L597.5,1177.7 L595.0,1177.2 L592.4,1177.3 L589.9,1177.6 L587.4,1177.1 L584.8,1176.7 L582.3,1177.0 L579.8,1176.4 L577.2,1176.1 L574.7,1175.8 L572.2,1175.7 L569.6,1175.6 L567.1,1175.5 L564.5,1175.9 L562.0,1175.2 L559.4,1175.1 L556.9,1175.3 L554.3,1175.4 L551.8,1174.8 L549.2,1175.0 L546.7,1174.6 L544.1,1174.6 L541.6,1174.5 L539.0,1174.6 L536.5,1174.4 L533.9,1174.0 L531.4,1174.2 L528.8,1173.7 L526.2,1173.5 L523.7,1173.9 L521.1,1173.4 L518.6,1173.5 L516.0,1173.0 L513.5,1173.3 L510.9,1173.0 L508.4,1172.5 L505.8,1173.0 L503.3,1172.5 L500.7,1172.2 L498.2,1172.0 L495.6,1171.8 L493.1,1171.7 L490.5,1172.0 L488.0,1171.4 L485.4,1171.4 L482.9,1171.4 L480.3,1171.4 L477.8,1171.1 L475.2,1171.3 L472.7,1170.8 L470.1,1170.7 L467.6,1170.6 L465.0,1170.6" stroke="#e3231f" stroke-width="1.9" fill="none"/>
<rect x="1004.3" y="743.6" width="282.2" height="495.3" fill="none" stroke="#111" stroke-width="2.6"/>
<path d="M1004.3,1238.5 h-6 M1004.3,1203.8 h-3.5 M1004.3,1183.5 h-3.5 M1004.3,1169.1 h-3.5 M1004.3,1158.0 h-3.5 M1004.3,1148.9 h-3.5 M1004.3,1141.1 h-3.5 M1004.3,1134.5 h-3.5 M1004.3,1128.6 h-3.5 M1004.3,1123.3 h-6 M1004.3,1088.6 h-3.5 M1004.3,1068.3 h-3.5 M1004.3,1053.9 h-3.5 M1004.3,1042.8 h-3.5 M1004.3,1033.7 h-3.5 M1004.3,1025.9 h-3.5 M1004.3,1019.3 h-3.5 M1004.3,1013.4 h-3.5 M1004.3,1008.1 h-6 M1004.3,973.4 h-3.5 M1004.3,953.1 h-3.5 M1004.3,938.7 h-3.5 M1004.3,927.6 h-3.5 M1004.3,918.5 h-3.5 M1004.3,910.7 h-3.5 M1004.3,904.1 h-3.5 M1004.3,898.2 h-3.5 M1004.3,892.9 h-6 M1004.3,858.2 h-3.5 M1004.3,837.9 h-3.5 M1004.3,823.5 h-3.5 M1004.3,812.4 h-3.5 M1004.3,803.3 h-3.5 M1004.3,795.5 h-3.5 M1004.3,788.9 h-3.5 M1004.3,783.0 h-3.5 M1004.3,777.7 h-6 M1004.2,1238.9 v6 M1098.3,1238.9 v6 M1192.4,1238.9 v6 M1286.5,1238.9 v6 " stroke="#111" stroke-width="2" fill="none"/>
<text x="977.5" y="777.7" font-family='"Liberation Sans", sans-serif' font-size="20" font-weight="normal" fill="#111" text-anchor="end" textLength="21.5" lengthAdjust="spacingAndGlyphs" stroke="#111" stroke-width="0.45">10</text>
<text x="982.0" y="764.2" font-family='"Liberation Sans", sans-serif' font-size="12.5" font-weight="normal" fill="#111" textLength="9.5" lengthAdjust="spacingAndGlyphs" stroke="#111" stroke-width="0.3">-7</text>
<text x="977.5" y="892.9" font-family='"Liberation Sans", sans-serif' font-size="20" font-weight="normal" fill="#111" text-anchor="end" textLength="21.5" lengthAdjust="spacingAndGlyphs" stroke="#111" stroke-width="0.45">10</text>
<text x="982.0" y="879.4" font-family='"Liberation Sans", sans-serif' font-size="12.5" font-weight="normal" fill="#111" textLength="9.5" lengthAdjust="spacingAndGlyphs" stroke="#111" stroke-width="0.3">-8</text>
<text x="977.5" y="1008.1" font-family='"Liberation Sans", sans-serif' font-size="20" font-weight="normal" fill="#111" text-anchor="end" textLength="21.5" lengthAdjust="spacingAndGlyphs" stroke="#111" stroke-width="0.45">10</text>
<text x="982.0" y="994.6" font-family='"Liberation Sans", sans-serif' font-size="12.5" font-weight="normal" fill="#111" textLength="9.5" lengthAdjust="spacingAndGlyphs" stroke="#111" stroke-width="0.3">-9</text>
<text x="977.5" y="1123.3" font-family='"Liberation Sans", sans-serif' font-size="20" font-weight="normal" fill="#111" text-anchor="end" textLength="21.5" lengthAdjust="spacingAndGlyphs" stroke="#111" stroke-width="0.45">10</text>
<text x="982.0" y="1109.8" font-family='"Liberation Sans", sans-serif' font-size="12.5" font-weight="normal" fill="#111" textLength="16.0" lengthAdjust="spacingAndGlyphs" stroke="#111" stroke-width="0.3">-10</text>
<text x="977.5" y="1238.5" font-family='"Liberation Sans", sans-serif' font-size="20" font-weight="normal" fill="#111" text-anchor="end" textLength="21.5" lengthAdjust="spacingAndGlyphs" stroke="#111" stroke-width="0.45">10</text>
<text x="982.0" y="1225.0" font-family='"Liberation Sans", sans-serif' font-size="12.5" font-weight="normal" fill="#111" textLength="16.0" lengthAdjust="spacingAndGlyphs" stroke="#111" stroke-width="0.3">-11</text>
<text x="1003.2" y="1267.8" font-family='"Liberation Sans", sans-serif' font-size="23.5" font-weight="normal" fill="#111" text-anchor="middle" textLength="39.0" lengthAdjust="spacingAndGlyphs" stroke="#111" stroke-width="1.1">-1.0</text>
<text x="1097.3" y="1267.8" font-family='"Liberation Sans", sans-serif' font-size="23.5" font-weight="normal" fill="#111" text-anchor="middle" textLength="39.0" lengthAdjust="spacingAndGlyphs" stroke="#111" stroke-width="1.1">-0.5</text>
<text x="1192.9" y="1267.8" font-family='"Liberation Sans", sans-serif' font-size="23.5" font-weight="normal" fill="#111" text-anchor="middle" textLength="30.0" lengthAdjust="spacingAndGlyphs" stroke="#111" stroke-width="1.1">0.0</text>
<text x="1287.0" y="1267.8" font-family='"Liberation Sans", sans-serif' font-size="23.5" font-weight="normal" fill="#111" text-anchor="middle" textLength="30.0" lengthAdjust="spacingAndGlyphs" stroke="#111" stroke-width="1.1">0.5</text>
<text x="1146.5" y="1304.5" font-family='"Liberation Serif", serif' font-size="22" font-weight="bold" fill="#222" text-anchor="middle" textLength="165.0" lengthAdjust="spacingAndGlyphs">Gate Voltage (V)</text>
<text x="935.5" y="995.5" font-family='"Liberation Serif", serif' font-size="22" font-weight="bold" fill="#222" text-anchor="middle" textLength="184.0" lengthAdjust="spacingAndGlyphs" transform="rotate(-90 935.5 995.5)">Drain Current (A)</text>
<rect x="1143" y="755.3" width="142" height="51" fill="#111"/>
<rect x="1141.2" y="752.9" width="142.3" height="50.7" fill="#fff" stroke="#777" stroke-width="1"/>
<line x1="1147.3" y1="763.5" x2="1182" y2="763.5" stroke="#111" stroke-width="2.6"/>
<line x1="1147.3" y1="787" x2="1182" y2="787" stroke="#3a4ea8" stroke-width="2.6"/>
<text x="1185.1" y="768.8" font-family='"Liberation Sans", sans-serif' font-size="14" font-weight="bold" fill="#2a2a2a" textLength="10.0" lengthAdjust="spacingAndGlyphs">V</text>
<text x="1195.0" y="773.8" font-family='"Liberation Sans", sans-serif' font-size="7" font-weight="bold" fill="#2a2a2a">D</text>
<text x="1204.0" y="768.8" font-family='"Liberation Sans", sans-serif' font-size="15" font-weight="bold" fill="#2a2a2a" textLength="15.5" lengthAdjust="spacingAndGlyphs">@</text>
<text x="1231.0" y="768.8" font-family='"Liberation Sans", sans-serif' font-size="14" font-weight="bold" fill="#2a2a2a" textLength="42.0" lengthAdjust="spacingAndGlyphs">- 0.1 V</text>
<text x="1185.1" y="792.2" font-family='"Liberation Sans", sans-serif' font-size="14" font-weight="bold" fill="#2a2a2a" textLength="10.0" lengthAdjust="spacingAndGlyphs">V</text>
<text x="1195.0" y="797.2" font-family='"Liberation Sans", sans-serif' font-size="7" font-weight="bold" fill="#2a2a2a">D</text>
<text x="1204.0" y="792.2" font-family='"Liberation Sans", sans-serif' font-size="15" font-weight="bold" fill="#2a2a2a" textLength="15.5" lengthAdjust="spacingAndGlyphs">@</text>
<text x="1231.0" y="792.2" font-family='"Liberation Sans", sans-serif' font-size="14" font-weight="bold" fill="#2a2a2a" textLength="42.0" lengthAdjust="spacingAndGlyphs">- 0.5 V</text>
<text x="1111.8" y="840" font-family='"Liberation Sans", sans-serif' font-size="19" font-style="italic" font-weight="bold" fill="#222">μ</text>
<text x="1123.0" y="841.5" font-family='"Liberation Sans", sans-serif' font-size="11" font-weight="normal" fill="#222">FE</text>
<text x="1143.0" y="837.0" font-family='"Liberation Sans", sans-serif' font-size="18" font-weight="normal" fill="#333" textLength="13.0" lengthAdjust="spacingAndGlyphs">≈</text>
<text x="1164.7" y="836.1" font-family='"Liberation Sans", sans-serif' font-size="17" font-weight="bold" fill="#222" textLength="51.0" lengthAdjust="spacingAndGlyphs">10 cm</text>
<text x="1216.5" y="828.0" font-family='"Liberation Sans", sans-serif' font-size="10" font-weight="normal" fill="#222">2</text>
<text x="1225.0" y="836.1" font-family='"Liberation Sans", sans-serif' font-size="17" font-weight="normal" fill="#222" textLength="12.0" lengthAdjust="spacingAndGlyphs">V</text>
<text x="1238.0" y="828.0" font-family='"Liberation Sans", sans-serif' font-size="10" font-weight="normal" fill="#222">-1</text>
<text x="1248.0" y="836.1" font-family='"Liberation Sans", sans-serif' font-size="17" font-weight="normal" fill="#222" textLength="14.0" lengthAdjust="spacingAndGlyphs">.s</text>
<text x="1263.0" y="828.0" font-family='"Liberation Sans", sans-serif' font-size="10" font-weight="normal" fill="#222">-1</text>
<path d="M1004.3,784.6 L1006.9,786.9 L1009.5,788.3 L1012.2,789.6 L1014.8,790.6 L1017.4,793.1 L1020.0,794.6 L1022.7,795.6 L1025.3,797.1 L1027.9,798.2 L1030.5,799.3 L1033.2,801.4 L1035.8,803.2 L1038.4,803.9 L1040.9,806.7 L1043.5,807.5 L1046.0,809.1 L1048.5,810.5 L1051.0,813.7 L1053.6,814.9 L1056.1,816.8 L1058.6,818.1 L1061.1,818.8 L1063.7,820.9 L1066.2,822.8 L1068.7,823.9 L1071.2,827.3 L1073.7,828.4 L1076.3,830.1 L1078.8,833.2 L1081.3,834.2 L1083.8,837.5 L1086.4,838.8 L1088.9,841.0 L1091.4,842.7 L1093.9,845.9 L1096.4,848.3 L1099.0,851.0 L1101.5,855.3 L1104.0,857.2 L1106.5,860.9 L1109.2,864.9 L1111.8,871.0 L1114.5,875.8 L1117.2,880.4 L1119.9,884.5 L1122.7,888.3 L1125.4,892.6 L1128.1,895.8 L1130.8,900.4 L1133.6,905.1 L1136.3,908.2 L1139.0,913.4 L1141.8,917.4 L1144.5,920.8 L1147.2,925.2 L1149.9,929.9 L1152.7,934.3 L1155.4,939.8 L1158.1,943.4 L1160.8,947.3 L1163.6,952.0 L1166.3,957.5 L1169.0,962.5 L1171.7,966.4 L1174.5,971.0 L1177.2,975.8 L1179.9,980.8 L1182.6,984.6 L1185.4,989.9 L1188.1,994.5 L1190.8,1001.0 L1193.5,1006.6 L1196.2,1013.0 L1199.0,1019.6 L1201.7,1026.9 L1204.4,1032.4 L1207.1,1036.8 L1209.9,1040.5 L1212.6,1044.2 L1215.3,1048.3 L1218.0,1053.5 L1220.8,1057.6 L1223.5,1061.0 L1226.2,1065.6 L1228.9,1069.9 L1231.7,1074.7 L1234.4,1079.1 L1237.2,1082.6 L1239.9,1087.9 L1242.6,1091.1 L1245.3,1093.8 L1248.1,1097.5 L1250.8,1100.1 L1253.5,1103.2 L1256.2,1102.5 L1258.9,1102.9 L1261.7,1101.2 L1264.4,1100.6 L1267.1,1101.2 L1269.8,1103.9 L1272.6,1106.1 L1275.3,1109.4 L1278.0,1110.9 L1280.7,1114.0 L1283.5,1116.7 L1286.2,1119.8" stroke="#3c4fae" stroke-width="2.7" fill="none"/>
<path d="M1004.3,785.8 L1006.9,786.1 L1009.5,787.4 L1012.2,790.5 L1014.8,790.8 L1017.4,792.2 L1020.0,794.6 L1022.7,795.7 L1025.3,798.1 L1027.9,798.6 L1030.5,801.3 L1033.2,801.8 L1035.8,803.8 L1038.4,805.9 L1040.9,807.0 L1043.5,808.9 L1046.0,810.1 L1048.5,810.6 L1051.0,813.4 L1053.6,814.5 L1056.1,815.6 L1058.6,816.9 L1061.1,819.5 L1063.7,820.6 L1066.2,822.7 L1068.7,823.9 L1071.2,826.1 L1073.7,827.3 L1076.3,829.3 L1078.8,831.0 L1081.3,832.3 L1083.8,835.2 L1086.4,836.0 L1088.9,838.6 L1091.4,840.7 L1094.1,842.7 L1096.7,844.3 L1099.4,847.8 L1102.0,850.0 L1104.7,851.6 L1107.3,853.9 L1110.0,857.1 L1112.6,859.5 L1115.2,864.3 L1117.8,866.9 L1120.3,870.2 L1122.9,873.3 L1125.5,877.0 L1128.1,880.7 L1130.6,883.1 L1133.1,886.6 L1135.6,890.4 L1138.1,893.3 L1140.6,897.2 L1143.1,900.5 L1145.6,903.8 L1148.1,907.5 L1150.6,910.7 L1153.1,913.4 L1155.6,918.3 L1158.1,920.7 L1160.8,925.9 L1163.5,930.9 L1166.3,936.9 L1169.0,942.0 L1171.7,946.4 L1174.5,951.3 L1177.2,956.0 L1179.9,962.3 L1182.6,965.8 L1185.4,971.1 L1188.1,975.5 L1190.8,980.1 L1193.5,984.8 L1196.3,989.2 L1199.0,993.7 L1201.7,999.9 L1204.4,1005.8 L1207.2,1011.0 L1209.9,1015.7 L1212.6,1022.0 L1215.3,1026.4 L1218.0,1032.0 L1220.8,1037.6 L1223.5,1042.8 L1226.2,1047.0 L1229.0,1052.7 L1231.7,1057.1 L1234.4,1060.2 L1237.2,1063.4 L1239.9,1067.1 L1242.6,1069.7 L1245.3,1072.4 L1248.0,1075.8 L1250.8,1078.8 L1253.5,1081.4 L1256.2,1085.3 L1258.9,1088.7 L1261.7,1091.6 L1264.4,1095.4 L1267.1,1097.2 L1269.8,1099.6 L1272.6,1101.3 L1275.3,1102.4 L1278.0,1103.7 L1280.7,1106.1 L1283.5,1107.2 L1286.2,1108.9" stroke="#3c4fae" stroke-width="2.7" fill="none"/>
<path d="M1004.3,785.1 L1038.4,804.8 L1068.7,824.5 L1091.4,842" stroke="#3c4fae" stroke-width="4" fill="none"/>
<path d="M1004.3,854.0 L1006.6,855.1 L1008.8,855.9 L1011.1,855.2 L1013.4,857.2 L1015.7,857.8 L1017.9,859.0 L1020.2,859.1 L1022.5,860.2 L1024.8,861.7 L1027.0,862.2 L1029.3,863.6 L1031.6,863.7 L1033.9,864.8 L1036.1,867.0 L1038.4,867.3 L1040.7,868.9 L1043.1,870.7 L1045.4,871.4 L1047.7,872.2 L1050.1,875.0 L1052.4,876.0 L1054.7,877.5 L1057.0,878.8 L1059.4,880.9 L1061.7,881.1 L1064.0,883.3 L1066.4,883.9 L1068.7,885.6 L1071.1,887.3 L1073.4,888.1 L1075.8,889.2 L1078.2,891.4 L1080.5,893.4 L1082.9,894.7 L1085.3,895.9 L1087.6,897.8 L1090.0,898.4 L1092.3,900.2 L1094.5,902.3 L1096.8,905.1 L1099.1,905.7 L1101.3,907.4 L1103.6,909.1 L1105.9,910.9 L1108.1,913.2 L1110.4,915.6 L1112.7,917.9 L1114.9,918.7 L1117.2,920.6 L1119.5,922.7 L1121.8,925.0 L1124.0,928.3 L1126.3,930.1 L1128.6,931.8 L1130.8,933.7 L1133.1,937.3 L1135.4,939.4 L1137.7,942.0 L1140.0,943.0 L1142.2,945.9 L1144.5,948.9 L1146.9,952.8 L1149.3,958.1 L1151.8,961.1 L1154.2,967.2 L1156.6,969.9 L1159.0,975.2 L1161.5,979.0 L1163.9,985.1 L1166.3,989.4 L1168.6,995.4 L1171.0,1000.5 L1173.3,1006.2 L1175.6,1010.8 L1177.9,1017.2 L1180.3,1022.2 L1182.6,1026.8 L1184.9,1034.3 L1187.3,1039.3 L1189.6,1045.2 L1192.0,1051.2 L1194.3,1058.2 L1196.7,1063.9 L1199.0,1071.6 L1201.7,1075.7 L1204.5,1078.3 L1207.2,1082.2 L1209.9,1087.2 L1212.6,1096.4 L1215.4,1107.1 L1218.1,1117.6 L1220.8,1117.2 L1223.5,1118.2 L1226.3,1119.9 L1229.0,1119.7 L1231.3,1122.2 L1233.5,1126.0 L1235.8,1128.6 L1238.1,1131.5 L1240.3,1133.8 L1242.6,1135.9 L1245.3,1196.4 L1248.0,1140.7 L1250.8,1147.9 L1253.5,1154.7 L1256.0,1199.6 L1258.9,1234.0 L1261.0,1160.5 L1264.0,1156.4 L1267.1,1152.6 L1269.5,1169.4 L1272.0,1184.2 L1275.0,1179.9 L1278.0,1174.0 L1280.7,1215.2 L1283.0,1160.7 L1286.2,1166.1" stroke="#0a0a0a" stroke-width="2.5" fill="none"/>
<path d="M1004.3,853.6 L1006.6,854.8 L1008.8,854.3 L1011.1,856.9 L1013.4,856.1 L1015.7,858.0 L1017.9,857.7 L1020.2,859.9 L1022.5,859.6 L1024.8,861.6 L1027.0,862.5 L1029.3,863.5 L1031.6,863.7 L1033.9,865.5 L1036.1,866.6 L1038.4,865.7 L1040.7,867.8 L1043.1,870.0 L1045.4,870.8 L1047.7,871.5 L1050.1,872.5 L1052.4,875.0 L1054.7,874.6 L1057.0,877.2 L1059.4,878.6 L1061.7,878.5 L1064.0,880.1 L1066.4,881.3 L1068.7,883.1 L1071.1,883.9 L1073.4,886.1 L1075.8,887.4 L1078.2,887.3 L1080.5,889.7 L1082.9,889.2 L1085.3,890.4 L1087.6,892.8 L1090.0,894.2 L1092.3,895.8 L1094.5,897.6 L1096.8,898.9 L1099.1,899.2 L1101.4,901.7 L1103.6,903.5 L1105.9,903.4 L1108.2,905.7 L1110.5,906.6 L1112.7,908.1 L1115.0,910.2 L1117.3,912.1 L1119.5,914.3 L1121.8,914.1 L1124.1,916.4 L1126.4,918.9 L1128.6,919.9 L1130.9,921.0 L1133.2,922.9 L1135.4,926.1 L1137.7,927.9 L1140.0,931.2 L1142.2,933.7 L1144.5,935.6 L1146.8,938.9 L1149.0,940.6 L1151.3,943.3 L1153.6,946.5 L1155.8,947.8 L1158.1,950.2 L1160.5,955.2 L1162.9,959.2 L1165.4,964.3 L1167.8,967.3 L1170.2,971.8 L1172.6,975.4 L1175.1,980.4 L1177.5,984.4 L1179.9,988.9 L1182.3,995.0 L1184.7,999.0 L1187.1,1006.3 L1189.5,1011.2 L1191.8,1016.9 L1194.2,1021.8 L1196.6,1027.3 L1199.0,1032.4 L1201.3,1037.8 L1203.7,1042.9 L1206.0,1048.5 L1208.3,1054.0 L1210.6,1059.5 L1213.0,1066.1 L1215.3,1071.3 L1218.0,1077.8 L1220.8,1083.4 L1223.5,1090.7 L1226.2,1098.1 L1229.0,1102.5 L1231.7,1106.0 L1234.4,1116.0 L1237.1,1126.0 L1239.8,1128.8 L1242.5,1133.2 L1245.3,1138.0 L1248.0,1141.2 L1250.3,1143.6 L1252.7,1144.5 L1255.0,1145.3 L1257.4,1147.8 L1259.7,1148.5 L1262.1,1151.5 L1264.4,1153.2 L1267.2,1161.3 L1270.0,1170.8 L1272.5,1156.9 L1275.0,1144.9 L1277.8,1154.9 L1280.7,1165.2 L1283.3,1163.7 L1286.0,1160.0" stroke="#0a0a0a" stroke-width="2.5" fill="none"/>
<path d="M1004.3,853.2 L1038.4,867 L1068.7,884.3 L1090,896" stroke="#0a0a0a" stroke-width="3.4" fill="none"/>
<path d="M1148.6,959 H1160 M1159,952 L1169,959 L1159,966 Z" stroke="#e8342c" stroke-width="3" fill="#e8342c"/>
<path d="M1200.4,959 H1188 M1187.5,952 L1177.5,959 L1187.5,966 Z" stroke="#e8342c" stroke-width="3" fill="#e8342c"/>
<text x="1011.9" y="971.5" font-family='"Liberation Serif", serif' font-size="23" font-weight="bold" fill="#e0303a" textLength="110.0" lengthAdjust="spacingAndGlyphs">ΔV = 0.1 V</text>
<rect x="1019.6" y="1162.9" width="166.4" height="22.2" fill="#d8dcdf" stroke="#555" stroke-width="1"/>
<path d="M1121.7,1178.4 l10.4,2.7 M1140.4,1181.6 l4.2,-0.2 M1172.9,1176.7 l11.2,-2.3 M1097.1,1169.4 l8.4,0.4 M1024.1,1168.9 l6.2,2.5 M1144.5,1167.9 l10.4,-2.2 M1120.8,1167.3 l4.0,2.2 M1055.5,1168.9 l11.9,2.2 M1068.3,1182.3 l8.3,1.1 M1054.8,1181.9 l9.5,2.8 M1165.0,1170.4 l6.9,-2.0 M1045.3,1166.2 l6.4,0.6 M1022.5,1177.2 l6.7,-1.1 M1153.0,1173.7 l6.5,-0.1 " stroke="#a8b0b8" stroke-width="1.3" fill="none" opacity="0.8"/>
<path d="M1019.6,1148.1 L1036.2,1148.1 L1054.3,1126.2 L1152.5,1126.2 L1172.0,1148.1 L1186.0,1148.1 L1186.0,1162.9 L1019.6,1162.9 Z" fill="#a9d9e6" stroke="#555" stroke-width="1"/>
<path d="M1019.6,1127.7 L1036.2,1127.7 L1052.8,1105.8 L1152.5,1105.8 L1172.0,1127.7 L1186.0,1127.7 L1186.0,1148.1 L1172.0,1148.1 L1152.5,1126.2 L1054.3,1126.2 L1036.2,1148.1 L1019.6,1148.1 Z" fill="#a8c88a" stroke="#555" stroke-width="1"/>
<path d="M1019.6,1107.4 L1031.0,1107.4 L1048.3,1085.5 L1078.5,1085.5 L1078.5,1105.8 L1052.8,1105.8 L1036.2,1127.7 L1019.6,1127.7 Z" fill="#cfcfd2" stroke="#555" stroke-width="1"/>
<path d="M1126.0,1085.5 L1157.0,1085.5 L1174.0,1107.4 L1186.0,1107.4 L1186.0,1127.7 L1172.0,1127.7 L1152.5,1105.8 L1126.0,1105.8 Z" fill="#cfcfd2" stroke="#555" stroke-width="1"/>
<rect x="1052.8" y="1147.4" width="100.4" height="15.5" fill="#f6b21c" stroke="#444" stroke-width="1"/>
<rect x="1071.2" y="1091.5" width="63.1" height="13.6" fill="#fffbe8" stroke="#444" stroke-width="1"/>
<circle cx="1074.5" cy="1095" r="0.9" fill="#e0b030"/><circle cx="1077.0" cy="1098.3" r="1" fill="#3aa070"/><circle cx="1074.5" cy="1101.6" r="0.9" fill="#e0b030"/><circle cx="1079.6" cy="1095" r="0.9" fill="#e0b030"/><circle cx="1082.1" cy="1098.3" r="1" fill="#3aa070"/><circle cx="1079.6" cy="1101.6" r="0.9" fill="#e0b030"/><circle cx="1084.7" cy="1095" r="0.9" fill="#e0b030"/><circle cx="1087.2" cy="1098.3" r="1" fill="#3aa070"/><circle cx="1084.7" cy="1101.6" r="0.9" fill="#e0b030"/><circle cx="1089.8" cy="1095" r="0.9" fill="#e0b030"/><circle cx="1092.3" cy="1098.3" r="1" fill="#3aa070"/><circle cx="1089.8" cy="1101.6" r="0.9" fill="#e0b030"/><circle cx="1094.9" cy="1095" r="0.9" fill="#e0b030"/><circle cx="1097.4" cy="1098.3" r="1" fill="#3aa070"/><circle cx="1094.9" cy="1101.6" r="0.9" fill="#e0b030"/><circle cx="1100.0" cy="1095" r="0.9" fill="#e0b030"/><circle cx="1102.5" cy="1098.3" r="1" fill="#3aa070"/><circle cx="1100.0" cy="1101.6" r="0.9" fill="#e0b030"/><circle cx="1105.1" cy="1095" r="0.9" fill="#e0b030"/><circle cx="1107.6" cy="1098.3" r="1" fill="#3aa070"/><circle cx="1105.1" cy="1101.6" r="0.9" fill="#e0b030"/><circle cx="1110.2" cy="1095" r="0.9" fill="#e0b030"/><circle cx="1112.7" cy="1098.3" r="1" fill="#3aa070"/><circle cx="1110.2" cy="1101.6" r="0.9" fill="#e0b030"/><circle cx="1115.3" cy="1095" r="0.9" fill="#e0b030"/><circle cx="1117.8" cy="1098.3" r="1" fill="#3aa070"/><circle cx="1115.3" cy="1101.6" r="0.9" fill="#e0b030"/><circle cx="1120.4" cy="1095" r="0.9" fill="#e0b030"/><circle cx="1122.9" cy="1098.3" r="1" fill="#3aa070"/><circle cx="1120.4" cy="1101.6" r="0.9" fill="#e0b030"/><circle cx="1125.5" cy="1095" r="0.9" fill="#e0b030"/><circle cx="1128.0" cy="1098.3" r="1" fill="#3aa070"/><circle cx="1125.5" cy="1101.6" r="0.9" fill="#e0b030"/><circle cx="1130.6" cy="1095" r="0.9" fill="#e0b030"/><circle cx="1133.1" cy="1098.3" r="1" fill="#3aa070"/><circle cx="1130.6" cy="1101.6" r="0.9" fill="#e0b030"/>
<path d="M1026.4,1078.7 V1107.4 M1016.6,1078.7 H1033.2 M1020,1073.5 H1030 M1023,1068.3 H1027 M1180.4,1080.2 V1107.4 M1103.4,1185.1 V1202.5" stroke="#444" stroke-width="1.3" fill="none"/>
<circle cx="1180.4" cy="1077.2" r="3" fill="#fff" stroke="#444" stroke-width="1.3"/>
<circle cx="1103.4" cy="1205.5" r="3" fill="#fff" stroke="#444" stroke-width="1.3"/>
<text x="1086.0" y="1078.0" font-family='"Liberation Sans", sans-serif' font-size="12" font-weight="bold" fill="#333" textLength="32.0" lengthAdjust="spacingAndGlyphs">MoTe</text>
<text x="1118.5" y="1080.5" font-family='"Liberation Sans", sans-serif' font-size="8" font-weight="bold" fill="#333">2</text>
<text x="1049.0" y="1098.3" font-family='"Liberation Sans", sans-serif' font-size="9" font-weight="bold" fill="#333">Pt</text>
<text x="1147.0" y="1101.0" font-family='"Liberation Sans", sans-serif' font-size="9" font-weight="bold" fill="#333">Pt</text>
<text x="1074.0" y="1119.4" font-family='"Liberation Sans", sans-serif' font-size="10" font-weight="bold" fill="#2f4a2a" textLength="58.0" lengthAdjust="spacingAndGlyphs">BCB (30 nm)</text>
<text x="1071.0" y="1139.8" font-family='"Liberation Sans", sans-serif' font-size="10" font-weight="bold" fill="#1a3a5a">Al</text>
<text x="1081.0" y="1141.5" font-family='"Liberation Sans", sans-serif' font-size="6" font-weight="bold" fill="#1a3a5a">2</text>
<text x="1084.5" y="1139.8" font-family='"Liberation Sans", sans-serif' font-size="10" font-weight="bold" fill="#1a3a5a">O</text>
<text x="1092.5" y="1141.5" font-family='"Liberation Sans", sans-serif' font-size="6" font-weight="bold" fill="#1a3a5a">3</text>
<text x="1097.0" y="1139.8" font-family='"Liberation Sans", sans-serif' font-size="10" font-weight="bold" fill="#1a3a5a" textLength="37.0" lengthAdjust="spacingAndGlyphs">(10 nm)</text>
<text x="1096.6" y="1158.7" font-family='"Liberation Sans", sans-serif' font-size="9.5" font-weight="bold" fill="#333">Au</text>
<text x="1175.0" y="1067.4" font-family='"Liberation Sans", sans-serif' font-size="12" font-weight="normal" fill="#333">V</text>
<text x="1182.5" y="1069.5" font-family='"Liberation Sans", sans-serif' font-size="8" font-weight="normal" fill="#333">D</text>
<text x="1096.6" y="1227.4" font-family='"Liberation Sans", sans-serif' font-size="12" font-weight="normal" fill="#333">V</text>
<text x="1104.0" y="1229.5" font-family='"Liberation Sans", sans-serif' font-size="8" font-weight="normal" fill="#333">G</text>
</svg>
</body></html>
